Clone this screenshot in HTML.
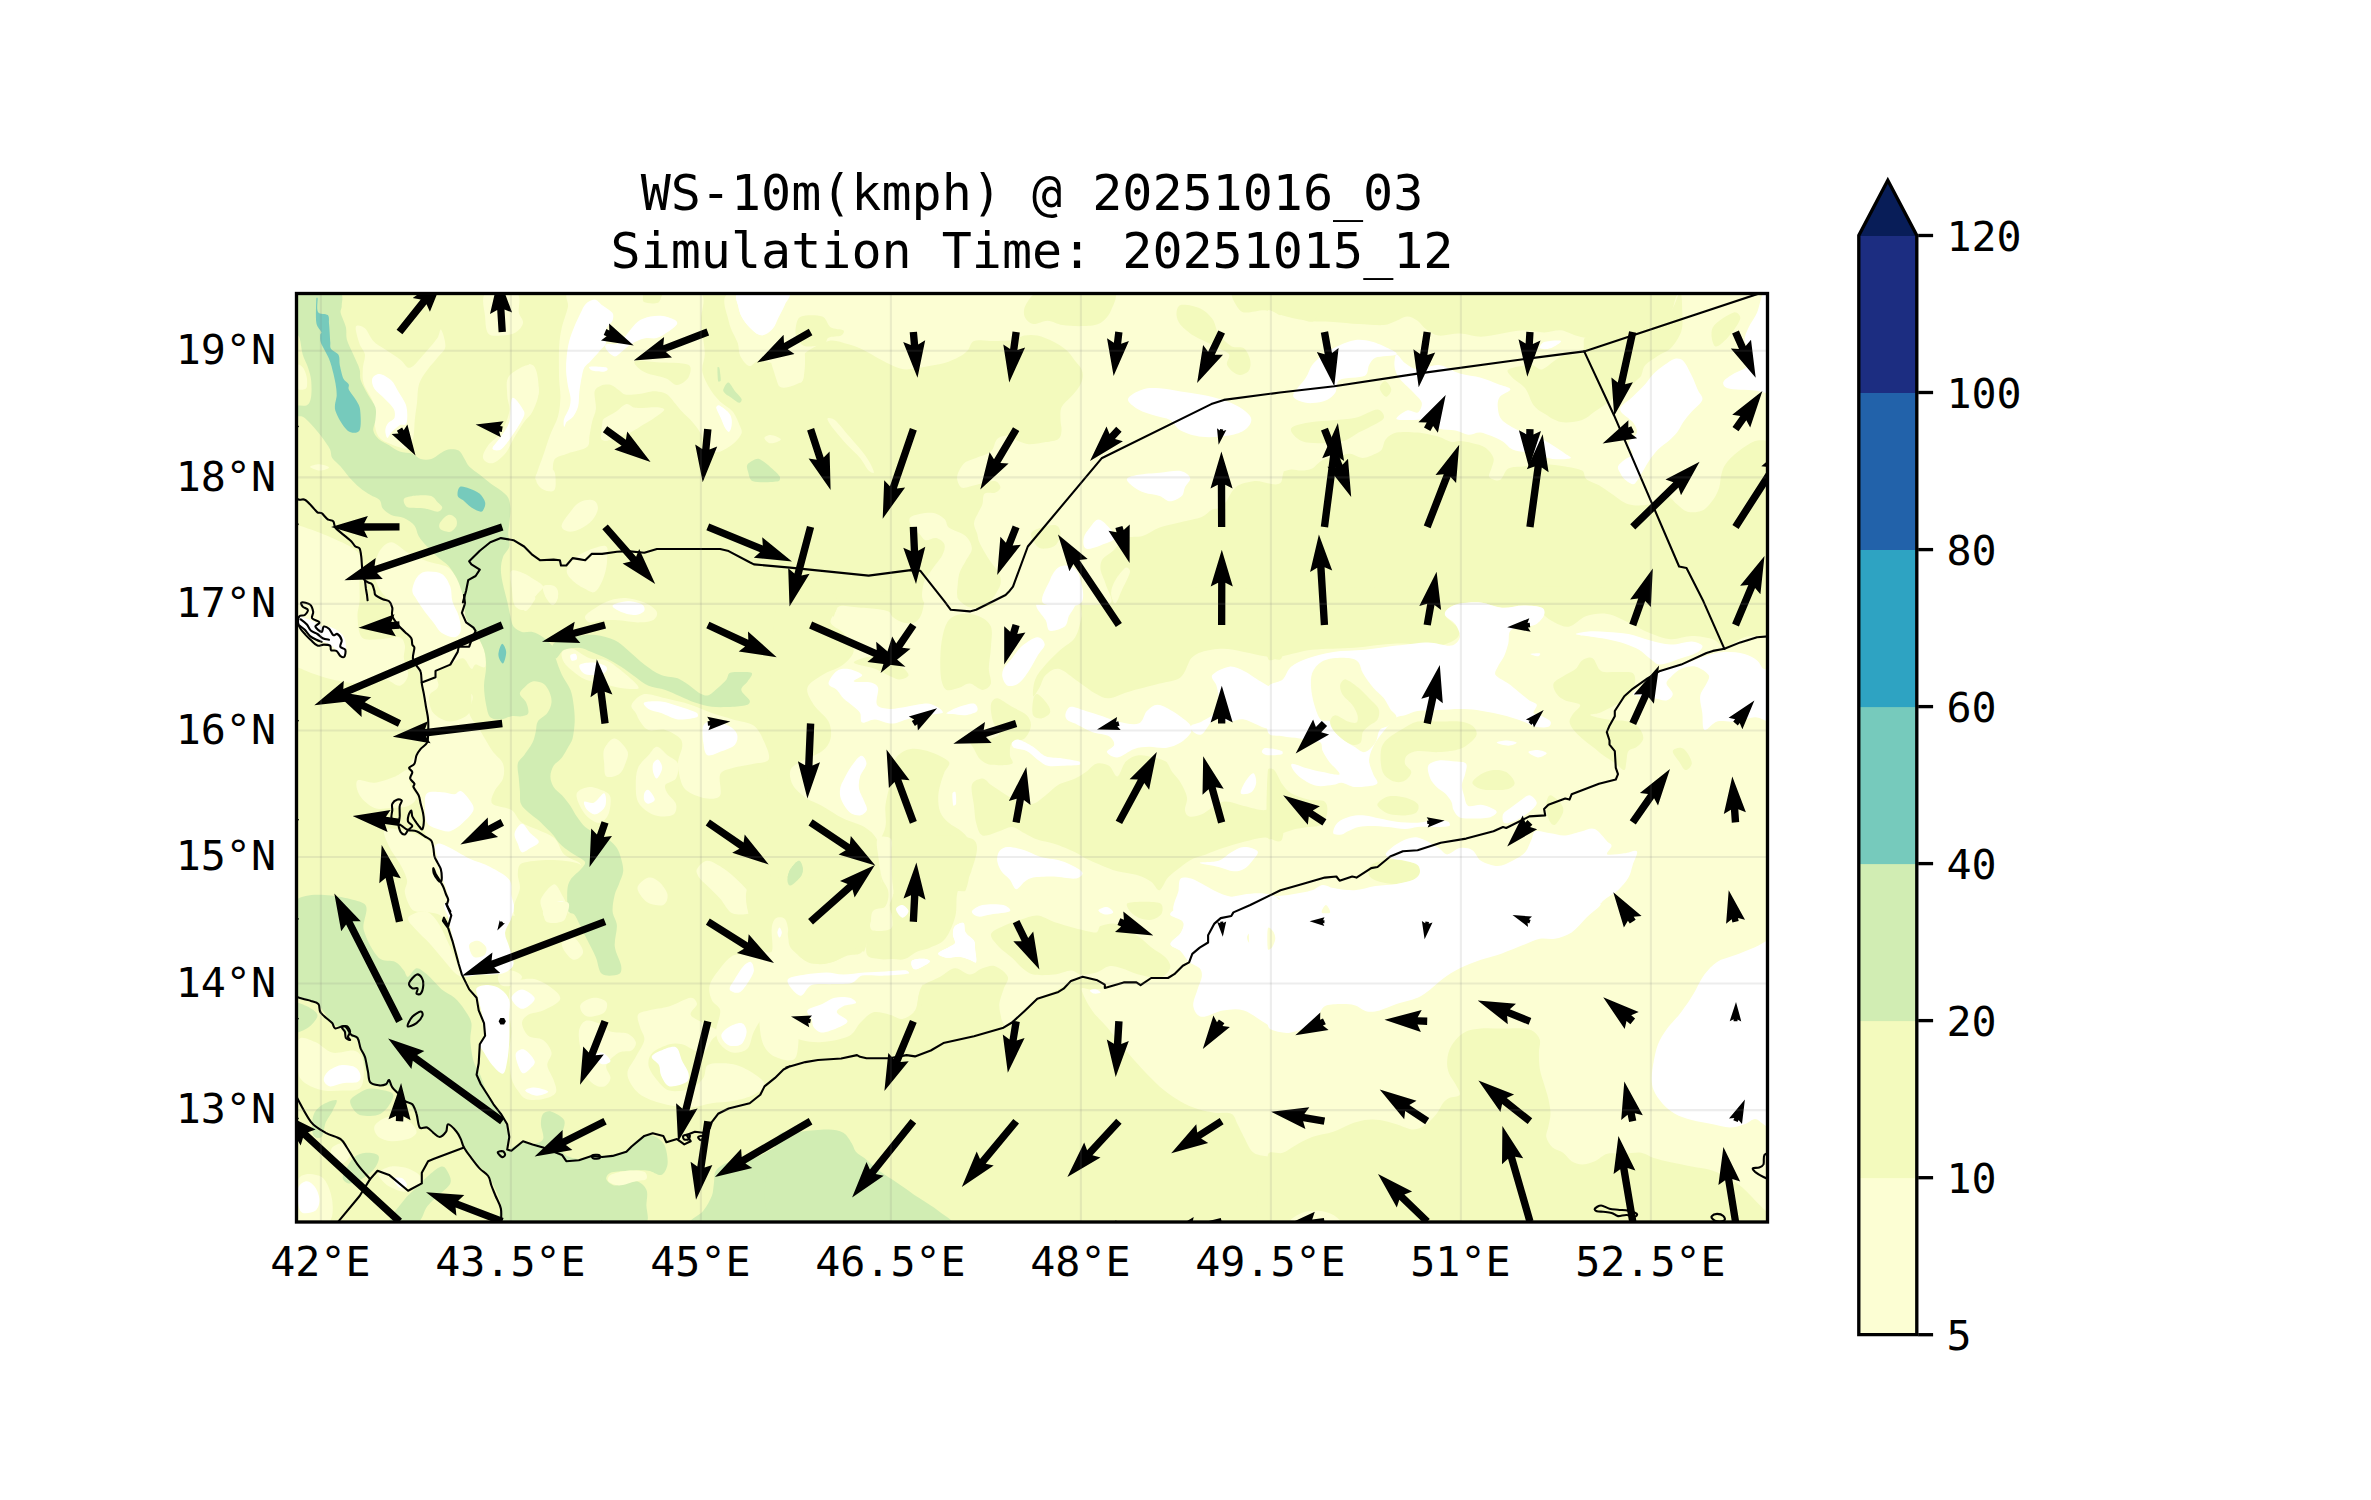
<!DOCTYPE html>
<html lang="en"><head><meta charset="utf-8"><title>WS-10m(kmph) @ 20251016_03</title>
<style>html,body{margin:0;padding:0;background:#fff;overflow:hidden}svg{display:block}text{font-family:'DejaVu Sans Mono','Liberation Mono',monospace;fill:#000}</style>
</head><body>
<svg width="2371" height="1500" viewBox="0 0 2371 1500">
<defs><clipPath id="ax"><rect x="296.5" y="293.5" width="1471.0" height="928.5"/></clipPath></defs>
<rect x="0" y="0" width="2371" height="1500" fill="#fff"/>
<g clip-path="url(#ax)">
<rect x="296.5" y="293.5" width="1471.0" height="928.5" fill="#f3fabd"/>
<polygon points="780.0,595.0 1290.0,595.0 1290.0,920.0 780.0,920.0" fill="#fcfed3"/>
<polygon points="1280.0,595.0 1780.0,595.0 1780.0,920.0 1280.0,920.0" fill="#fcfed3"/>
<path d="M835.1 593.2 C850.6 591.2 909.7 591.2 924.5 593.2 C928.7 593.7 924.2 601.3 923.7 605.0 C923.1 608.6 922.4 612.3 921.1 615.1 C919.9 617.9 918.0 620.4 916.1 621.8 C914.1 623.2 911.8 623.5 909.3 623.5 C906.8 623.5 903.7 623.0 900.9 621.8 C898.1 620.7 894.4 618.5 892.4 616.8 C890.8 615.3 891.0 612.8 889.1 611.7 C886.8 610.4 882.7 609.7 878.9 609.2 C873.9 608.5 864.9 608.1 858.7 607.5 C852.6 606.9 845.5 605.7 841.8 605.8 C839.8 605.9 838.0 606.7 836.8 608.3 C835.4 610.2 834.2 617.3 833.4 616.8 C832.6 616.2 831.4 608.9 831.7 605.0 C832.0 601.0 830.7 593.7 835.1 593.2 Z" fill="#f3fabd"/>
<path d="M777.9 592.9 C781.2 573.4 822.9 590.4 832.7 592.9 C838.1 594.2 837.3 602.7 836.9 607.7 C836.6 612.6 829.6 618.2 830.6 622.4 C831.7 626.6 839.4 628.4 843.3 633.0 C847.1 637.5 853.8 644.6 853.8 649.8 C853.8 655.1 848.4 660.5 843.3 664.6 C838.0 668.8 828.2 671.3 822.2 675.1 C816.3 678.9 808.8 682.9 807.4 687.8 C806.0 692.7 810.3 699.2 813.7 704.7 C817.3 710.3 825.7 715.9 828.5 721.5 C831.2 727.0 831.7 733.5 830.6 738.4 C829.6 743.3 826.5 747.7 822.2 751.1 C817.3 754.9 806.4 758.4 801.1 761.6 C796.9 764.1 791.9 766.2 790.5 770.0 C789.1 773.9 790.2 780.2 792.7 784.8 C795.1 789.4 800.4 793.9 805.3 797.4 C810.2 801.0 816.2 802.6 822.2 805.9 C828.5 809.4 836.2 815.0 843.3 818.5 C850.3 822.0 858.7 823.5 864.4 827.0 C869.8 830.4 874.5 834.4 877.0 839.6 C879.5 844.9 878.4 851.9 879.1 858.6 C879.8 865.3 879.8 872.7 881.2 879.7 C882.6 886.7 885.8 895.2 887.5 900.8 C889.0 905.4 896.5 912.9 891.8 913.4 C873.5 915.5 791.6 952.1 777.9 913.4 C758.9 860.0 768.8 646.3 777.9 592.9 Z" fill="#f3fabd"/>
<path d="M853.8 662.5 C853.8 660.4 867.5 655.8 874.9 656.2 C882.3 656.5 892.5 661.4 898.1 664.6 C902.8 667.2 908.6 672.7 908.6 675.1 C908.6 677.6 902.1 680.1 898.1 679.4 C892.5 678.3 882.3 671.6 874.9 668.8 C867.5 666.0 853.8 664.6 853.8 662.5 Z" fill="#f3fabd"/>
<path d="M942.4 637.2 C943.8 630.8 945.5 624.2 948.7 620.3 C951.9 616.4 956.4 614.7 961.4 614.0 C966.3 613.3 973.3 614.0 978.2 616.1 C983.1 618.2 988.8 621.4 990.9 626.6 C993.0 631.9 991.2 640.7 990.9 647.7 C990.5 654.7 988.8 662.8 988.8 668.8 C988.8 674.2 991.9 680.1 990.9 683.6 C989.8 687.1 986.0 689.9 982.4 689.9 C978.9 689.9 973.7 683.9 969.8 683.6 C965.9 683.2 963.1 686.7 959.2 687.8 C955.4 688.8 949.6 691.3 946.6 689.9 C943.6 688.5 942.2 683.5 941.3 679.4 C940.3 674.1 940.1 665.3 940.3 658.3 C940.4 651.2 941.0 643.5 942.4 637.2 Z" fill="#f3fabd"/>
<path d="M957.1 592.9 C963.1 590.8 994.7 591.1 1001.4 592.9 C1005.4 593.9 1000.7 601.2 997.2 603.4 C993.3 605.9 983.5 607.3 978.2 607.7 C973.6 608.0 969.1 608.0 965.6 605.5 C962.1 603.1 952.0 594.7 957.1 592.9 Z" fill="#f3fabd"/>
<path d="M990.9 704.7 C991.5 701.5 994.0 698.0 997.2 698.3 C1000.7 698.7 1007.0 704.0 1012.0 706.8 C1016.9 709.6 1023.6 712.0 1026.7 715.2 C1029.6 718.1 1031.3 721.9 1030.9 725.7 C1030.6 729.6 1027.8 735.6 1024.6 738.4 C1021.5 741.2 1014.4 739.8 1012.0 742.6 C1009.5 745.4 1009.9 751.8 1009.9 755.3 C1009.9 758.4 1014.8 762.3 1012.0 763.7 C1008.8 765.3 996.2 765.5 990.9 764.8 C986.7 764.2 983.1 762.1 980.3 759.5 C977.5 756.9 975.8 752.1 974.0 748.9 C972.4 746.0 968.4 741.9 969.8 740.5 C971.2 739.1 978.0 741.5 982.4 740.5 C987.4 739.5 997.6 737.3 999.3 734.2 C1001.1 731.0 994.4 726.4 993.0 721.5 C991.6 716.6 990.2 708.5 990.9 704.7 Z" fill="#f3fabd"/>
<path d="M1033.1 700.4 C1033.6 697.8 1034.8 693.4 1037.3 694.1 C1039.7 694.8 1045.7 701.5 1047.8 704.7 C1049.6 707.3 1051.0 710.8 1049.9 713.1 C1048.9 715.4 1044.3 718.0 1041.5 718.4 C1038.7 718.7 1034.4 718.1 1033.1 715.2 C1031.7 712.2 1032.4 704.0 1033.1 700.4 Z" fill="#f3fabd"/>
<path d="M1083.7 592.9 C1117.1 589.0 1248.9 582.2 1281.9 592.9 C1303.9 600.0 1284.7 646.7 1281.9 657.2 C1280.3 663.1 1271.1 657.0 1265.0 656.2 C1258.7 655.3 1251.0 653.2 1243.9 651.9 C1236.9 650.7 1229.9 648.8 1222.9 648.8 C1215.8 648.8 1207.0 650.4 1201.8 651.9 C1197.5 653.2 1194.1 654.9 1191.2 658.3 C1187.7 662.5 1185.9 673.0 1180.7 677.2 C1175.4 681.5 1167.2 681.4 1159.6 683.6 C1150.8 686.0 1136.4 689.5 1128.0 692.0 C1121.0 694.0 1114.2 698.0 1109.0 698.3 C1104.2 698.7 1100.5 696.5 1096.3 694.1 C1090.7 691.0 1081.6 683.6 1075.2 679.4 C1069.3 675.4 1063.3 669.5 1058.4 668.8 C1053.4 668.1 1048.9 672.0 1045.7 675.1 C1042.5 678.3 1041.5 684.3 1039.4 687.8 C1037.4 691.0 1033.8 697.6 1033.1 696.2 C1032.4 694.8 1033.1 684.6 1035.2 679.4 C1037.3 674.1 1041.5 669.5 1045.7 664.6 C1049.9 659.7 1055.6 654.4 1060.5 649.8 C1065.4 645.3 1071.7 642.8 1075.2 637.2 C1078.7 631.6 1080.2 623.5 1081.6 616.1 C1083.0 608.7 1075.3 593.9 1083.7 592.9 Z" fill="#f3fabd"/>
<path d="M898.1 755.3 C901.3 752.1 905.8 749.6 910.7 748.9 C915.7 748.2 921.8 749.1 927.6 751.1 C933.9 753.2 945.9 758.1 948.7 761.6 C951.3 764.8 945.9 768.3 944.5 772.1 C943.1 776.0 941.3 780.6 940.3 784.8 C939.2 789.0 938.2 792.9 938.2 797.4 C938.2 802.0 938.5 808.0 940.3 812.2 C942.0 816.4 945.2 819.6 948.7 822.8 C952.2 825.9 957.8 828.0 961.4 831.2 C964.9 834.4 968.0 837.2 969.8 841.7 C971.6 846.3 971.9 853.3 971.9 858.6 C971.9 863.9 970.8 868.1 969.8 873.4 C968.7 878.6 967.7 885.7 965.6 890.2 C963.5 894.6 959.2 896.9 957.1 900.8 C955.0 904.6 957.6 912.5 952.9 913.4 C942.0 915.5 903.7 919.1 891.8 913.4 C880.3 908.0 883.3 888.8 881.2 879.7 C879.5 872.3 879.8 863.9 879.1 858.6 C878.6 854.8 876.2 851.9 877.0 848.1 C878.1 842.8 884.0 834.0 885.4 827.0 C886.8 819.9 884.7 812.9 885.4 805.9 C886.1 798.9 888.6 791.1 889.7 784.8 C890.7 778.8 890.4 772.8 891.8 767.9 C893.2 763.0 894.9 758.4 898.1 755.3 Z" fill="#f3fabd"/>
<path d="M971.9 784.8 C973.2 780.6 979.3 778.5 982.4 778.5 C985.6 778.5 987.8 782.6 990.9 784.8 C994.4 787.3 999.0 790.4 1003.5 793.2 C1008.1 796.0 1013.4 799.9 1018.3 801.7 C1023.2 803.4 1028.5 804.8 1033.1 803.8 C1037.6 802.7 1041.5 798.5 1045.7 795.3 C1049.9 792.2 1053.4 787.6 1058.4 784.8 C1063.3 782.0 1070.7 780.6 1075.2 778.5 C1079.3 776.6 1082.3 774.6 1085.8 772.1 C1089.3 769.7 1092.5 764.8 1096.3 763.7 C1100.2 762.7 1105.5 763.7 1109.0 765.8 C1112.5 767.9 1114.6 777.1 1117.4 776.4 C1120.2 775.7 1122.3 765.1 1125.8 761.6 C1129.4 758.1 1133.9 756.0 1138.5 755.3 C1143.1 754.6 1148.7 756.3 1153.3 757.4 C1157.8 758.4 1162.7 759.1 1165.9 761.6 C1169.1 764.1 1169.8 768.6 1172.2 772.1 C1174.7 775.7 1178.2 778.5 1180.7 782.7 C1183.1 786.9 1186.3 792.9 1187.0 797.4 C1187.7 802.0 1184.5 806.9 1184.9 810.1 C1185.2 812.8 1186.5 815.8 1189.1 816.4 C1191.9 817.1 1197.5 816.2 1201.8 814.3 C1207.4 811.9 1215.8 803.1 1222.9 801.7 C1229.9 800.3 1236.9 804.5 1243.9 805.9 C1251.0 807.3 1258.7 810.5 1265.0 810.1 C1271.4 809.7 1279.1 798.9 1281.9 803.8 C1284.7 808.7 1284.7 834.0 1281.9 839.6 C1279.2 845.1 1271.1 837.2 1265.0 837.5 C1258.7 837.9 1251.0 840.0 1243.9 841.7 C1236.9 843.5 1229.2 845.9 1222.9 848.1 C1216.7 850.1 1210.9 852.6 1206.0 854.4 C1201.5 856.0 1197.5 856.5 1193.3 858.6 C1189.1 860.7 1184.9 863.9 1180.7 867.0 C1176.5 870.2 1171.5 873.7 1168.0 877.6 C1164.5 881.4 1162.4 889.5 1159.6 890.2 C1156.8 890.9 1154.7 884.3 1151.2 881.8 C1147.6 879.3 1143.4 877.0 1138.5 875.5 C1132.9 873.7 1123.7 873.0 1117.4 871.3 C1111.2 869.5 1105.8 867.0 1100.5 864.9 C1095.3 862.8 1090.0 860.7 1085.8 858.6 C1081.8 856.6 1079.2 854.1 1075.2 852.3 C1070.0 849.8 1060.5 845.9 1054.1 843.8 C1048.2 841.9 1042.2 841.4 1037.3 839.6 C1032.5 837.9 1028.8 835.4 1024.6 833.3 C1020.4 831.2 1016.2 827.3 1012.0 827.0 C1007.8 826.6 1003.9 829.9 999.3 831.2 C994.4 832.6 986.3 836.8 982.4 835.4 C978.6 834.0 977.5 827.6 976.1 822.8 C974.7 817.8 974.7 812.0 974.0 805.9 C973.3 799.6 970.5 789.4 971.9 784.8 Z" fill="#f3fabd"/>
<path d="M787.4 879.7 C787.4 876.9 788.6 872.3 790.5 869.1 C792.5 866.0 796.9 860.7 799.0 860.7 C801.0 860.7 802.6 866.3 802.8 869.1 C803.0 872.0 801.9 875.0 800.0 877.6 C798.0 880.3 792.7 885.2 790.5 885.6 C788.4 885.9 787.4 882.1 787.4 879.7 Z" fill="#d1edb3"/>
<path d="M828.5 683.6 C828.5 680.4 833.4 673.3 836.9 670.9 C840.5 668.5 845.4 668.5 849.6 669.2 C853.8 669.9 861.5 673.1 862.2 675.1 C862.9 677.2 852.4 680.2 853.8 681.5 C855.2 682.7 866.6 681.5 870.7 682.5 C873.8 683.3 877.2 684.6 878.1 687.8 C879.1 691.5 875.1 701.1 877.0 704.7 C878.9 708.2 884.9 708.5 889.7 708.9 C894.6 709.2 900.5 707.6 906.5 706.8 C912.9 705.9 922.0 703.3 927.6 703.6 C932.5 703.9 937.8 707.3 940.3 708.9 C941.7 709.8 943.9 712.3 942.4 713.1 C940.3 714.1 932.9 714.3 927.6 715.2 C921.6 716.3 912.5 718.0 906.5 719.4 C901.1 720.7 897.0 723.6 891.8 723.6 C886.5 723.6 879.8 719.6 874.9 719.4 C870.2 719.3 864.7 723.6 862.2 722.6 C859.8 721.5 861.5 715.7 860.1 713.1 C858.7 710.5 856.2 708.9 853.8 706.8 C851.0 704.3 846.1 701.1 843.3 698.3 C840.6 695.6 839.4 692.4 836.9 689.9 C834.5 687.4 828.5 686.7 828.5 683.6 Z" fill="#ffffff"/>
<path d="M946.6 713.1 C947.7 711.9 954.7 708.3 959.2 706.8 C963.8 705.2 971.0 702.9 974.0 703.6 C976.8 704.3 978.6 709.1 977.2 711.0 C975.8 712.9 969.6 714.7 965.6 715.2 C961.5 715.7 956.1 714.5 952.9 714.1 C950.6 713.9 945.5 714.3 946.6 713.1 Z" fill="#ffffff"/>
<path d="M1003.5 668.8 C1005.1 665.6 1008.9 662.0 1012.0 658.3 C1015.1 654.4 1018.3 649.1 1022.5 645.6 C1026.7 642.1 1033.6 637.4 1037.3 637.2 C1041.0 637.0 1044.7 641.4 1044.7 644.6 C1044.7 647.7 1039.8 651.9 1037.3 656.2 C1034.6 660.5 1032.0 666.3 1028.8 670.9 C1025.7 675.5 1021.8 681.1 1018.3 683.6 C1015.1 685.8 1010.4 686.7 1007.8 685.7 C1005.1 684.6 1003.2 680.1 1002.5 677.2 C1001.8 674.4 1002.2 671.5 1003.5 668.8 Z" fill="#ffffff"/>
<path d="M1036.2 605.5 C1035.9 601.0 1038.5 594.4 1043.6 592.9 C1050.8 590.8 1074.2 590.8 1079.5 592.9 C1083.9 594.7 1077.0 601.7 1075.2 605.5 C1073.5 609.4 1070.7 612.6 1068.9 616.1 C1067.2 619.6 1067.9 624.2 1064.7 626.6 C1061.5 629.1 1053.1 631.9 1049.9 630.8 C1046.8 629.8 1047.7 623.9 1045.7 620.3 C1043.4 616.1 1036.6 610.1 1036.2 605.5 Z" fill="#ffffff"/>
<path d="M1012.0 742.6 C1012.7 741.2 1015.8 739.0 1018.3 739.5 C1021.8 740.2 1028.5 744.0 1033.1 746.8 C1037.6 749.6 1040.8 754.4 1045.7 756.3 C1050.6 758.3 1057.0 757.6 1062.6 758.4 C1068.2 759.3 1076.6 760.5 1079.5 761.6 C1080.5 762.0 1080.6 764.5 1079.5 764.8 C1076.6 765.5 1067.9 765.6 1062.6 765.8 C1057.3 766.0 1052.0 766.9 1047.8 765.8 C1043.6 764.8 1040.8 761.9 1037.3 759.5 C1033.8 757.0 1030.6 753.0 1026.7 751.1 C1022.9 749.1 1016.5 749.3 1014.1 747.9 C1012.3 746.9 1011.3 744.0 1012.0 742.6 Z" fill="#ffffff"/>
<path d="M843.3 780.6 C845.2 776.7 848.7 770.0 851.7 765.8 C854.6 761.8 858.7 756.0 861.2 755.7 C863.6 755.3 866.6 760.3 866.5 763.7 C866.3 767.1 861.4 772.1 860.1 776.4 C858.9 780.6 858.4 784.8 859.1 789.0 C859.8 793.2 863.1 798.1 864.4 801.7 C865.5 804.6 867.6 807.8 866.9 810.1 C866.2 812.4 863.0 815.0 860.1 815.4 C857.3 815.7 852.6 814.7 849.6 812.2 C846.4 809.6 842.7 803.4 841.2 799.6 C839.7 796.0 839.7 792.2 840.1 789.0 C840.5 785.8 841.8 783.5 843.3 780.6 Z" fill="#ffffff"/>
<path d="M952.5 793.2 C952.7 792.1 955.1 791.1 955.5 792.2 C956.1 793.9 956.4 801.6 956.1 803.8 C955.9 804.9 953.7 806.6 953.3 805.5 C952.7 803.7 952.1 795.4 952.5 793.2 Z" fill="#ffffff"/>
<path d="M1065.7 713.1 C1066.4 711.0 1068.1 707.1 1071.0 706.8 C1074.4 706.4 1080.5 709.4 1085.8 711.0 C1091.1 712.6 1097.4 714.5 1102.6 716.3 C1107.9 718.0 1111.9 720.4 1117.4 721.5 C1123.4 722.8 1133.6 725.4 1138.5 723.6 C1143.4 721.9 1143.8 714.1 1146.9 711.0 C1150.1 707.9 1153.3 704.7 1157.5 704.7 C1161.7 704.7 1167.3 708.0 1172.2 711.0 C1177.5 714.1 1185.9 720.1 1189.1 723.6 C1191.2 726.0 1192.5 729.2 1191.2 732.1 C1189.8 735.2 1184.9 740.0 1180.7 742.6 C1176.5 745.3 1171.2 747.2 1165.9 747.9 C1160.6 748.6 1154.3 746.7 1149.0 746.8 C1143.8 747.0 1139.4 747.2 1134.3 748.9 C1129.0 750.7 1122.0 756.9 1117.4 757.4 C1113.2 757.9 1107.4 754.2 1106.9 752.1 C1106.3 750.0 1113.9 747.4 1114.2 744.7 C1114.6 742.1 1112.1 738.1 1109.0 736.3 C1105.3 734.2 1097.7 734.2 1092.1 732.1 C1086.5 730.0 1079.5 725.7 1075.2 723.6 C1072.2 722.1 1068.4 721.2 1066.8 719.4 C1065.3 717.7 1065.0 715.2 1065.7 713.1 Z" fill="#ffffff"/>
<path d="M1212.3 675.1 C1214.4 672.0 1223.9 667.4 1229.2 666.7 C1234.4 666.0 1238.9 668.6 1243.9 670.9 C1249.2 673.4 1255.9 678.6 1260.8 681.5 C1265.2 684.0 1269.9 687.4 1273.5 687.8 C1276.8 688.1 1281.2 680.2 1281.9 683.6 C1283.3 690.6 1284.7 722.6 1281.9 730.0 C1279.7 735.7 1270.9 729.5 1265.0 727.9 C1258.7 726.1 1249.9 720.5 1243.9 719.4 C1238.7 718.5 1234.1 721.5 1229.2 721.5 C1224.3 721.5 1219.0 717.3 1214.4 719.4 C1209.8 721.5 1205.3 732.1 1201.8 734.2 C1199.1 735.8 1195.1 733.5 1193.3 732.1 C1191.6 730.7 1189.8 727.5 1191.2 725.7 C1192.6 724.0 1198.2 723.5 1201.8 721.5 C1205.6 719.4 1211.6 716.6 1214.4 713.1 C1217.2 709.6 1218.3 705.0 1218.6 700.4 C1219.0 695.9 1217.6 689.9 1216.5 685.7 C1215.5 681.7 1210.2 678.3 1212.3 675.1 Z" fill="#ffffff"/>
<path d="M1240.8 793.2 C1239.9 791.3 1243.9 783.9 1246.0 780.6 C1248.1 777.4 1251.7 772.8 1253.4 773.2 C1255.1 773.5 1256.5 779.5 1256.2 782.7 C1255.8 785.8 1253.9 790.4 1251.3 792.2 C1248.8 793.9 1241.7 795.2 1240.8 793.2 Z" fill="#ffffff"/>
<path d="M1261.9 752.1 C1261.5 750.9 1263.1 748.0 1265.0 747.9 C1268.4 747.7 1279.1 750.0 1281.9 751.1 C1283.0 751.5 1283.0 753.9 1281.9 754.2 C1279.4 754.9 1270.5 755.6 1267.1 755.3 C1264.9 755.0 1262.2 753.3 1261.9 752.1 Z" fill="#ffffff"/>
<path d="M997.2 860.7 C996.9 857.4 997.6 853.5 999.3 851.2 C1001.1 848.9 1004.4 847.1 1007.8 847.0 C1012.0 846.8 1019.4 848.6 1024.6 850.2 C1029.9 851.7 1033.8 854.9 1039.4 856.5 C1045.4 858.3 1054.5 859.0 1060.5 860.7 C1066.0 862.3 1071.5 864.9 1075.2 867.0 C1078.3 868.8 1082.6 871.4 1082.6 873.4 C1082.6 875.3 1078.5 878.3 1075.2 878.6 C1070.5 879.2 1061.2 876.7 1054.1 876.5 C1047.1 876.4 1038.0 876.7 1033.1 877.6 C1029.7 878.2 1027.4 879.9 1024.6 881.8 C1021.8 883.7 1018.6 889.5 1016.2 889.2 C1013.7 888.8 1012.3 882.7 1009.9 879.7 C1007.4 876.7 1003.5 874.4 1001.4 871.3 C999.3 868.1 997.6 864.0 997.2 860.7 Z" fill="#ffffff"/>
<path d="M1199.7 862.8 C1199.7 861.8 1213.4 862.5 1218.6 860.7 C1223.8 859.0 1227.1 854.6 1231.3 852.3 C1235.5 850.0 1239.5 847.2 1243.9 847.0 C1248.3 846.8 1256.2 848.9 1257.6 851.2 C1259.1 853.5 1254.7 857.7 1252.4 860.7 C1250.1 863.7 1247.1 867.4 1243.9 869.1 C1240.8 870.9 1237.3 871.6 1233.4 871.3 C1229.2 870.9 1224.0 868.4 1218.6 867.0 C1213.0 865.6 1199.7 863.9 1199.7 862.8 Z" fill="#ffffff"/>
<path d="M1176.5 913.4 C1168.4 911.0 1177.9 896.0 1178.6 890.2 C1179.1 886.0 1178.6 880.6 1180.7 878.6 C1182.8 876.7 1187.6 877.6 1191.2 878.6 C1195.4 879.9 1200.7 883.4 1206.0 886.0 C1211.3 888.7 1216.5 892.3 1222.9 894.5 C1229.2 896.6 1237.6 898.3 1243.9 898.7 C1250.1 899.0 1257.3 895.9 1260.8 896.6 C1263.5 897.1 1266.0 900.3 1265.0 902.9 C1264.0 905.7 1259.8 912.8 1254.5 913.4 C1239.7 915.2 1189.1 917.3 1176.5 913.4 Z" fill="#ffffff"/>
<path d="M971.9 912.4 C968.9 911.6 973.2 905.8 976.1 905.0 C979.3 904.1 986.3 905.9 990.9 907.1 C995.5 908.3 1006.7 911.5 1003.5 912.4 C1000.4 913.3 976.5 913.6 971.9 912.4 Z" fill="#ffffff"/>
<path d="M1267.9 592.9 C1351.9 582.0 1687.9 586.6 1771.9 592.9 C1785.5 593.9 1776.5 623.5 1771.9 630.8 C1767.3 638.2 1752.2 634.5 1744.5 637.2 C1737.3 639.6 1730.8 646.3 1725.5 646.7 C1720.2 647.0 1717.9 640.9 1712.9 639.3 C1707.2 637.5 1698.8 636.1 1691.8 636.1 C1684.7 636.1 1677.7 639.8 1670.7 639.3 C1663.6 638.8 1656.6 635.8 1649.6 633.0 C1642.6 630.1 1635.5 625.6 1628.5 622.4 C1621.5 619.3 1614.4 615.0 1607.4 614.0 C1600.4 612.9 1592.6 614.0 1586.3 616.1 C1580.0 618.2 1574.7 625.6 1569.5 626.6 C1564.2 627.7 1558.9 624.3 1554.7 622.4 C1550.5 620.5 1546.3 617.5 1544.1 615.0 C1542.3 612.9 1544.6 608.8 1542.0 607.7 C1538.5 606.1 1529.7 605.5 1523.1 605.5 C1516.4 605.5 1509.0 608.2 1502.0 607.7 C1494.9 607.1 1487.9 603.1 1480.9 602.4 C1473.9 601.7 1465.1 602.6 1459.8 603.4 C1455.8 604.1 1451.7 605.7 1449.2 607.7 C1446.8 609.5 1444.3 612.4 1445.0 615.0 C1445.7 617.7 1451.0 620.8 1453.5 623.5 C1455.9 626.0 1459.4 628.2 1459.8 630.8 C1460.1 633.5 1458.4 637.3 1455.6 639.3 C1452.1 641.7 1445.2 645.1 1438.7 645.6 C1428.9 646.3 1410.6 643.2 1396.5 643.5 C1382.5 643.9 1368.4 646.7 1354.4 647.7 C1340.3 648.8 1324.1 648.4 1312.2 649.8 C1301.4 651.1 1290.0 654.7 1282.7 656.2 C1277.4 657.2 1269.1 663.5 1267.9 658.3 C1265.4 647.7 1244.6 595.9 1267.9 592.9 Z" fill="#f3fabd"/>
<path d="M1553.6 683.6 C1555.0 680.4 1561.5 677.6 1565.2 675.1 C1568.9 672.7 1573.0 671.3 1575.8 668.8 C1578.6 666.3 1579.3 662.1 1582.1 660.4 C1584.9 658.6 1589.5 656.5 1592.6 658.3 C1595.8 660.0 1596.9 668.6 1601.1 670.9 C1605.3 673.2 1612.7 671.6 1618.0 672.0 C1623.2 672.3 1629.9 671.1 1632.7 673.0 C1635.5 675.0 1635.5 679.8 1634.8 683.6 C1634.1 687.4 1631.7 692.7 1628.5 696.2 C1625.3 699.7 1620.6 701.9 1615.8 704.7 C1610.9 707.5 1603.2 711.3 1599.0 713.1 C1596.1 714.3 1589.1 714.1 1590.5 715.2 C1591.9 716.3 1601.2 718.4 1607.4 719.4 C1613.7 720.5 1623.2 720.1 1628.5 721.5 C1632.8 722.7 1636.6 725.0 1639.0 727.9 C1641.5 730.7 1643.6 735.2 1643.3 738.4 C1642.9 741.6 1639.4 744.7 1636.9 746.8 C1634.5 748.9 1630.3 748.6 1628.5 751.1 C1626.7 753.5 1627.1 758.4 1626.4 761.6 C1625.7 764.7 1626.0 769.7 1624.3 770.0 C1622.5 770.4 1619.0 765.9 1615.8 763.7 C1612.3 761.2 1607.1 758.1 1603.2 755.3 C1599.3 752.5 1596.2 749.6 1592.6 746.8 C1589.1 744.0 1585.3 741.2 1582.1 738.4 C1578.9 735.6 1575.8 732.8 1573.7 730.0 C1571.6 727.2 1569.5 724.3 1569.5 721.5 C1569.5 718.7 1571.9 715.9 1573.7 713.1 C1575.4 710.3 1581.4 706.8 1580.0 704.7 C1578.6 702.5 1569.1 702.2 1565.2 700.4 C1561.8 698.9 1558.7 696.9 1556.8 694.1 C1554.9 691.3 1552.2 686.7 1553.6 683.6 Z" fill="#f3fabd"/>
<path d="M1381.8 746.8 C1382.9 743.2 1385.3 740.9 1388.1 738.4 C1391.3 735.6 1396.0 732.7 1400.7 730.0 C1405.7 727.2 1411.3 722.9 1417.6 721.5 C1423.9 720.1 1431.7 721.5 1438.7 721.5 C1445.7 721.5 1454.2 720.8 1459.8 721.5 C1464.6 722.1 1469.6 723.6 1472.4 725.7 C1475.2 727.8 1477.0 731.4 1476.7 734.2 C1476.3 737.0 1473.1 740.2 1470.3 742.6 C1467.5 745.1 1464.0 747.7 1459.8 748.9 C1454.5 750.5 1445.7 751.8 1438.7 752.1 C1431.7 752.5 1422.9 750.5 1417.6 751.1 C1413.5 751.5 1409.2 753.2 1407.1 755.3 C1405.0 757.4 1404.3 760.9 1405.0 763.7 C1405.7 766.5 1411.3 769.3 1411.3 772.1 C1411.3 775.0 1407.8 779.0 1405.0 780.6 C1402.2 782.2 1397.9 782.7 1394.4 781.6 C1390.9 780.6 1386.2 777.6 1383.9 774.2 C1381.6 770.9 1381.1 766.2 1380.7 761.6 C1380.4 757.0 1380.5 750.7 1381.8 746.8 Z" fill="#f3fabd"/>
<path d="M1472.4 782.7 C1472.4 780.2 1477.4 776.4 1480.9 774.2 C1484.4 772.1 1489.3 770.4 1493.5 770.0 C1497.8 769.7 1502.7 770.0 1506.2 772.1 C1509.7 774.2 1514.3 779.9 1514.6 782.7 C1515.0 785.5 1511.3 787.9 1508.3 789.0 C1504.8 790.2 1498.1 790.1 1493.5 790.1 C1489.0 790.1 1484.4 790.2 1480.9 789.0 C1477.4 787.8 1472.4 785.1 1472.4 782.7 Z" fill="#f3fabd"/>
<path d="M1377.5 803.8 C1378.6 801.5 1383.6 797.4 1388.1 796.4 C1392.7 795.3 1400.0 796.2 1405.0 797.4 C1409.9 798.7 1415.7 801.3 1417.6 803.8 C1419.5 806.2 1418.7 810.3 1416.6 812.2 C1414.5 814.1 1409.3 815.0 1405.0 815.4 C1400.6 815.7 1394.1 815.2 1390.2 814.3 C1386.9 813.6 1383.9 811.9 1381.8 810.1 C1379.7 808.3 1376.5 806.1 1377.5 803.8 Z" fill="#f3fabd"/>
<path d="M1267.9 770.0 C1268.1 767.8 1272.6 768.4 1274.2 770.0 C1276.7 772.5 1279.8 780.9 1282.7 784.8 C1285.2 788.3 1287.4 791.1 1291.1 793.2 C1295.3 795.7 1302.3 798.1 1308.0 799.6 C1313.6 801.0 1321.7 799.2 1324.8 801.7 C1328.0 804.1 1327.6 810.5 1326.9 814.3 C1326.2 818.2 1323.8 822.8 1320.6 824.9 C1317.4 827.0 1312.2 826.3 1308.0 827.0 C1303.7 827.7 1299.5 828.0 1295.3 829.1 C1291.1 830.1 1287.2 831.9 1282.7 833.3 C1278.1 834.7 1269.1 842.9 1267.9 837.5 C1265.4 827.0 1266.8 781.3 1267.9 770.0 Z" fill="#f3fabd"/>
<path d="M1672.8 751.1 C1673.1 748.8 1678.8 747.5 1681.2 747.9 C1683.7 748.2 1685.9 750.7 1687.5 753.2 C1689.3 755.8 1692.1 760.9 1691.8 763.7 C1691.4 766.5 1687.5 770.4 1685.4 770.0 C1683.3 769.7 1681.2 764.8 1679.1 761.6 C1677.0 758.4 1672.4 753.3 1672.8 751.1 Z" fill="#f3fabd"/>
<path d="M1546.3 803.8 C1546.6 800.4 1548.0 795.3 1550.5 795.3 C1552.9 795.3 1558.9 801.0 1561.0 803.8 C1562.9 806.3 1564.0 809.2 1563.1 812.2 C1562.1 815.7 1557.2 823.8 1554.7 824.9 C1552.2 825.9 1549.6 821.5 1548.4 818.5 C1547.0 815.0 1545.9 807.6 1546.3 803.8 Z" fill="#f3fabd"/>
<path d="M1371.2 864.9 C1374.4 862.3 1382.5 860.4 1388.1 859.7 C1393.7 859.0 1400.0 859.8 1405.0 860.7 C1409.7 861.6 1415.2 862.8 1417.6 864.9 C1420.0 867.0 1420.4 870.9 1419.7 873.4 C1419.0 875.8 1416.3 878.4 1413.4 879.7 C1409.5 881.4 1402.2 883.6 1396.5 883.9 C1390.9 884.3 1384.2 883.2 1379.7 881.8 C1375.4 880.5 1370.5 878.3 1369.1 875.5 C1367.7 872.7 1368.2 867.4 1371.2 864.9 Z" fill="#f3fabd"/>
<path d="M1267.9 687.8 C1269.5 681.9 1278.8 682.9 1282.7 679.4 C1286.5 675.8 1286.9 670.2 1291.1 666.7 C1295.3 663.2 1301.5 660.5 1308.0 658.3 C1315.0 655.8 1324.0 653.3 1333.3 651.9 C1342.8 650.5 1354.4 650.9 1364.9 649.8 C1375.4 648.8 1386.0 646.8 1396.5 645.6 C1407.1 644.4 1419.0 642.4 1428.2 642.4 C1436.6 642.4 1446.1 646.5 1451.4 645.6 C1455.6 644.9 1459.1 640.7 1459.8 637.2 C1460.5 633.7 1458.0 628.2 1455.6 624.5 C1453.1 620.8 1446.1 617.8 1445.0 615.0 C1444.0 612.2 1446.8 609.5 1449.2 607.7 C1451.7 605.7 1455.8 604.1 1459.8 603.4 C1465.1 602.6 1473.9 601.7 1480.9 602.4 C1487.9 603.1 1494.9 607.1 1502.0 607.7 C1509.0 608.2 1516.4 605.5 1523.1 605.5 C1529.7 605.5 1538.5 606.1 1542.0 607.7 C1544.6 608.8 1545.1 612.4 1544.1 615.0 C1543.1 617.8 1539.2 622.6 1535.7 624.5 C1532.2 626.5 1527.3 625.6 1523.1 626.6 C1518.8 627.7 1512.9 628.0 1510.4 630.8 C1507.9 633.7 1509.4 639.3 1508.3 643.5 C1507.2 647.7 1505.8 652.3 1504.1 656.2 C1502.3 660.0 1499.2 663.5 1497.8 666.7 C1496.5 669.6 1494.0 672.5 1495.6 675.1 C1497.4 677.9 1504.4 680.8 1508.3 683.6 C1512.2 686.4 1515.3 689.2 1518.8 692.0 C1522.4 694.8 1526.4 698.3 1529.4 700.4 C1531.9 702.2 1536.1 702.5 1536.8 704.7 C1537.5 706.8 1532.7 711.2 1533.6 713.1 C1534.5 715.0 1539.2 714.9 1542.0 716.3 C1544.8 717.7 1549.4 719.8 1550.5 721.5 C1551.5 723.3 1550.3 726.1 1548.4 726.8 C1545.9 727.7 1539.9 727.7 1535.7 726.8 C1531.5 725.9 1527.3 723.1 1523.1 721.5 C1518.8 719.9 1515.0 718.6 1510.4 717.3 C1505.5 715.9 1499.2 714.3 1493.5 713.1 C1487.9 711.9 1482.3 710.6 1476.7 709.9 C1471.0 709.2 1465.9 708.9 1459.8 708.9 C1453.5 708.9 1445.7 709.6 1438.7 709.9 C1431.7 710.3 1423.2 710.1 1417.6 711.0 C1412.9 711.7 1408.5 714.1 1405.0 715.2 C1402.0 716.1 1399.2 715.7 1396.5 717.3 C1393.7 719.1 1390.8 722.4 1388.1 725.7 C1384.6 730.0 1378.6 737.0 1375.4 742.6 C1372.3 748.2 1369.5 754.2 1369.1 759.5 C1368.8 764.8 1371.9 770.4 1373.3 774.2 C1374.5 777.4 1377.9 780.8 1377.5 782.7 C1377.2 784.6 1373.7 785.4 1371.2 785.8 C1367.4 786.6 1359.3 787.4 1354.4 786.9 C1349.6 786.4 1345.2 783.0 1341.7 782.7 C1338.6 782.4 1336.4 784.4 1333.3 784.8 C1329.0 785.3 1321.7 786.9 1316.4 785.8 C1311.1 784.8 1305.5 781.1 1301.6 778.5 C1298.1 776.0 1294.8 772.5 1293.2 770.0 C1291.9 768.1 1290.0 764.1 1292.1 763.7 C1294.3 763.4 1300.9 766.5 1305.8 767.9 C1310.9 769.3 1317.1 771.1 1322.7 772.1 C1328.3 773.2 1338.5 776.0 1339.6 774.2 C1340.6 772.5 1331.9 765.5 1329.0 761.6 C1326.4 758.0 1324.1 754.2 1322.7 751.1 C1321.4 748.2 1322.4 744.4 1320.6 742.6 C1318.9 740.9 1315.2 741.1 1312.2 740.5 C1308.7 739.8 1304.1 739.1 1299.5 738.4 C1294.6 737.7 1287.9 737.3 1282.7 736.3 C1277.4 735.2 1269.5 737.4 1267.9 732.1 C1265.4 724.0 1265.4 696.6 1267.9 687.8 Z" fill="#ffffff"/>
<path d="M1311.1 687.8 C1310.8 682.5 1310.6 677.2 1312.2 673.0 C1313.8 668.8 1317.1 664.9 1320.6 662.5 C1324.1 660.0 1328.5 658.9 1333.3 658.3 C1338.2 657.6 1345.9 657.6 1350.1 658.3 C1353.5 658.8 1356.5 660.0 1358.6 662.5 C1360.7 664.9 1360.7 669.5 1362.8 673.0 C1365.2 677.2 1369.8 683.6 1373.3 687.8 C1376.8 691.9 1381.1 694.8 1383.9 698.3 C1386.6 701.8 1388.1 705.7 1390.2 708.9 C1392.3 712.0 1396.9 714.5 1396.5 717.3 C1396.2 720.1 1390.9 723.6 1388.1 725.7 C1385.4 727.8 1381.7 727.2 1379.7 730.0 C1377.5 732.8 1377.9 738.9 1375.4 742.6 C1373.0 746.3 1368.4 751.4 1364.9 752.1 C1361.4 752.8 1358.0 749.0 1354.4 746.8 C1350.5 744.6 1345.2 741.2 1341.7 738.4 C1338.3 735.7 1335.2 732.8 1333.3 730.0 C1331.4 727.3 1332.2 723.3 1330.1 721.5 C1328.0 719.8 1323.0 722.0 1320.6 719.4 C1318.0 716.6 1315.9 709.9 1314.3 704.7 C1312.7 699.4 1311.5 693.1 1311.1 687.8 Z" fill="#fcfed3"/>
<path d="M1340.6 683.6 C1341.5 681.8 1343.6 678.8 1345.9 679.4 C1348.9 680.1 1354.7 684.6 1358.6 687.8 C1362.4 691.0 1365.8 694.8 1369.1 698.3 C1372.5 701.8 1377.2 705.4 1378.6 708.9 C1380.0 712.4 1379.1 716.6 1377.5 719.4 C1376.0 722.2 1371.6 723.6 1369.1 725.7 C1366.7 727.8 1364.2 729.3 1362.8 732.1 C1361.4 734.9 1362.4 740.5 1360.7 742.6 C1358.9 744.7 1355.3 745.4 1352.2 744.7 C1349.1 744.0 1344.9 740.9 1341.7 738.4 C1338.5 735.9 1335.2 732.8 1333.3 730.0 C1331.4 727.3 1329.7 724.0 1330.1 721.5 C1330.5 719.1 1332.4 715.2 1335.4 715.2 C1338.4 715.2 1344.5 720.3 1348.0 721.5 C1350.9 722.5 1354.9 723.6 1356.5 722.6 C1358.0 721.5 1358.1 717.8 1357.5 715.2 C1356.8 712.2 1354.5 707.8 1352.2 704.7 C1350.0 701.5 1345.7 698.7 1343.8 696.2 C1342.2 694.2 1341.2 692.0 1340.6 689.9 C1340.1 687.8 1339.8 685.3 1340.6 683.6 Z" fill="#f3fabd"/>
<path d="M1428.2 765.8 C1429.6 762.8 1434.5 761.2 1438.7 760.5 C1443.3 759.8 1451.0 761.1 1455.6 761.6 C1459.4 762.0 1464.5 761.6 1466.1 763.7 C1467.7 765.8 1465.8 770.7 1465.1 774.2 C1464.4 777.8 1462.1 781.3 1461.9 784.8 C1461.7 788.3 1463.0 791.8 1464.0 795.3 C1465.1 798.9 1465.4 804.3 1468.2 805.9 C1471.0 807.5 1477.0 804.5 1480.9 804.8 C1484.7 805.2 1488.8 806.8 1491.4 808.0 C1493.6 809.0 1497.0 810.6 1496.7 812.2 C1496.3 813.8 1492.5 816.7 1489.3 817.5 C1485.3 818.5 1477.4 818.5 1472.4 818.5 C1467.9 818.5 1463.0 818.9 1459.8 817.5 C1456.6 816.1 1454.9 812.7 1453.5 810.1 C1452.1 807.5 1452.8 804.5 1451.4 801.7 C1450.0 798.9 1447.5 795.7 1445.0 793.2 C1442.6 790.8 1439.1 789.4 1436.6 786.9 C1434.1 784.4 1431.7 782.0 1430.3 778.5 C1428.9 775.0 1426.8 768.8 1428.2 765.8 Z" fill="#ffffff"/>
<path d="M1503.0 814.3 C1504.1 811.9 1507.8 810.1 1510.4 808.0 C1513.0 805.9 1515.7 803.8 1518.8 801.7 C1522.0 799.6 1526.4 795.2 1529.4 795.3 C1532.4 795.5 1536.4 800.3 1536.8 802.7 C1537.1 805.2 1533.8 807.8 1531.5 810.1 C1529.2 812.4 1526.2 814.5 1523.1 816.4 C1519.9 818.4 1515.7 820.6 1512.5 821.7 C1509.6 822.7 1505.7 824.0 1504.1 822.8 C1502.5 821.5 1502.0 816.8 1503.0 814.3 Z" fill="#ffffff"/>
<path d="M1496.7 742.6 C1496.3 741.7 1502.8 740.5 1506.2 740.5 C1509.5 740.5 1516.4 741.7 1516.7 742.6 C1517.1 743.5 1511.5 745.8 1508.3 745.8 C1505.0 745.8 1497.0 743.5 1496.7 742.6 Z" fill="#ffffff"/>
<path d="M1528.3 752.1 C1528.3 750.9 1534.8 749.8 1537.8 750.0 C1540.9 750.2 1546.7 751.9 1546.7 753.2 C1546.7 754.4 1540.9 757.6 1537.8 757.4 C1534.8 757.2 1528.3 753.3 1528.3 752.1 Z" fill="#ffffff"/>
<path d="M1530.4 654.0 C1530.8 653.6 1538.7 653.1 1539.9 653.4 C1541.1 653.8 1539.1 656.1 1537.8 656.2 C1536.2 656.3 1530.1 654.5 1530.4 654.0 Z" fill="#ffffff"/>
<path d="M1575.8 634.0 C1576.5 633.2 1585.3 631.6 1590.5 631.3 C1595.8 630.9 1601.3 631.5 1607.4 631.9 C1613.7 632.4 1621.5 632.6 1628.5 634.0 C1635.5 635.4 1642.6 638.6 1649.6 640.3 C1656.6 642.1 1663.6 644.4 1670.7 644.6 C1677.7 644.7 1686.5 641.2 1691.8 641.4 C1695.8 641.5 1701.3 643.9 1702.3 645.6 C1703.4 647.4 1700.4 650.5 1698.1 651.9 C1694.6 654.0 1687.4 656.2 1681.2 658.3 C1674.9 660.4 1665.4 664.6 1660.1 664.6 C1655.7 664.6 1653.1 660.7 1649.6 658.3 C1646.1 655.8 1643.2 652.3 1639.0 649.8 C1634.8 647.4 1629.6 645.3 1624.3 643.5 C1619.0 641.7 1613.6 640.5 1607.4 639.3 C1601.1 638.1 1591.6 637.0 1586.3 636.1 C1582.5 635.5 1575.1 634.8 1575.8 634.0 Z" fill="#ffffff"/>
<path d="M1660.1 670.9 C1663.6 668.8 1666.8 667.8 1670.7 666.7 C1674.5 665.6 1678.9 666.0 1683.3 664.6 C1689.0 662.8 1697.7 658.3 1704.4 656.2 C1711.1 654.0 1716.7 652.3 1723.4 651.9 C1730.1 651.6 1738.9 652.6 1744.5 654.0 C1749.4 655.3 1754.0 657.9 1757.1 660.4 C1760.1 662.7 1761.0 667.1 1763.5 668.8 C1765.9 670.6 1771.4 667.8 1771.9 670.9 C1773.3 679.4 1774.7 711.7 1771.9 719.4 C1769.8 725.2 1761.1 717.0 1755.0 717.3 C1748.7 717.7 1740.3 720.8 1733.9 721.5 C1727.9 722.2 1722.0 720.1 1717.1 721.5 C1712.1 722.9 1706.9 731.4 1704.4 730.0 C1702.0 728.6 1703.0 718.7 1702.3 713.1 C1701.6 707.5 1699.5 701.1 1700.2 696.2 C1700.9 691.3 1705.1 687.1 1706.5 683.6 C1707.7 680.7 1710.3 677.8 1708.6 675.1 C1706.9 672.3 1700.5 667.8 1696.0 666.7 C1691.4 665.6 1685.4 667.1 1681.2 668.8 C1677.0 670.6 1673.1 674.8 1670.7 677.2 C1668.7 679.2 1666.1 680.9 1666.5 683.6 C1666.8 686.4 1672.8 691.3 1672.8 694.1 C1672.8 696.9 1669.6 699.7 1666.5 700.4 C1663.3 701.1 1658.0 699.0 1653.8 698.3 C1649.6 697.6 1644.7 696.9 1641.2 696.2 C1638.1 695.6 1632.7 695.5 1632.7 694.1 C1632.7 692.7 1638.3 690.2 1641.2 687.8 C1644.0 685.3 1646.4 682.2 1649.6 679.4 C1652.7 676.5 1656.6 673.0 1660.1 670.9 Z" fill="#ffffff"/>
<path d="M1333.3 833.3 C1332.6 831.4 1334.7 825.6 1337.5 822.8 C1340.3 819.9 1345.6 817.7 1350.1 816.4 C1354.7 815.2 1360.0 815.0 1364.9 815.4 C1369.8 815.7 1374.4 817.5 1379.7 818.5 C1384.9 819.6 1390.4 821.0 1396.5 821.7 C1402.9 822.4 1411.3 822.9 1417.6 822.8 C1423.7 822.6 1429.4 820.8 1434.5 820.6 C1439.4 820.5 1445.7 820.8 1448.2 821.7 C1449.7 822.2 1450.7 825.4 1449.2 825.9 C1447.0 826.8 1439.8 826.8 1434.5 827.0 C1429.2 827.1 1422.5 826.6 1417.6 827.0 C1413.0 827.3 1409.6 829.1 1405.0 829.1 C1400.0 829.1 1393.7 827.5 1388.1 827.0 C1382.5 826.4 1376.1 825.9 1371.2 825.9 C1366.7 825.9 1362.4 826.1 1358.6 827.0 C1354.7 827.8 1350.8 830.0 1348.0 831.2 C1345.7 832.2 1344.2 834.0 1341.7 834.4 C1339.2 834.7 1334.0 835.2 1333.3 833.3 Z" fill="#ffffff"/>
<path d="M1386.0 853.3 C1387.4 850.5 1395.5 844.4 1400.7 841.7 C1406.0 839.1 1411.4 836.5 1417.6 837.5 C1423.9 838.6 1433.8 845.2 1438.7 848.1 C1442.0 849.9 1443.6 854.4 1447.1 854.4 C1450.7 854.4 1455.6 848.8 1459.8 848.1 C1464.0 847.4 1468.9 848.1 1472.4 850.2 C1476.0 852.3 1476.8 858.1 1480.9 860.7 C1485.1 863.3 1492.5 866.0 1497.8 866.0 C1503.0 866.0 1507.9 863.0 1512.5 860.7 C1517.1 858.4 1522.0 855.8 1525.2 852.3 C1528.3 848.8 1529.7 843.1 1531.5 839.6 C1533.0 836.6 1532.5 832.2 1535.7 831.2 C1538.9 830.1 1545.6 832.6 1550.5 833.3 C1555.4 834.0 1560.0 835.8 1565.2 835.4 C1570.5 835.1 1577.2 832.2 1582.1 831.2 C1586.6 830.2 1590.5 827.3 1594.8 829.1 C1599.0 830.8 1604.6 838.9 1607.4 841.7 C1608.9 843.2 1611.6 843.8 1611.6 845.9 C1611.6 848.1 1605.3 853.2 1607.4 854.4 C1609.5 855.6 1619.4 853.9 1624.3 853.3 C1628.9 852.8 1635.5 849.3 1636.9 851.2 C1638.3 853.2 1634.1 860.5 1632.7 864.9 C1631.3 869.3 1630.9 873.4 1628.5 877.6 C1626.0 881.8 1622.2 886.4 1618.0 890.2 C1613.7 894.1 1607.4 896.9 1603.2 900.8 C1599.0 904.6 1598.6 913.0 1592.6 913.4 C1561.7 915.5 1471.7 913.4 1417.6 913.4 C1363.7 913.4 1292.8 915.9 1267.9 913.4 C1262.6 912.9 1264.0 901.8 1267.9 898.7 C1271.8 895.5 1283.7 895.9 1291.1 894.5 C1298.5 893.0 1306.9 891.8 1312.2 890.2 C1316.2 889.0 1319.2 885.3 1322.7 885.0 C1326.2 884.6 1329.4 887.5 1333.3 888.1 C1338.5 889.0 1347.3 890.6 1354.4 890.2 C1361.4 889.9 1368.4 887.1 1375.4 886.0 C1382.5 885.0 1390.2 885.0 1396.5 883.9 C1402.7 882.9 1409.5 881.4 1413.4 879.7 C1416.3 878.4 1419.0 875.8 1419.7 873.4 C1420.4 870.9 1420.0 867.0 1417.6 864.9 C1415.2 862.8 1409.2 861.8 1405.0 860.7 C1400.7 859.7 1395.5 859.8 1392.3 858.6 C1389.5 857.5 1384.7 856.0 1386.0 853.3 Z" fill="#ffffff"/>
<path d="M287.9 525.4 C288.2 521.6 294.7 524.7 298.4 525.4 C302.3 526.1 306.6 527.9 311.1 529.6 C316.7 531.7 325.1 534.9 332.2 538.1 C339.2 541.2 348.3 545.1 353.3 548.6 C357.2 551.4 360.7 554.4 361.7 559.2 C362.8 564.4 359.9 573.2 359.6 580.2 C359.2 587.3 359.9 595.4 359.6 601.3 C359.3 606.7 357.2 610.7 357.5 616.1 C357.8 622.1 358.2 633.3 361.7 637.2 C365.2 641.0 372.4 639.3 378.6 639.3 C384.9 639.3 395.3 636.1 399.7 637.2 C403.1 638.0 404.2 642.1 404.9 645.6 C405.6 649.1 403.4 653.7 403.9 658.3 C404.4 663.2 408.8 670.6 408.1 675.1 C407.4 679.7 403.5 685.0 399.7 685.7 C395.8 686.4 390.7 679.7 384.9 679.4 C378.2 679.0 368.4 683.6 359.6 683.6 C350.8 683.6 340.3 681.1 332.2 679.4 C324.4 677.7 316.7 675.0 311.1 673.0 C306.4 671.4 302.3 668.8 298.4 667.8 C294.8 666.8 288.2 670.5 287.9 666.7 C286.1 643.0 286.1 549.0 287.9 525.4 Z" fill="#fcfed3"/>
<path d="M391.2 542.3 C396.1 542.3 402.1 549.7 408.1 552.8 C414.1 556.0 420.4 558.8 427.1 561.3 C433.8 563.7 442.9 564.1 448.2 567.6 C453.4 571.1 455.9 577.8 458.7 582.3 C461.4 586.7 464.0 590.0 465.0 595.0 C466.1 600.3 464.3 609.1 465.0 614.0 C465.6 618.0 467.5 621.4 469.2 624.5 C471.0 627.7 473.7 629.7 475.6 633.0 C478.0 637.2 482.4 644.2 484.0 649.8 C485.6 655.5 486.5 664.2 485.1 666.7 C483.7 669.2 477.9 664.2 475.6 664.6 C473.5 664.9 473.3 669.8 471.4 668.8 C469.2 667.8 466.4 659.0 462.9 658.3 C459.4 657.6 454.5 662.1 450.3 664.6 C446.1 667.1 439.0 669.2 437.6 673.0 C436.2 676.9 437.1 684.9 441.8 687.8 C447.5 691.3 466.8 689.9 471.4 694.1 C475.9 698.3 467.8 707.1 469.2 713.1 C470.7 719.1 476.1 723.9 479.8 730.0 C483.7 736.3 488.6 745.4 492.4 751.1 C495.8 755.9 501.2 759.1 503.0 763.7 C504.7 768.3 504.4 773.9 503.0 778.5 C501.6 783.0 496.3 786.9 494.6 791.1 C492.8 795.3 489.6 800.6 492.4 803.8 C495.3 806.9 506.5 806.9 511.4 810.1 C516.3 813.3 517.0 819.5 522.0 822.8 C529.0 827.3 546.6 832.2 553.6 837.5 C559.3 841.8 559.6 849.8 564.1 854.4 C568.7 859.0 580.0 860.7 581.0 864.9 C582.1 869.1 572.9 874.8 570.5 879.7 C568.0 884.6 566.6 888.9 566.3 894.5 C565.9 900.1 575.1 912.3 568.4 913.4 C549.0 916.6 470.7 916.6 450.3 913.4 C443.4 912.4 447.9 901.2 446.1 894.5 C443.9 886.7 439.7 874.8 437.6 867.0 C435.8 860.3 435.5 853.7 433.4 848.1 C431.3 842.4 426.7 838.2 425.0 833.3 C423.2 828.4 423.6 823.1 422.9 818.5 C422.2 814.0 421.8 809.7 420.7 805.9 C419.7 802.0 418.0 799.2 416.5 795.3 C414.9 791.1 412.5 785.1 411.3 780.6 C410.1 776.1 408.3 772.5 409.1 767.9 C410.0 763.4 413.5 757.4 416.5 753.2 C419.5 748.9 425.2 747.7 427.1 742.6 C429.0 737.3 428.5 728.6 428.1 721.5 C427.8 714.5 426.0 707.5 425.0 700.4 C423.9 693.4 423.2 685.0 421.8 679.4 C420.6 674.6 417.9 670.9 416.5 666.7 C415.1 662.5 413.7 657.6 413.4 654.0 C413.1 651.0 415.2 648.6 414.4 645.6 C413.5 642.4 410.9 638.5 408.1 635.1 C405.3 631.6 400.4 628.0 397.5 624.5 C394.8 621.1 392.6 617.8 391.2 614.0 C389.8 610.1 390.9 605.2 389.1 601.3 C387.4 597.5 383.0 595.1 380.7 590.8 C378.2 586.2 374.7 580.2 374.4 573.9 C374.0 567.6 375.8 558.1 378.6 552.8 C381.4 547.6 386.3 542.3 391.2 542.3 Z" fill="#fcfed3"/>
<path d="M441.8 675.1 C445.3 672.0 453.8 669.2 458.7 668.8 C463.5 668.5 469.2 669.2 471.4 673.0 C473.5 676.9 471.7 685.3 471.4 692.0 C471.0 698.7 472.8 708.2 469.2 713.1 C465.7 718.0 456.2 721.5 450.3 721.5 C444.3 721.5 436.9 717.3 433.4 713.1 C429.9 708.9 428.5 700.4 429.2 696.2 C429.9 692.0 435.5 691.3 437.6 687.8 C439.7 684.3 438.3 678.3 441.8 675.1 Z" fill="#f3fabd"/>
<path d="M357.5 780.6 C359.9 778.5 368.3 783.4 374.4 782.7 C380.7 782.0 389.8 778.5 395.4 776.4 C400.2 774.6 405.6 768.6 408.1 770.0 C410.6 771.4 408.8 780.2 410.2 784.8 C411.6 789.4 416.9 793.9 416.5 797.4 C416.2 801.0 412.1 804.2 408.1 805.9 C403.9 807.6 396.8 807.6 391.2 808.0 C385.6 808.3 379.6 810.1 374.4 808.0 C369.1 805.9 362.4 799.9 359.6 795.3 C356.8 790.8 355.0 782.7 357.5 780.6 Z" fill="#fcfed3"/>
<path d="M425.0 571.8 C429.2 571.1 437.6 571.5 441.8 573.9 C446.1 576.4 448.5 582.0 450.3 586.6 C452.0 591.1 451.0 596.4 452.4 601.3 C453.8 606.2 457.3 611.2 458.7 616.1 C460.1 621.0 461.5 627.3 460.8 630.8 C460.2 634.0 457.7 636.8 454.5 637.2 C451.3 637.5 445.3 635.4 441.8 633.0 C438.3 630.5 436.2 625.9 433.4 622.4 C430.6 618.9 427.8 615.7 425.0 611.9 C422.2 608.0 418.6 602.7 416.5 599.2 C414.8 596.3 412.3 594.2 412.3 590.8 C412.3 587.3 414.4 581.3 416.5 578.1 C418.6 575.0 421.2 572.4 425.0 571.8 Z" fill="#ffffff"/>
<path d="M298.4 617.1 C300.5 616.4 307.2 618.7 311.1 620.3 C315.0 621.9 318.1 625.4 321.6 626.6 C325.1 627.9 328.7 626.3 332.2 627.7 C335.7 629.1 340.4 632.1 342.7 635.1 C345.0 638.1 345.7 642.1 345.9 645.6 C346.1 649.1 345.4 655.5 343.8 656.2 C342.2 656.9 339.0 651.9 336.4 649.8 C333.8 647.7 331.4 645.2 328.0 643.5 C324.4 641.7 319.2 641.4 315.3 639.3 C311.4 637.2 307.6 633.3 304.8 630.8 C302.3 628.7 299.5 626.8 298.4 624.5 C297.4 622.2 296.3 617.8 298.4 617.1 Z" fill="#ffffff"/>
<path d="M427.1 793.2 C429.9 790.9 437.3 792.0 441.8 792.2 C446.4 792.3 451.3 794.5 454.5 794.3 C457.0 794.1 458.4 790.3 460.8 791.1 C463.3 792.0 467.1 796.4 469.2 799.6 C471.4 802.7 474.5 806.2 473.5 810.1 C472.4 814.0 466.8 819.2 462.9 822.8 C459.1 826.3 454.5 830.1 450.3 831.2 C446.1 832.2 441.5 830.5 437.6 829.1 C433.8 827.7 429.2 826.6 427.1 822.8 C425.0 818.9 425.0 810.8 425.0 805.9 C425.0 801.3 424.3 795.5 427.1 793.2 Z" fill="#ffffff"/>
<path d="M437.6 843.8 C440.4 842.8 445.9 846.0 450.3 848.1 C455.5 850.5 462.6 855.4 469.2 858.6 C475.9 861.8 483.7 863.5 490.3 867.0 C497.0 870.6 505.8 875.1 509.3 879.7 C512.6 883.9 511.1 889.1 511.4 894.5 C511.8 900.1 518.0 911.4 511.4 913.4 C501.2 916.6 461.2 916.6 450.3 913.4 C443.5 911.5 447.5 900.4 446.1 894.5 C444.6 888.5 443.2 882.2 441.8 877.6 C440.6 873.7 439.0 870.9 437.6 867.0 C436.2 863.2 433.4 858.3 433.4 854.4 C433.4 850.5 434.8 844.9 437.6 843.8 Z" fill="#ffffff"/>
<path d="M514.6 833.3 C515.3 830.0 519.3 823.8 522.0 823.8 C524.6 823.8 527.6 830.3 530.4 833.3 C533.2 836.3 538.8 839.3 538.8 841.7 C538.8 844.2 533.2 846.3 530.4 848.1 C527.6 849.8 524.1 853.0 522.0 852.3 C519.9 851.6 519.0 847.0 517.8 843.8 C516.5 840.7 513.9 836.6 514.6 833.3 Z" fill="#ffffff"/>
<path d="M562.0 651.9 C563.4 649.7 568.7 647.9 572.6 648.8 C577.2 649.8 583.8 656.3 589.5 658.3 C595.1 660.2 601.4 658.6 606.3 660.4 C611.2 662.1 614.7 665.4 619.0 668.8 C623.9 672.7 632.7 680.2 635.8 683.6 C637.3 685.1 639.9 688.3 638.0 688.8 C635.1 689.5 625.0 688.7 619.0 687.8 C613.0 686.9 607.7 685.0 602.1 683.6 C596.5 682.2 590.2 681.5 585.2 679.4 C580.3 677.2 576.1 673.7 572.6 670.9 C569.2 668.2 565.9 665.6 564.1 662.5 C562.4 659.3 560.6 654.2 562.0 651.9 Z" fill="#fcfed3"/>
<path d="M585.2 616.1 C586.3 613.6 591.7 610.2 595.8 607.7 C600.0 605.0 605.3 601.9 610.5 600.3 C615.8 598.7 621.4 597.6 627.4 598.2 C633.4 598.7 641.5 601.2 646.4 603.4 C650.8 605.5 655.9 609.1 656.9 611.9 C658.0 614.7 655.7 618.7 652.7 620.3 C649.6 622.1 643.3 622.4 638.0 622.4 C632.3 622.4 625.0 620.7 619.0 620.3 C613.0 620.0 607.0 620.0 602.1 620.3 C597.5 620.6 592.3 623.1 589.5 622.4 C586.8 621.8 584.2 618.5 585.2 616.1 Z" fill="#fcfed3"/>
<path d="M631.6 704.7 C633.0 701.5 638.7 695.2 644.3 694.1 C649.9 693.1 657.8 696.6 665.4 698.3 C673.1 700.1 682.9 702.2 690.7 704.7 C698.4 707.1 704.7 710.6 711.8 713.1 C718.8 715.6 725.8 717.3 732.9 719.4 C739.9 721.5 748.7 721.9 753.9 725.7 C759.2 729.6 762.0 737.0 764.5 742.6 C766.9 748.2 770.5 756.0 768.7 759.5 C766.9 763.0 759.3 762.4 753.9 763.7 C748.0 765.1 738.5 766.2 732.9 767.9 C728.0 769.4 722.3 769.7 720.2 774.2 C718.1 778.8 722.3 791.3 720.2 795.3 C718.1 799.4 712.2 798.8 707.5 798.5 C702.6 798.1 694.9 795.5 690.7 793.2 C686.9 791.2 683.9 788.7 682.2 784.8 C680.1 779.9 678.0 770.0 678.0 763.7 C678.0 757.4 681.9 751.1 682.2 746.8 C682.5 743.7 682.3 740.6 680.1 738.4 C677.3 735.6 670.6 731.4 665.4 730.0 C660.1 728.6 652.7 731.4 648.5 730.0 C644.4 728.6 642.2 724.3 640.1 721.5 C638.0 718.8 637.3 715.9 635.8 713.1 C634.4 710.3 630.2 707.8 631.6 704.7 Z" fill="#fcfed3"/>
<path d="M604.2 748.9 C606.0 744.7 610.9 738.0 614.8 738.4 C618.6 738.8 625.7 746.8 627.4 751.1 C629.2 755.3 626.7 759.8 625.3 763.7 C623.9 767.6 622.1 772.1 619.0 774.2 C615.8 776.4 608.8 778.1 606.3 776.4 C603.9 774.6 604.6 768.3 604.2 763.7 C603.9 759.1 602.5 753.2 604.2 748.9 Z" fill="#fcfed3"/>
<path d="M576.8 793.2 C578.2 789.7 584.9 787.3 589.5 786.9 C594.0 786.6 600.7 789.4 604.2 791.1 C607.1 792.6 610.0 794.3 610.5 797.4 C611.2 801.3 610.2 810.1 608.4 814.3 C606.8 818.3 603.2 822.0 600.0 822.8 C596.8 823.5 592.6 821.0 589.5 818.5 C586.3 816.1 583.1 812.2 581.0 808.0 C578.9 803.8 575.4 796.7 576.8 793.2 Z" fill="#fcfed3"/>
<path d="M638.0 767.9 C640.1 763.0 645.3 758.8 648.5 755.3 C651.4 752.1 653.8 746.8 656.9 746.8 C660.1 746.8 664.0 752.5 667.5 755.3 C671.0 758.1 676.6 759.8 678.0 763.7 C679.4 767.6 678.0 775.0 675.9 778.5 C673.8 782.0 666.8 782.3 665.4 784.8 C664.0 787.3 666.0 790.5 667.5 793.2 C669.2 796.4 674.9 800.3 675.9 803.8 C677.0 807.3 676.3 812.2 673.8 814.3 C671.3 816.4 665.4 816.8 661.2 816.4 C656.9 816.1 652.4 814.7 648.5 812.2 C644.6 809.7 640.1 806.2 638.0 801.7 C635.8 797.1 635.8 790.4 635.8 784.8 C635.8 779.2 635.8 772.8 638.0 767.9 Z" fill="#fcfed3"/>
<path d="M697.0 869.1 C698.4 866.3 703.0 860.7 707.5 860.7 C712.1 860.7 719.1 865.6 724.4 869.1 C729.7 872.7 735.0 877.6 739.2 881.8 C743.4 886.0 747.3 889.5 749.7 894.5 C752.2 899.4 756.8 908.2 753.9 911.3 C751.1 914.5 738.5 915.5 732.9 913.4 C727.2 911.3 724.4 903.2 720.2 898.7 C716.0 894.1 711.1 889.5 707.5 886.0 C704.5 883.0 700.9 880.4 699.1 877.6 C697.5 874.9 695.6 871.9 697.0 869.1 Z" fill="#fcfed3"/>
<path d="M638.0 886.0 C639.4 883.2 645.0 878.3 648.5 877.6 C652.0 876.9 656.0 879.1 659.0 881.8 C662.2 884.6 666.8 890.6 667.5 894.5 C668.2 898.3 666.4 903.6 663.3 905.0 C660.1 906.4 652.4 904.6 648.5 902.9 C644.6 901.1 641.8 897.3 640.1 894.5 C638.4 891.8 636.6 888.8 638.0 886.0 Z" fill="#fcfed3"/>
<path d="M540.9 894.5 C542.4 889.2 548.0 882.5 551.5 881.8 C555.0 881.1 559.6 886.4 562.0 890.2 C564.5 894.1 565.9 901.1 566.3 905.0 C566.5 908.1 567.1 912.4 564.1 913.4 C560.3 914.8 546.9 916.6 543.1 913.4 C539.2 910.3 539.5 899.7 540.9 894.5 Z" fill="#fcfed3"/>
<path d="M557.8 862.8 C557.5 860.4 561.3 856.5 564.1 856.5 C567.0 856.5 574.3 860.4 574.7 862.8 C575.0 865.3 569.1 871.3 566.3 871.3 C563.4 871.3 558.2 865.3 557.8 862.8 Z" fill="#fcfed3"/>
<path d="M515.6 597.1 C513.5 598.9 520.2 605.4 522.0 607.7 C523.1 609.2 524.4 611.5 526.2 610.8 C527.9 610.1 531.1 605.7 532.5 603.4 C533.8 601.4 536.9 598.0 534.6 597.1 C531.8 596.1 517.8 595.4 515.6 597.1 Z" fill="#fcfed3"/>
<path d="M545.2 595.0 C544.5 596.6 551.5 604.5 553.6 604.5 C555.7 604.5 559.2 596.6 557.8 595.0 C556.4 593.4 545.9 593.4 545.2 595.0 Z" fill="#fcfed3"/>
<path d="M570.5 655.1 C571.2 654.0 574.7 653.3 575.7 654.0 C576.8 654.7 577.5 658.3 576.8 659.3 C576.1 660.4 572.6 661.1 571.5 660.4 C570.5 659.7 569.8 656.2 570.5 655.1 Z" fill="#ffffff"/>
<path d="M580.0 664.6 C581.9 663.0 589.3 662.1 593.7 662.5 C598.1 662.8 604.6 664.9 606.3 666.7 C608.0 668.4 606.4 672.0 604.2 673.0 C601.4 674.4 593.1 675.3 589.5 675.1 C586.6 675.0 583.7 673.7 582.1 672.0 C580.5 670.2 578.0 666.2 580.0 664.6 Z" fill="#ffffff"/>
<path d="M612.6 605.5 C613.7 603.8 622.5 601.5 627.4 601.3 C632.3 601.2 639.4 602.9 642.2 604.5 C644.3 605.7 645.3 609.1 644.3 610.8 C643.2 612.6 639.2 614.9 635.8 615.0 C632.0 615.2 625.0 613.5 621.1 611.9 C617.6 610.4 611.6 607.3 612.6 605.5 Z" fill="#ffffff"/>
<path d="M644.3 702.5 C646.4 701.3 655.2 700.8 661.2 701.5 C667.1 702.2 674.2 704.8 680.1 706.8 C686.1 708.7 694.2 711.3 697.0 713.1 C698.3 713.9 698.4 716.8 697.0 717.3 C693.8 718.4 684.0 720.1 678.0 719.4 C672.0 718.7 666.1 714.9 661.2 713.1 C656.6 711.5 651.3 710.6 648.5 708.9 C646.2 707.4 642.2 703.8 644.3 702.5 Z" fill="#ffffff"/>
<path d="M703.3 725.7 C704.6 722.6 708.4 721.5 711.8 721.5 C716.0 721.5 724.4 723.6 728.6 725.7 C732.5 727.7 736.0 731.0 737.1 734.2 C738.1 737.3 737.4 741.9 735.0 744.7 C732.5 747.5 726.9 749.3 722.3 751.1 C717.7 752.8 710.7 756.7 707.5 755.3 C704.4 753.9 704.0 747.4 703.3 742.6 C702.6 737.7 701.9 729.3 703.3 725.7 Z" fill="#ffffff"/>
<path d="M584.2 801.7 C585.2 800.4 590.5 804.1 593.7 802.7 C597.0 801.3 602.3 792.7 604.2 793.2 C606.1 793.8 606.7 802.4 605.3 805.9 C603.9 809.4 598.8 813.6 595.8 814.3 C592.8 815.0 589.3 812.2 587.3 810.1 C585.4 808.0 583.1 802.9 584.2 801.7 Z" fill="#ffffff"/>
<path d="M653.1 763.7 C653.9 761.6 656.5 758.8 658.0 759.5 C659.5 760.2 662.4 764.8 662.2 767.9 C662.0 771.1 658.4 777.8 656.9 778.5 C655.4 779.2 653.8 774.6 653.1 772.1 C652.5 769.7 652.3 765.8 653.1 763.7 Z" fill="#ffffff"/>
<path d="M644.3 793.2 C645.0 791.5 646.9 789.1 648.5 790.1 C650.3 791.1 654.8 797.3 654.8 799.6 C654.8 801.8 650.3 803.6 648.5 803.8 C646.7 803.9 645.0 802.4 644.3 800.6 C643.6 798.9 643.6 795.0 644.3 793.2 Z" fill="#ffffff"/>
<path d="M384.9 829.5 C388.1 827.1 401.1 829.9 408.1 831.6 C415.1 833.4 422.5 836.9 427.1 840.1 C431.1 842.8 433.6 846.1 435.5 850.6 C437.4 855.2 437.0 861.5 438.7 867.5 C440.4 873.8 444.1 882.2 446.1 888.6 C447.9 894.6 450.3 900.5 450.3 905.4 C450.3 910.2 448.2 916.7 446.1 918.1 C443.9 919.5 440.9 914.9 437.6 913.9 C434.1 912.8 429.2 912.5 425.0 911.8 C420.7 911.1 415.7 912.8 412.3 909.7 C409.0 906.5 405.8 897.7 404.9 892.8 C404.1 888.2 407.9 884.7 407.0 880.1 C406.2 875.2 402.6 868.9 399.7 863.3 C396.7 857.6 391.6 852.0 389.1 846.4 C386.7 840.8 381.7 832.0 384.9 829.5 Z" fill="#fcfed3"/>
<path d="M522.0 863.3 C527.9 861.0 543.8 859.7 553.6 860.1 C563.4 860.5 577.9 862.0 581.0 865.4 C584.2 868.7 574.7 875.2 572.6 880.1 C570.5 885.1 569.0 889.4 568.4 894.9 C567.7 900.5 569.1 908.6 568.4 913.9 C567.7 918.6 568.4 924.4 564.1 926.5 C559.9 928.6 550.1 926.9 543.1 926.5 C536.0 926.2 526.9 927.2 522.0 924.4 C517.0 921.6 513.9 915.6 513.5 909.7 C513.2 903.7 519.2 894.5 519.9 888.6 C520.5 883.2 517.4 878.0 517.8 873.8 C518.1 869.7 518.2 864.7 522.0 863.3 Z" fill="#f3fabd"/>
<path d="M540.9 899.1 C542.7 894.5 550.1 885.1 553.6 884.4 C557.1 883.6 559.9 891.4 562.0 894.9 C564.1 898.4 565.9 901.4 566.3 905.4 C566.6 909.7 567.3 917.4 564.1 920.2 C561.0 923.0 550.8 923.7 547.3 922.3 C543.8 920.9 544.1 915.6 543.1 911.8 C542.0 907.9 539.3 903.4 540.9 899.1 Z" fill="#fcfed3"/>
<path d="M556.8 902.3 C557.5 901.6 561.9 900.7 563.1 901.2 C564.3 901.8 564.8 904.7 564.1 905.4 C563.4 906.1 560.1 906.0 558.9 905.4 C557.6 904.9 556.1 903.0 556.8 902.3 Z" fill="#ffffff"/>
<path d="M355.8 326.8 C356.7 324.1 362.3 326.2 364.9 328.2 C367.8 330.6 370.0 337.4 373.3 340.9 C376.6 344.4 380.7 346.4 384.9 349.3 C389.5 352.5 396.5 356.8 400.7 359.9 C404.3 362.5 406.2 368.8 410.2 367.7 C414.2 366.5 420.4 357.9 425.0 352.9 C429.5 347.9 434.9 341.6 437.6 337.7 C439.4 335.1 439.9 328.2 441.2 329.7 C442.5 331.2 445.9 342.0 445.4 346.6 C444.9 351.1 440.9 353.5 438.0 357.1 C435.1 361.0 430.7 365.3 427.5 369.8 C424.3 374.3 420.8 378.6 419.1 384.1 C417.3 389.7 417.7 397.1 417.0 403.1 C416.2 409.1 415.4 414.3 414.8 420.0 C414.2 425.6 414.5 432.1 413.4 436.8 C412.3 441.3 411.8 447.2 408.1 448.4 C404.4 449.7 396.1 446.1 391.2 444.2 C386.3 442.3 381.4 440.5 378.6 436.8 C375.8 433.1 375.2 427.5 374.4 422.1 C373.5 416.4 375.1 409.4 373.3 403.1 C371.5 396.8 365.6 389.7 363.8 384.1 C362.2 379.0 362.6 374.3 362.8 369.4 C362.9 364.4 365.4 358.8 364.9 354.6 C364.3 350.4 360.9 348.1 359.6 344.0 C358.1 339.4 354.9 329.4 355.8 326.8 Z" fill="#fcfed3"/>
<path d="M485.7 293.4 C491.0 289.6 511.2 290.3 516.7 293.4 C522.2 296.6 517.8 307.5 518.8 312.4 C519.7 316.4 523.6 319.6 523.0 323.0 C522.5 326.3 519.3 330.3 515.6 332.4 C512.0 334.6 505.5 335.4 500.9 335.6 C496.3 335.8 490.9 336.7 488.2 333.5 C485.6 330.3 485.5 322.8 485.1 316.6 C484.6 310.0 480.4 297.3 485.7 293.4 Z" fill="#fcfed3"/>
<path d="M568.0 293.8 C580.3 291.7 628.8 292.4 641.5 293.8 C644.6 294.1 641.3 300.6 644.0 302.0 C646.8 303.5 654.6 304.0 658.0 302.7 C661.3 301.3 660.5 294.6 664.3 293.8 C671.5 292.3 694.9 289.2 701.0 293.8 C707.2 298.4 700.4 311.7 701.0 321.7 C701.7 331.6 704.6 345.1 704.8 353.3 C705.0 359.8 701.5 365.2 702.3 371.1 C703.1 377.0 707.0 383.8 709.9 388.8 C712.8 393.9 716.2 397.7 720.0 401.5 C723.8 405.3 729.3 407.4 732.7 411.6 C736.1 415.8 738.8 423.2 740.3 426.8 C741.2 429.0 742.3 431.0 741.6 433.2 C740.7 435.7 737.8 439.5 735.2 442.0 C732.7 444.6 729.5 446.7 726.4 448.4 C723.2 450.1 719.4 452.6 716.2 452.2 C713.1 451.7 709.8 448.9 707.4 445.8 C704.6 442.5 702.3 435.9 699.8 431.9 C697.3 428.0 695.1 425.1 692.2 421.8 C689.2 418.4 684.8 414.6 682.0 411.6 C679.6 409.0 677.8 406.6 675.7 404.0 C673.6 401.5 671.5 398.3 669.4 396.4 C667.4 394.6 665.6 393.4 663.0 392.6 C660.1 391.8 655.6 391.1 651.6 391.4 C647.6 391.6 643.4 393.4 639.0 393.9 C634.5 394.4 628.4 395.2 625.0 394.5 C622.3 394.0 621.0 391.7 618.7 390.1 C616.4 388.5 614.0 385.8 611.1 385.0 C608.1 384.3 603.7 384.6 600.9 385.7 C598.2 386.7 595.3 388.4 594.6 391.4 C593.8 395.3 596.3 404.0 595.9 409.1 C595.5 413.8 593.1 417.3 592.1 421.8 C591.0 426.2 590.4 431.5 589.5 435.7 C588.7 439.8 590.3 444.4 587.0 447.1 C583.4 450.1 573.3 451.5 568.0 453.4 C563.4 455.1 557.9 455.8 555.3 458.5 C552.8 461.2 553.0 466.3 552.8 469.9 C552.6 473.5 556.8 478.4 554.1 480.0 C551.3 481.7 539.1 481.5 536.3 480.0 C533.6 478.6 536.7 474.3 537.6 471.2 C538.9 466.7 541.8 459.6 543.9 453.4 C546.0 447.3 547.9 440.6 550.3 434.4 C552.6 428.3 556.2 422.8 557.9 416.7 C559.6 410.6 560.2 404.0 560.4 397.7 C560.6 391.4 559.3 385.5 559.1 378.7 C558.9 370.2 558.7 355.5 559.1 347.0 C559.5 340.1 560.2 334.8 561.7 328.0 C563.2 321.3 567.0 312.2 568.0 306.5 C568.8 302.0 563.5 294.6 568.0 293.8 Z" fill="#fcfed3"/>
<path d="M635.2 360.9 C638.1 359.9 648.9 361.7 656.7 362.2 C665.6 362.8 683.1 362.2 688.4 364.7 C692.5 366.7 690.3 374.0 688.4 377.4 C686.5 380.8 680.6 384.8 677.0 385.0 C673.4 385.2 670.8 380.3 666.8 378.7 C662.0 376.8 652.5 375.3 647.8 373.6 C644.4 372.4 641.1 370.7 639.0 368.6 C636.8 366.4 632.3 362.0 635.2 360.9 Z" fill="#f3fabd"/>
<path d="M603.5 419.2 C605.8 417.1 612.4 414.2 616.2 411.6 C619.9 409.1 623.1 404.7 626.3 404.0 C629.5 403.4 631.7 407.5 635.2 407.8 C640.2 408.4 651.8 406.9 656.7 407.2 C659.6 407.4 664.7 407.9 664.3 409.7 C663.9 411.5 657.5 415.5 654.2 418.0 C650.8 420.4 647.7 422.1 644.0 424.3 C640.2 426.6 635.6 429.8 631.4 431.9 C627.1 434.0 622.9 435.5 618.7 437.0 C614.5 438.4 609.0 440.6 606.0 440.8 C604.0 440.9 601.4 440.2 600.9 438.2 C600.3 435.5 601.8 427.5 602.2 424.3 C602.5 422.4 602.1 420.5 603.5 419.2 Z" fill="#fcfed3"/>
<path d="M372.2 378.8 C373.1 376.4 376.5 373.7 379.6 374.0 C382.8 374.2 388.2 377.5 391.2 380.3 C394.3 383.1 395.6 387.0 398.0 390.9 C400.4 394.8 404.0 400.2 405.6 404.1 C407.0 407.7 407.2 411.4 407.3 414.7 C407.3 418.0 407.3 422.4 406.0 424.2 C404.7 425.9 401.7 424.1 399.7 425.2 C397.2 426.6 393.3 430.5 391.2 432.6 C389.6 434.3 388.4 438.2 387.4 437.9 C386.4 437.5 385.2 433.0 385.3 430.5 C385.4 428.0 386.5 425.2 388.1 423.1 C389.6 421.0 393.4 420.2 394.4 417.9 C395.3 415.5 395.2 411.9 393.8 409.0 C392.2 405.8 388.1 402.3 384.9 398.9 C381.7 395.5 376.5 392.1 374.4 388.8 C372.4 385.7 371.4 381.3 372.2 378.8 Z" fill="#ffffff"/>
<path d="M594.6 299.5 C597.4 299.7 599.5 303.2 602.2 305.2 C605.2 307.4 610.6 310.3 612.4 312.8 C613.9 315.1 613.4 318.1 612.6 320.4 C611.8 322.7 608.6 324.4 607.3 326.7 C606.0 329.1 605.0 331.6 604.7 334.3 C604.5 337.1 606.7 340.7 606.0 343.2 C605.4 345.7 602.8 347.3 600.9 349.5 C598.4 352.5 593.6 358.0 590.8 360.9 C588.6 363.3 586.0 364.7 584.5 367.3 C583.0 369.8 582.6 372.9 581.9 376.2 C581.1 380.2 580.0 386.3 579.4 391.4 C578.8 396.4 579.2 402.3 578.1 406.6 C577.2 410.5 575.0 414.2 573.1 416.7 C571.3 419.0 568.2 420.1 566.7 421.8 C565.4 423.3 564.7 427.3 564.2 426.8 C563.7 426.4 563.2 421.9 564.0 419.2 C564.8 416.1 568.2 411.4 569.3 407.8 C570.4 404.3 570.8 401.3 570.5 397.7 C570.3 394.1 568.7 390.4 568.0 386.3 C567.3 381.9 566.3 376.2 566.1 371.1 C565.9 366.0 566.2 360.9 566.7 355.9 C567.3 350.8 568.0 345.5 569.3 340.7 C570.5 335.8 572.4 331.4 574.3 326.7 C576.2 322.1 578.8 316.6 580.7 312.8 C582.3 309.5 583.4 306.2 585.7 303.9 C588.1 301.7 591.9 299.3 594.6 299.5 Z" fill="#ffffff"/>
<path d="M628.8 331.8 C632.0 328.2 634.1 324.2 637.7 321.7 C641.3 319.1 646.1 317.6 650.4 316.6 C654.6 315.7 658.8 315.3 663.0 316.0 C667.3 316.6 673.4 319.0 675.7 320.4 C676.9 321.1 677.8 323.0 677.0 324.2 C675.7 326.1 671.5 329.5 668.1 331.8 C664.7 334.1 660.3 337.1 656.7 338.1 C653.2 339.2 649.7 337.7 646.6 338.1 C643.4 338.6 640.6 339.4 637.7 340.7 C634.7 341.9 631.6 343.8 628.8 345.7 C626.1 347.6 623.5 350.3 621.2 352.1 C619.0 353.8 617.2 356.7 614.9 356.5 C612.6 356.3 608.8 352.8 607.3 350.8 C605.9 348.9 604.1 345.7 606.0 344.5 C607.9 343.2 614.9 345.3 618.7 343.2 C622.5 341.1 625.7 335.4 628.8 331.8 Z" fill="#ffffff"/>
<path d="M589.5 366.7 C591.9 366.1 603.0 366.8 606.0 367.3 C607.1 367.5 608.0 369.1 607.5 369.8 C607.1 370.6 605.1 371.7 603.5 371.7 C600.9 371.8 594.4 371.3 592.1 370.5 C590.5 369.9 587.9 367.0 589.5 366.7 Z" fill="#ffffff"/>
<path d="M737.8 293.8 C746.1 291.7 780.6 291.9 788.5 293.8 C792.7 294.8 786.3 301.2 784.7 305.2 C783.0 309.2 780.2 314.1 778.3 317.9 C776.5 321.5 775.4 325.3 773.3 328.0 C771.1 330.8 768.2 333.3 765.7 334.3 C763.1 335.4 760.5 335.6 758.1 334.3 C755.1 332.9 750.7 328.4 747.9 325.5 C745.2 322.6 743.2 319.8 741.6 316.6 C740.0 313.4 739.0 310.2 738.4 306.5 C737.8 302.7 733.4 294.9 737.8 293.8 Z" fill="#ffffff"/>
<path d="M716.2 407.8 C716.0 406.6 717.6 404.9 718.8 405.3 C720.7 405.9 725.5 409.5 727.6 411.6 C729.5 413.5 730.8 415.4 731.4 418.0 C732.1 420.5 731.9 424.5 731.4 426.8 C731.1 428.8 730.0 431.7 728.9 431.9 C727.9 432.1 726.1 429.8 725.1 428.1 C723.8 426.0 722.7 422.4 721.3 419.2 C719.8 415.8 716.7 410.1 716.2 407.8 Z" fill="#ffffff"/>
<path d="M728.9 293.8 C746.0 289.2 814.4 289.6 831.5 293.8 C840.4 296.0 835.3 315.6 831.5 319.1 C827.7 322.7 814.6 315.3 808.7 315.3 C804.0 315.3 798.2 316.4 796.1 319.1 C793.9 321.9 794.8 327.4 796.1 331.8 C797.3 336.2 802.2 340.2 803.7 345.7 C805.1 351.4 805.3 359.9 804.9 366.0 C804.5 372.1 803.7 381.2 801.1 382.5 C798.6 383.8 793.7 376.6 789.7 373.6 C785.7 370.7 782.2 366.8 777.1 364.7 C771.8 362.6 762.7 360.7 758.1 360.9 C754.4 361.1 752.1 366.9 749.2 366.0 C746.2 365.2 742.2 359.7 740.3 355.9 C738.4 352.1 739.2 347.6 737.8 343.2 C735.9 337.5 730.4 329.9 728.9 321.7 C727.4 313.4 719.2 296.4 728.9 293.8 Z" fill="#fcfed3"/>
<path d="M737.8 293.8 C746.1 291.7 780.6 291.9 788.5 293.8 C792.7 294.8 786.3 301.2 784.7 305.2 C783.0 309.2 780.2 314.1 778.3 317.9 C776.5 321.5 775.4 325.3 773.3 328.0 C771.1 330.8 768.2 333.3 765.7 334.3 C763.1 335.4 760.5 335.6 758.1 334.3 C755.1 332.9 750.7 328.4 747.9 325.5 C745.2 322.6 743.2 319.8 741.6 316.6 C740.0 313.4 739.0 310.2 738.4 306.5 C737.8 302.7 733.4 294.9 737.8 293.8 Z" fill="#ffffff"/>
<path d="M717.5 367.3 C717.6 366.6 719.2 367.2 719.4 367.9 C719.9 370.1 720.9 378.4 720.7 380.6 C720.6 381.5 718.4 382.1 718.1 381.2 C717.6 379.0 717.3 369.5 717.5 367.3 Z" fill="#d1edb3"/>
<path d="M723.2 390.1 C723.6 388.2 726.3 382.3 728.3 382.5 C730.3 382.7 733.0 388.6 735.2 391.4 C737.5 394.1 740.9 397.1 741.6 399.0 C742.1 400.5 740.7 403.0 739.0 402.8 C737.4 402.5 733.7 399.2 731.4 397.7 C729.4 396.3 727.1 395.2 725.7 393.9 C724.5 392.8 722.9 391.7 723.2 390.1 Z" fill="#d1edb3"/>
<path d="M747.3 464.8 C748.1 463.0 751.0 461.4 753.0 460.4 C755.0 459.5 757.2 458.3 759.3 459.1 C762.3 460.3 767.3 464.5 770.7 467.4 C774.1 470.2 778.3 473.9 779.6 476.2 C780.5 477.9 780.2 481.0 778.3 481.3 C773.9 482.2 758.1 483.0 753.0 481.3 C749.1 480.0 748.9 473.9 747.9 471.2 C747.2 469.0 746.4 466.6 747.3 464.8 Z" fill="#d1edb3"/>
<path d="M764.4 438.2 C764.4 436.9 768.2 434.9 770.7 435.1 C773.5 435.3 780.9 438.1 780.9 439.5 C780.9 440.9 773.5 443.5 770.7 443.3 C768.0 443.1 764.4 439.6 764.4 438.2 Z" fill="#fcfed3"/>
<path d="M528.7 364.7 C528.8 363.3 531.9 364.7 532.5 366.0 C534.0 369.2 536.5 379.5 537.6 383.8 C538.3 386.4 539.2 388.6 538.9 391.4 C538.4 394.7 536.8 400.2 535.1 404.0 C533.4 407.8 529.4 418.4 528.7 414.2 C527.7 407.6 528.1 372.8 528.7 364.7 Z" fill="#fcfed3"/>
<path d="M293.2 292.4 C300.9 286.6 331.5 290.1 339.6 292.4 C344.4 293.7 341.5 302.7 341.7 306.1 C341.8 308.4 340.2 310.2 340.6 312.4 C341.3 315.9 344.8 322.6 345.9 327.2 C346.9 331.6 345.7 335.4 346.9 339.8 C348.2 344.4 351.2 349.7 353.3 354.6 C355.4 359.5 358.4 365.1 359.6 369.4 C360.7 373.0 359.4 376.3 360.6 379.9 C362.1 384.1 365.6 390.1 368.0 394.7 C370.5 399.2 374.2 403.1 375.4 407.3 C376.6 411.5 375.8 416.1 375.4 420.0 C375.1 423.8 372.8 427.3 373.3 430.5 C373.8 433.7 376.0 436.5 378.6 438.9 C381.2 441.4 385.6 443.2 389.1 445.3 C392.6 447.4 395.8 450.2 399.7 451.6 C403.5 453.0 408.8 452.5 412.3 453.7 C415.7 454.9 417.6 458.1 420.7 459.0 C423.9 459.9 428.1 459.9 431.3 459.0 C434.5 458.1 436.9 455.3 439.7 453.7 C442.5 452.1 445.0 450.0 448.2 449.5 C451.3 449.0 456.1 449.1 458.7 450.5 C461.3 451.9 462.2 455.3 464.0 457.9 C465.7 460.6 466.8 463.7 469.2 466.4 C471.9 469.2 476.3 472.0 479.8 474.8 C483.3 477.6 486.8 480.6 490.3 483.2 C493.9 485.9 497.9 488.1 500.9 490.6 C503.8 493.0 506.7 495.0 508.3 498.0 C509.8 501.0 510.2 504.7 510.4 508.5 C510.5 512.8 509.7 519.1 509.3 523.3 C509.0 527.1 508.3 530.0 508.3 533.8 C508.3 537.7 510.2 542.6 509.3 546.5 C508.4 550.4 504.4 553.2 503.0 557.0 C501.6 560.9 500.9 565.1 500.9 569.7 C500.9 574.3 501.9 579.2 503.0 584.5 C504.0 589.7 506.0 596.0 507.2 601.3 C508.4 606.6 509.3 611.9 510.4 616.1 C511.3 619.9 511.6 624.0 513.5 626.6 C515.5 629.3 518.8 631.0 522.0 631.9 C525.1 632.8 529.0 631.0 532.5 631.9 C536.0 632.8 539.7 634.6 543.1 637.2 C546.6 639.8 551.5 644.2 553.6 647.7 C555.6 651.0 554.6 654.6 555.7 658.3 C557.1 662.8 559.6 669.9 562.0 675.1 C564.5 680.4 568.5 685.0 570.5 689.9 C572.4 694.8 572.9 699.4 573.6 704.7 C574.3 709.9 574.9 715.9 574.7 721.5 C574.5 727.2 573.6 734.2 572.6 738.4 C571.8 741.7 570.0 743.9 568.4 746.8 C566.6 750.0 564.5 754.2 562.0 757.4 C559.6 760.5 555.5 762.7 553.6 765.8 C551.7 769.0 550.4 772.8 550.4 776.4 C550.4 779.9 551.7 783.7 553.6 786.9 C555.5 790.1 559.2 792.2 562.0 795.3 C564.8 798.5 568.0 802.4 570.5 805.9 C572.9 809.4 574.3 812.9 576.8 816.4 C579.3 819.9 582.1 824.2 585.2 827.0 C588.4 829.8 591.9 831.2 595.8 833.3 C599.6 835.4 604.9 837.2 608.4 839.6 C611.9 842.1 614.8 844.9 616.9 848.1 C619.0 851.2 620.0 854.7 621.1 858.6 C622.1 862.5 623.5 867.0 623.2 871.3 C622.8 875.5 620.4 880.0 619.0 883.9 C617.6 887.7 615.7 890.5 614.8 894.5 C613.7 899.0 612.3 906.1 612.6 911.3 C613.0 916.5 616.5 920.2 616.9 925.5 C617.2 931.4 614.1 940.0 614.8 946.6 C615.5 953.3 620.4 961.0 621.1 965.6 C621.6 968.7 621.8 972.8 619.0 974.0 C615.8 975.5 606.0 976.9 602.1 974.0 C598.2 971.2 598.4 963.1 595.8 957.2 C593.0 950.8 588.7 943.1 585.2 936.1 C581.7 929.1 577.5 919.1 574.7 915.0 C573.2 912.8 569.1 913.8 568.4 911.3 C567.1 907.2 567.0 895.5 567.3 890.2 C567.6 886.3 568.3 883.0 570.5 879.7 C572.8 876.2 578.6 872.0 581.0 869.1 C582.8 867.1 585.2 864.6 585.2 862.8 C585.2 861.1 582.8 859.8 581.0 858.6 C578.6 856.8 574.0 854.7 570.5 852.3 C567.0 849.8 562.7 846.7 559.9 843.8 C557.2 841.2 555.7 837.9 553.6 835.4 C551.5 833.0 549.6 831.4 547.3 829.1 C544.8 826.6 542.0 823.5 538.8 820.6 C535.7 817.8 531.3 815.0 528.3 812.2 C525.4 809.4 522.3 807.3 520.9 803.8 C519.5 800.3 520.2 795.3 519.9 791.1 C519.5 786.9 519.2 783.0 518.8 778.5 C518.5 773.9 516.9 767.6 517.8 763.7 C518.6 760.0 521.9 758.4 524.1 755.3 C526.5 751.8 530.6 746.5 532.5 742.6 C534.3 739.1 534.8 735.6 535.7 732.1 C536.6 728.6 535.9 724.7 537.8 721.5 C539.7 718.4 545.0 716.3 547.3 713.1 C549.6 709.9 551.1 706.1 551.5 702.5 C551.8 699.0 550.8 695.2 549.4 692.0 C548.0 688.8 545.9 685.3 543.1 683.6 C540.2 681.8 535.7 680.8 532.5 681.5 C529.4 682.2 526.2 685.7 524.1 687.8 C522.1 689.7 519.5 691.7 519.9 694.1 C520.2 696.6 524.8 699.4 526.2 702.5 C527.6 705.7 529.0 710.8 528.3 713.1 C527.6 715.4 524.5 715.8 522.0 716.3 C519.2 716.8 514.9 715.7 511.4 716.3 C507.9 716.8 504.4 719.2 500.9 719.4 C497.4 719.6 492.8 719.8 490.3 717.3 C487.9 714.9 487.1 709.4 486.1 704.7 C485.1 699.4 484.0 692.0 484.0 685.7 C484.0 679.4 486.1 672.7 486.1 666.7 C486.1 660.7 485.8 655.5 484.0 649.8 C482.3 644.2 478.0 637.2 475.6 633.0 C473.7 629.7 471.0 627.7 469.2 624.5 C467.5 621.4 465.6 618.0 465.0 614.0 C464.3 609.1 465.0 597.1 465.0 595.0 C465.0 592.9 465.7 602.4 465.0 601.3 C464.3 600.3 462.2 592.5 460.8 588.7 C459.4 584.8 458.6 581.7 456.6 578.1 C454.5 574.3 451.3 569.0 448.2 565.5 C445.0 562.0 441.1 560.2 437.6 557.0 C434.1 553.9 430.2 550.0 427.1 546.5 C423.9 543.0 420.7 539.5 418.6 535.9 C416.5 532.4 416.9 528.4 414.4 525.4 C412.0 522.4 407.7 519.8 403.9 518.0 C400.0 516.3 394.7 516.4 391.2 514.9 C387.8 513.3 384.7 511.0 382.8 508.5 C380.9 506.1 381.7 502.4 379.6 500.1 C377.5 497.8 373.4 496.9 370.1 494.8 C366.8 492.7 363.1 490.4 359.6 487.4 C356.1 484.5 352.2 480.4 349.0 476.9 C345.9 473.4 343.4 469.5 340.6 466.4 C337.8 463.2 333.9 460.7 332.2 457.9 C330.5 455.3 331.5 452.3 330.1 449.5 C328.3 446.0 324.8 441.1 321.6 436.8 C318.5 432.6 314.3 427.5 311.1 424.2 C308.3 421.3 305.6 418.2 302.7 416.8 C299.7 415.4 294.7 417.5 293.2 415.7 C291.6 414.0 290.9 408.0 293.2 406.3 C295.4 404.5 303.9 406.8 306.9 405.2 C309.9 403.6 310.5 400.1 311.1 396.8 C311.8 392.5 311.6 384.8 311.1 379.9 C310.6 375.2 309.3 371.5 307.9 367.2 C306.5 363.0 304.0 359.3 302.7 354.6 C301.2 349.7 301.1 342.3 299.5 337.7 C298.0 333.5 293.8 331.6 293.2 327.2 C292.1 319.6 285.4 298.2 293.2 292.4 Z" fill="#d1edb3"/>
<path d="M553.6 643.5 C557.5 639.8 571.9 637.5 578.9 636.1 C584.9 634.9 589.8 634.4 595.8 635.1 C601.8 635.8 609.5 637.9 614.8 640.3 C619.9 642.7 623.0 646.2 627.4 649.8 C632.3 653.9 638.7 660.4 644.3 664.6 C649.9 668.8 655.2 672.7 661.2 675.1 C667.1 677.6 673.8 676.4 680.1 679.4 C686.8 682.5 696.5 691.5 701.2 694.1 C703.6 695.4 706.1 696.1 708.6 695.2 C711.4 694.1 715.1 690.4 718.1 687.8 C721.1 685.2 724.6 681.8 726.5 679.4 C728.1 677.4 727.6 674.3 729.7 673.0 C731.8 671.8 735.7 672.0 739.2 672.0 C742.9 672.0 750.4 671.4 751.8 673.0 C753.2 674.6 749.4 678.6 747.6 681.5 C745.9 684.3 740.9 686.7 741.3 689.9 C741.6 693.1 748.7 698.0 749.7 700.4 C750.4 702.0 749.2 704.1 747.6 704.7 C744.8 705.7 738.2 706.5 732.9 706.8 C726.9 707.1 718.1 707.5 711.8 706.8 C705.5 706.1 700.2 704.3 694.9 702.5 C689.6 700.8 685.1 698.3 680.1 696.2 C675.2 694.1 670.6 691.7 665.4 689.9 C660.1 688.1 653.4 687.8 648.5 685.7 C643.6 683.6 640.3 680.4 635.8 677.2 C631.3 674.1 626.0 669.9 621.1 666.7 C616.2 663.5 611.2 660.7 606.3 658.3 C601.4 655.8 596.1 653.7 591.6 651.9 C587.1 650.2 583.5 648.1 578.9 647.7 C574.3 647.4 568.0 648.1 564.1 649.8 C560.3 651.6 557.5 659.3 555.7 658.3 C554.0 657.2 549.7 647.2 553.6 643.5 Z" fill="#d1edb3"/>
<path d="M404.9 498.0 C407.0 496.9 412.3 495.8 416.5 495.5 C420.9 495.1 427.8 494.8 431.3 495.9 C434.4 496.9 435.8 500.3 437.6 502.2 C439.4 504.0 442.3 505.9 442.3 507.5 C442.3 509.1 439.9 511.6 437.6 511.7 C434.7 511.9 429.6 509.2 425.0 508.5 C420.0 507.8 411.6 508.5 408.1 507.5 C405.8 506.8 404.4 503.8 403.9 502.2 C403.4 500.7 403.5 498.7 404.9 498.0 Z" fill="#f3fabd"/>
<path d="M439.7 523.3 C441.0 520.8 445.5 515.7 448.2 514.9 C450.8 514.0 454.1 516.3 455.5 518.0 C456.9 519.8 457.5 523.1 456.6 525.4 C455.7 527.7 452.9 531.0 450.3 531.7 C447.6 532.4 442.5 531.0 440.8 529.6 C439.0 528.2 438.7 525.4 439.7 523.3 Z" fill="#f3fabd"/>
<path d="M310.0 466.8 C310.0 465.7 316.4 464.1 319.5 464.2 C322.7 464.4 329.0 466.4 329.0 467.4 C329.0 468.5 322.7 470.7 319.5 470.6 C316.4 470.5 310.0 467.8 310.0 466.8 Z" fill="#fcfed3"/>
<path d="M298.0 365.2 C298.5 363.2 301.8 366.1 303.1 367.7 C304.5 369.6 306.0 373.4 306.6 376.6 C307.3 379.7 307.3 384.6 306.9 386.7 C306.6 388.0 305.6 389.0 304.3 389.2 C302.9 389.5 298.6 390.8 298.0 388.6 C297.0 384.6 297.2 368.6 298.0 365.2 Z" fill="#fcfed3"/>
<path d="M316.4 298.0 C316.4 297.6 317.6 297.6 317.6 298.0 C317.9 300.3 316.3 309.1 318.0 311.9 C319.7 314.8 325.9 313.2 327.8 315.1 C329.6 317.0 328.8 320.4 329.0 323.3 C329.5 327.9 330.0 338.1 330.3 342.4 C330.5 344.6 329.7 346.8 330.9 348.7 C332.3 350.8 337.1 352.3 338.6 355.0 C340.0 357.8 339.1 361.6 339.8 365.2 C340.7 369.2 342.1 375.9 343.6 379.1 C344.7 381.4 347.8 382.5 348.7 384.2 C349.5 385.8 347.9 387.6 348.7 389.2 C350.0 392.0 354.4 397.3 356.3 400.6 C358.0 403.7 359.7 406.0 360.1 409.5 C360.6 414.5 361.6 426.9 359.5 430.4 C357.3 433.9 350.8 433.1 347.4 430.4 C343.4 427.1 337.2 416.6 335.4 410.8 C333.8 405.5 336.5 399.6 336.7 395.6 C336.7 392.4 336.5 389.9 336.0 386.7 C335.5 383.1 334.6 378.5 333.5 374.0 C332.3 369.4 331.2 364.1 329.0 358.8 C326.9 353.5 322.3 346.4 320.8 342.4 C319.9 339.8 320.1 336.4 320.2 334.7 C320.2 333.7 321.8 333.2 321.4 332.2 C320.8 330.3 316.9 327.0 316.4 323.3 C315.5 317.6 316.2 302.2 316.4 298.0 Z" fill="#76cabc"/>
<path d="M459.8 487.0 C461.7 485.8 466.0 487.4 469.2 488.5 C472.6 489.6 477.2 491.5 479.8 493.8 C482.4 496.1 484.4 499.7 485.1 502.2 C485.7 504.4 484.7 507.0 484.0 508.5 C483.4 510.0 482.5 511.8 480.8 511.7 C478.7 511.5 474.3 509.4 471.4 507.5 C468.4 505.5 465.2 502.0 462.9 500.1 C461.1 498.5 458.2 498.1 457.7 495.9 C457.1 493.7 457.8 488.3 459.8 487.0 Z" fill="#76cabc"/>
<path d="M501.9 643.9 C503.2 643.4 506.0 648.7 506.2 651.9 C506.3 655.2 504.3 663.0 503.0 663.5 C501.7 664.1 498.5 658.4 498.4 655.1 C498.2 651.8 500.6 644.5 501.9 643.9 Z" fill="#76cabc"/>
<path d="M509.3 375.7 C513.5 370.8 527.6 362.7 532.5 365.1 C537.4 367.6 538.8 382.7 538.8 390.4 C538.8 398.2 535.0 406.3 532.5 411.5 C530.5 415.9 526.8 418.1 524.1 422.1 C520.9 426.6 516.7 433.7 513.5 438.9 C510.4 444.2 508.6 449.7 505.1 453.7 C501.6 457.7 496.1 462.5 492.4 463.2 C488.8 463.9 483.7 460.9 483.0 457.9 C482.3 454.9 485.4 449.3 488.2 445.3 C491.2 441.1 497.5 438.1 500.9 432.6 C504.4 427.0 508.3 417.9 509.3 411.5 C510.3 405.5 507.2 400.6 507.2 394.7 C507.2 388.7 505.1 380.6 509.3 375.7 Z" fill="#fcfed3"/>
<path d="M512.5 397.8 C514.9 396.1 522.5 407.8 524.1 411.5 C525.3 414.4 523.4 417.2 522.0 420.0 C519.9 424.2 514.9 431.9 511.4 436.8 C508.0 441.7 504.0 447.6 500.9 449.5 C498.3 451.1 492.4 450.5 492.4 448.4 C492.4 446.3 498.1 441.2 500.9 436.8 C503.7 432.4 507.6 427.9 509.3 422.1 C511.2 415.6 510.0 399.6 512.5 397.8 Z" fill="#ffffff"/>
<path d="M777.9 292.4 C861.9 277.1 1197.9 261.1 1281.9 292.4 C1345.2 316.0 1286.5 448.6 1281.9 480.1 C1280.5 489.8 1262.2 479.9 1254.5 481.1 C1247.4 482.3 1240.8 483.2 1235.5 487.4 C1230.2 491.7 1226.7 502.7 1222.9 506.4 C1220.0 509.2 1215.8 507.8 1212.3 509.6 C1208.8 511.3 1206.1 515.2 1201.8 517.0 C1196.5 519.1 1187.7 520.5 1180.7 522.2 C1173.6 524.0 1165.9 525.2 1159.6 527.5 C1153.3 529.8 1148.3 534.2 1142.7 535.9 C1137.1 537.7 1130.8 535.6 1125.8 538.1 C1120.9 540.5 1117.1 547.2 1113.2 550.7 C1109.6 554.0 1104.8 556.0 1102.6 559.1 C1100.5 562.3 1100.1 565.8 1100.5 569.7 C1101.1 573.9 1104.4 579.0 1105.8 584.5 C1107.2 590.1 1115.8 602.3 1109.0 603.4 C1089.8 606.6 1009.9 604.8 990.9 603.4 C987.5 603.2 993.6 598.0 995.1 595.0 C996.7 591.8 999.7 588.0 1000.4 584.5 C1001.1 580.9 1000.9 577.4 999.3 573.9 C997.4 569.7 992.1 564.4 988.8 559.1 C985.4 553.9 981.2 546.5 979.3 542.3 C978.0 539.4 978.0 536.9 977.2 533.8 C976.3 530.7 973.8 526.8 974.0 523.3 C974.2 519.8 976.8 515.9 978.2 512.8 C979.6 509.6 981.4 507.5 982.4 504.3 C983.5 501.2 982.4 495.7 984.6 493.8 C986.7 491.8 992.5 493.8 995.1 492.7 C997.6 491.7 1000.4 489.4 1000.4 487.4 C1000.4 485.5 998.0 481.8 995.1 481.1 C992.1 480.4 986.7 482.3 982.4 483.2 C978.2 484.1 973.3 485.7 969.8 486.4 C966.8 487.0 963.5 488.7 961.4 487.4 C959.2 486.2 957.5 481.8 957.1 479.0 C956.8 476.2 957.8 473.4 959.2 470.6 C960.7 467.8 962.8 464.2 965.6 462.1 C968.4 460.0 972.3 459.5 976.1 457.9 C980.3 456.2 987.4 454.8 990.9 451.6 C994.4 448.4 994.4 441.6 997.2 438.9 C1000.0 436.3 1004.2 435.4 1007.8 435.8 C1011.3 436.1 1014.8 439.6 1018.3 441.1 C1021.8 442.5 1024.9 444.1 1028.8 444.2 C1033.4 444.4 1040.8 443.0 1045.7 442.1 C1050.3 441.3 1055.7 440.9 1058.4 438.9 C1061.0 437.0 1061.2 433.7 1061.5 430.5 C1061.9 427.3 1060.5 423.8 1060.5 420.0 C1060.5 416.1 1059.8 411.2 1061.5 407.3 C1063.3 403.4 1068.0 400.3 1071.0 396.8 C1074.0 393.3 1077.5 389.4 1079.5 386.2 C1081.1 383.5 1082.3 380.6 1082.6 377.8 C1083.0 375.0 1082.8 372.2 1081.6 369.4 C1080.3 366.5 1077.6 363.9 1075.2 360.9 C1072.8 357.8 1070.3 353.5 1066.8 350.4 C1063.3 347.2 1059.0 344.4 1054.1 341.9 C1049.2 339.5 1042.2 336.7 1037.3 335.6 C1032.8 334.7 1028.8 334.8 1024.6 335.6 C1020.4 336.4 1016.8 339.5 1012.0 340.3 C1006.3 341.1 997.2 340.8 990.9 340.9 C984.8 341.0 977.9 339.3 974.0 340.9 C970.2 342.4 970.1 347.7 967.7 350.4 C965.2 353.0 962.6 354.9 959.2 356.7 C955.4 358.8 949.8 361.4 944.5 363.0 C939.2 364.6 933.7 365.2 927.6 366.2 C921.3 367.2 912.2 369.4 906.5 369.4 C901.8 369.4 898.3 367.9 893.9 366.2 C889.3 364.4 884.0 361.4 879.1 358.8 C874.2 356.2 869.6 352.8 864.4 350.4 C859.1 347.9 853.5 345.6 847.5 344.0 C841.5 342.5 835.2 339.3 828.5 340.9 C821.2 342.6 807.8 349.8 803.6 354.6 C800.1 358.6 803.6 364.8 803.2 369.4 C802.8 373.9 805.1 379.7 801.1 382.0 C796.9 384.5 780.0 392.2 777.9 384.1 C774.0 369.2 745.4 298.3 777.9 292.4 Z" fill="#fcfed3"/>
<path d="M795.8 327.2 C796.5 323.7 797.1 318.2 801.1 316.6 C805.5 314.9 817.3 314.9 822.2 316.6 C826.8 318.3 827.1 324.9 830.6 327.2 C834.1 329.5 841.5 328.9 843.3 330.3 C844.9 331.6 843.0 334.7 841.2 335.6 C838.7 336.8 831.3 336.3 828.5 337.7 C826.1 338.9 826.9 343.1 824.3 344.0 C820.4 345.5 809.9 347.2 805.3 346.2 C801.1 345.2 798.5 340.9 796.9 337.7 C795.3 334.6 795.1 330.7 795.8 327.2 Z" fill="#f3fabd"/>
<path d="M1038.3 292.4 C1052.9 290.3 1101.1 289.4 1113.2 292.4 C1119.5 293.9 1113.2 305.2 1111.1 310.3 C1109.0 315.4 1105.1 320.3 1100.5 323.0 C1096.0 325.6 1089.8 325.8 1083.7 326.1 C1077.3 326.5 1068.6 325.9 1062.6 325.1 C1057.1 324.3 1052.7 321.0 1047.8 320.8 C1042.9 320.7 1036.9 324.7 1033.1 324.0 C1029.2 323.3 1025.9 319.8 1024.6 316.6 C1023.4 313.5 1023.6 308.7 1025.7 305.0 C1028.0 301.0 1032.0 293.3 1038.3 292.4 Z" fill="#f3fabd"/>
<path d="M1180.7 305.0 C1184.5 304.0 1194.4 305.9 1199.7 308.2 C1204.9 310.5 1209.1 314.5 1212.3 318.7 C1215.5 323.0 1215.5 328.9 1218.6 333.5 C1221.8 338.1 1227.1 343.7 1231.3 346.2 C1235.3 348.5 1240.8 345.8 1243.9 348.3 C1247.1 350.7 1249.6 357.1 1250.3 360.9 C1251.0 364.7 1250.3 369.2 1248.2 371.5 C1246.0 373.7 1241.1 375.7 1237.6 374.6 C1234.1 373.6 1228.5 368.5 1227.1 365.1 C1225.7 361.8 1230.6 357.4 1229.2 354.6 C1227.8 351.8 1222.5 350.4 1218.6 348.3 C1214.8 346.2 1210.2 344.0 1206.0 341.9 C1201.8 339.8 1197.5 338.4 1193.3 335.6 C1189.1 332.8 1183.5 328.6 1180.7 325.1 C1178.1 321.9 1176.5 317.9 1176.5 314.5 C1176.5 311.2 1177.1 306.0 1180.7 305.0 Z" fill="#f3fabd"/>
<path d="M1233.4 292.4 C1241.1 290.4 1273.8 288.7 1281.9 292.4 C1289.1 295.7 1284.7 311.5 1281.9 314.5 C1279.1 317.5 1271.3 310.7 1265.0 310.3 C1258.7 310.0 1248.9 313.5 1243.9 312.4 C1239.7 311.5 1237.3 307.3 1235.5 304.0 C1233.7 300.6 1229.3 293.4 1233.4 292.4 Z" fill="#f3fabd"/>
<path d="M910.7 517.0 C914.1 514.5 926.2 512.4 931.8 512.8 C936.9 513.1 941.7 516.6 944.5 519.1 C947.0 521.3 946.1 525.4 948.7 527.5 C952.2 530.3 961.7 532.4 965.6 535.9 C969.3 539.4 971.9 544.4 971.9 548.6 C971.9 552.8 967.7 557.0 965.6 561.3 C963.5 565.5 960.6 569.0 959.2 573.9 C957.8 578.8 957.8 585.9 957.1 590.8 C956.5 595.3 959.3 601.7 955.0 603.4 C949.8 605.5 930.8 606.6 925.5 603.4 C920.2 600.3 922.3 590.1 923.4 584.5 C924.5 578.8 928.7 574.6 931.8 569.7 C935.0 564.8 940.3 559.1 942.4 554.9 C944.1 551.5 945.5 547.2 944.5 544.4 C943.4 541.6 939.2 538.8 936.1 538.1 C932.9 537.4 928.3 540.9 925.5 540.2 C922.7 539.5 921.5 535.9 919.2 533.8 C916.9 531.7 913.2 530.3 911.8 527.5 C910.4 524.7 907.7 519.2 910.7 517.0 Z" fill="#fcfed3"/>
<path d="M827.4 418.9 C827.4 417.2 832.7 418.3 834.8 420.0 C838.5 423.0 845.0 431.6 849.6 436.8 C854.2 442.1 858.7 447.0 862.2 451.6 C865.6 455.9 868.7 460.7 870.7 464.2 C872.2 467.1 874.2 471.6 873.8 472.7 C873.5 473.7 870.0 472.1 868.6 470.6 C866.3 468.1 863.6 462.1 860.1 457.9 C856.6 453.7 851.7 449.8 847.5 445.3 C843.3 440.7 838.2 434.9 834.8 430.5 C831.8 426.6 827.4 420.7 827.4 418.9 Z" fill="#fcfed3"/>
<path d="M1030.9 533.8 C1031.7 530.7 1037.3 528.9 1041.5 527.5 C1045.7 526.1 1053.1 524.4 1056.3 525.4 C1059.4 526.5 1060.5 530.7 1060.5 533.8 C1060.5 537.0 1058.7 541.9 1056.3 544.4 C1053.8 546.8 1048.9 548.3 1045.7 548.6 C1042.6 548.9 1039.5 548.7 1037.3 546.5 C1034.8 544.0 1030.2 537.0 1030.9 533.8 Z" fill="#f3fabd"/>
<path d="M1115.3 580.2 C1117.8 576.0 1123.4 569.0 1125.8 567.6 C1127.7 566.5 1130.4 569.7 1130.1 571.8 C1129.4 575.7 1124.1 585.5 1121.6 590.8 C1119.5 595.4 1117.1 603.1 1115.3 603.4 C1113.5 603.8 1111.1 596.8 1111.1 592.9 C1111.1 589.0 1112.9 584.4 1115.3 580.2 Z" fill="#fcfed3"/>
<path d="M1128.0 398.9 C1128.7 395.5 1137.4 391.1 1142.7 389.4 C1148.0 387.6 1153.5 388.0 1159.6 388.3 C1165.9 388.7 1173.6 390.4 1180.7 391.5 C1187.7 392.5 1194.7 393.3 1201.8 394.7 C1208.8 396.1 1216.5 397.8 1222.9 399.9 C1229.1 402.0 1235.0 404.1 1239.7 407.3 C1244.5 410.5 1250.6 415.0 1251.3 418.9 C1252.0 422.8 1248.0 427.7 1243.9 430.5 C1239.9 433.3 1233.4 434.8 1227.1 435.8 C1220.0 436.8 1209.5 437.7 1201.8 436.8 C1194.0 436.0 1185.9 433.3 1180.7 430.5 C1175.9 428.0 1174.3 422.4 1170.1 420.0 C1165.9 417.5 1160.6 417.5 1155.4 415.7 C1150.1 414.0 1143.1 412.2 1138.5 409.4 C1133.9 406.6 1127.3 402.2 1128.0 398.9 Z" fill="#ffffff"/>
<path d="M1126.9 479.0 C1127.6 476.9 1134.1 475.6 1138.5 474.8 C1143.9 473.7 1152.6 473.3 1159.6 472.7 C1166.6 472.1 1175.6 470.1 1180.7 471.0 C1184.8 471.7 1189.5 475.2 1190.2 478.0 C1190.9 480.7 1186.3 484.5 1184.9 487.4 C1183.5 490.4 1184.1 493.7 1181.7 495.9 C1179.3 498.2 1173.8 501.2 1170.1 501.2 C1166.4 501.2 1163.6 497.2 1159.6 495.9 C1155.4 494.5 1149.0 494.1 1144.8 492.7 C1140.8 491.4 1137.3 489.7 1134.3 487.4 C1131.3 485.2 1126.2 481.1 1126.9 479.0 Z" fill="#ffffff"/>
<path d="M1083.7 538.1 C1084.4 534.5 1087.5 530.6 1090.0 527.5 C1092.5 524.4 1095.3 519.5 1098.4 519.5 C1101.6 519.5 1106.2 524.4 1109.0 527.5 C1111.8 530.6 1116.7 535.1 1115.3 538.1 C1113.9 541.0 1105.5 543.7 1100.5 545.4 C1095.6 547.2 1088.6 549.8 1085.8 548.6 C1083.0 547.4 1083.0 541.6 1083.7 538.1 Z" fill="#ffffff"/>
<path d="M1043.6 603.4 C1038.5 599.6 1047.5 586.2 1049.9 580.2 C1052.0 575.2 1054.8 569.9 1058.4 567.6 C1061.9 565.3 1067.5 565.1 1071.0 566.5 C1074.5 567.9 1078.3 571.6 1079.5 576.0 C1081.0 582.2 1086.5 598.9 1080.5 603.4 C1074.5 608.0 1048.7 607.3 1043.6 603.4 Z" fill="#ffffff"/>
<path d="M1267.9 311.4 C1268.4 305.7 1277.2 315.1 1282.7 316.6 C1288.3 318.2 1294.7 320.1 1301.6 320.8 C1310.1 321.7 1323.8 321.4 1333.3 321.9 C1342.4 322.4 1350.1 323.5 1358.6 324.0 C1367.0 324.5 1377.5 325.6 1383.9 325.1 C1388.7 324.7 1392.7 322.3 1396.5 320.8 C1400.4 319.5 1403.6 316.6 1407.1 316.6 C1410.6 316.6 1414.5 318.7 1417.6 320.8 C1420.8 323.0 1422.5 326.8 1426.1 329.3 C1429.6 331.7 1433.7 335.0 1438.7 335.6 C1444.3 336.3 1452.8 333.3 1459.8 333.5 C1466.8 333.7 1473.9 336.7 1480.9 336.7 C1487.9 336.7 1494.9 334.6 1502.0 333.5 C1509.0 332.4 1516.0 330.5 1523.1 330.3 C1530.1 330.2 1537.8 332.4 1544.1 332.4 C1550.3 332.4 1555.7 329.8 1561.0 330.3 C1566.3 330.9 1571.6 334.4 1575.8 335.6 C1579.5 336.7 1582.5 337.7 1586.3 337.7 C1595.1 337.7 1618.0 336.7 1628.5 335.6 C1636.2 334.8 1642.8 335.1 1649.6 331.4 C1656.6 327.5 1665.4 318.9 1670.7 312.4 C1675.8 306.1 1673.2 294.0 1681.2 292.4 C1698.1 289.0 1756.8 268.3 1771.9 292.4 C1787.0 316.5 1774.7 412.1 1771.9 436.8 C1771.2 443.1 1760.7 438.6 1755.0 441.1 C1749.4 443.5 1743.1 447.7 1738.2 451.6 C1733.2 455.5 1728.3 460.4 1725.5 464.2 C1723.1 467.6 1722.3 470.9 1721.3 474.8 C1720.2 478.7 1720.6 483.2 1719.2 487.4 C1717.8 491.7 1715.7 496.2 1712.9 500.1 C1710.0 504.0 1706.5 508.7 1702.3 510.6 C1698.1 512.6 1691.8 512.8 1687.5 511.7 C1683.3 510.6 1680.5 507.0 1677.0 504.3 C1673.5 501.7 1671.0 495.9 1666.5 495.9 C1661.9 495.9 1655.9 502.9 1649.6 504.3 C1643.3 505.7 1634.8 506.1 1628.5 504.3 C1622.2 502.6 1616.5 496.9 1611.6 493.8 C1607.0 490.8 1603.2 487.8 1599.0 485.3 C1594.8 482.9 1589.1 481.5 1586.3 479.0 C1583.8 476.8 1585.0 472.3 1582.1 470.6 C1578.6 468.5 1571.4 467.4 1565.2 466.4 C1558.9 465.3 1551.2 464.2 1544.1 464.2 C1537.1 464.2 1529.0 465.7 1523.1 466.4 C1517.7 467.0 1512.2 466.2 1508.3 468.5 C1504.4 470.8 1503.0 478.7 1499.9 480.1 C1496.7 481.5 1490.7 478.8 1489.3 476.9 C1487.9 475.0 1490.7 471.5 1491.4 468.5 C1492.1 465.3 1494.6 461.4 1493.5 457.9 C1492.5 454.4 1488.6 449.8 1485.1 447.4 C1481.6 444.9 1476.7 444.2 1472.4 443.2 C1468.2 442.1 1463.3 441.2 1459.8 441.1 C1456.7 440.9 1454.4 442.7 1451.4 442.1 C1447.8 441.4 1443.5 438.2 1438.7 436.8 C1433.1 435.3 1424.6 433.3 1417.6 432.6 C1410.6 431.9 1401.8 431.6 1396.5 432.6 C1392.2 433.5 1388.4 436.1 1386.0 438.9 C1383.5 441.8 1383.5 447.0 1381.8 449.5 C1380.2 451.7 1377.9 452.6 1375.4 453.7 C1372.3 455.1 1367.0 457.9 1362.8 457.9 C1358.6 457.9 1354.0 454.1 1350.1 453.7 C1346.3 453.4 1343.4 454.9 1339.6 455.8 C1335.0 456.9 1327.3 457.9 1322.7 460.0 C1318.3 462.1 1315.7 466.7 1312.2 468.5 C1308.7 470.2 1305.1 470.4 1301.6 470.6 C1298.1 470.8 1294.6 469.2 1291.1 469.5 C1287.6 469.9 1284.2 471.2 1280.5 472.7 C1276.7 474.3 1268.3 484.1 1267.9 479.0 C1265.8 452.1 1265.4 338.4 1267.9 311.4 Z" fill="#fcfed3"/>
<path d="M1291.1 428.4 C1292.8 425.2 1304.4 423.4 1312.2 422.1 C1322.7 420.3 1343.5 420.0 1354.4 417.9 C1363.1 416.2 1372.6 409.4 1377.5 409.4 C1381.3 409.4 1384.9 415.0 1383.9 417.9 C1382.8 420.7 1375.4 423.8 1371.2 426.3 C1367.0 428.8 1363.1 430.2 1358.6 432.6 C1354.0 435.1 1349.7 439.3 1343.8 441.1 C1337.8 442.8 1329.7 443.2 1322.7 443.2 C1315.7 443.2 1306.9 443.5 1301.6 441.1 C1296.4 438.6 1289.3 431.6 1291.1 428.4 Z" fill="#f3fabd"/>
<path d="M1586.3 336.7 C1594.1 333.7 1618.0 335.6 1628.5 334.6 C1636.2 333.8 1642.8 334.1 1649.6 330.3 C1656.6 326.5 1665.6 317.7 1670.7 311.4 C1675.5 305.4 1678.2 292.2 1680.2 292.4 C1682.1 292.6 1682.1 305.9 1682.3 312.4 C1682.4 318.9 1683.2 325.4 1681.2 331.4 C1679.3 337.4 1674.2 344.4 1670.7 348.3 C1667.7 351.5 1663.8 352.1 1660.1 354.6 C1655.9 357.4 1648.5 361.6 1645.4 365.1 C1642.6 368.2 1642.6 373.2 1641.2 375.7 C1640.1 377.5 1638.5 378.4 1636.9 379.9 C1634.8 382.0 1631.7 385.9 1628.5 388.3 C1625.3 390.8 1621.5 392.2 1618.0 394.7 C1614.4 397.1 1611.3 400.3 1607.4 403.1 C1603.5 405.9 1599.0 408.7 1594.8 411.5 C1590.5 414.3 1587.3 418.3 1582.1 420.0 C1576.5 421.7 1567.3 423.1 1561.0 422.1 C1554.7 421.0 1548.7 416.4 1544.1 413.6 C1540.0 411.1 1536.5 409.1 1533.6 405.2 C1530.4 401.0 1528.7 392.9 1525.2 388.3 C1521.7 383.8 1515.3 381.0 1512.5 377.8 C1510.3 375.3 1505.5 371.2 1508.3 369.4 C1511.5 367.2 1525.9 365.1 1531.5 365.1 C1535.6 365.1 1538.1 370.5 1542.0 369.4 C1547.0 367.9 1554.3 359.5 1561.0 356.7 C1567.7 353.9 1577.9 355.8 1582.1 352.5 C1586.3 349.1 1580.8 338.8 1586.3 336.7 Z" fill="#f3fabd"/>
<path d="M1712.9 327.2 C1716.0 321.6 1729.4 313.8 1733.9 312.4 C1737.0 311.5 1741.0 315.6 1740.3 318.7 C1739.2 323.0 1731.8 333.2 1727.6 337.7 C1723.9 341.7 1717.4 347.9 1715.0 346.2 C1712.5 344.4 1709.7 332.8 1712.9 327.2 Z" fill="#f3fabd"/>
<path d="M1379.7 388.3 C1379.5 385.7 1383.0 380.8 1384.9 381.0 C1386.9 381.1 1391.1 386.8 1391.3 389.4 C1391.4 392.0 1387.9 396.9 1386.0 396.8 C1384.1 396.6 1379.8 391.0 1379.7 388.3 Z" fill="#f3fabd"/>
<path d="M1293.2 394.7 C1294.3 390.8 1302.7 382.7 1305.8 377.8 C1308.6 373.5 1309.7 368.6 1312.2 365.1 C1314.6 361.6 1317.3 359.4 1320.6 356.7 C1324.1 353.9 1328.3 350.7 1333.3 348.3 C1338.9 345.5 1348.0 341.4 1354.4 340.3 C1360.3 339.2 1365.6 340.2 1371.2 341.5 C1376.8 342.9 1383.9 346.1 1388.1 348.3 C1391.5 350.0 1398.6 353.0 1396.5 354.6 C1394.4 356.2 1380.0 356.0 1375.4 357.8 C1372.2 359.0 1370.9 362.1 1369.1 365.1 C1367.4 368.1 1368.6 373.9 1364.9 375.7 C1360.0 378.1 1344.5 377.1 1339.6 379.9 C1335.4 382.3 1337.5 389.2 1335.4 392.5 C1333.3 395.9 1330.6 398.3 1326.9 399.9 C1323.1 401.7 1316.7 402.9 1312.2 403.1 C1307.6 403.3 1302.7 402.4 1299.5 401.0 C1296.6 399.7 1292.3 397.8 1293.2 394.7 Z" fill="#ffffff"/>
<path d="M1396.5 354.6 C1398.3 354.2 1401.4 360.6 1405.0 363.0 C1408.5 365.5 1412.5 369.0 1417.6 369.4 C1423.2 369.7 1431.7 364.4 1438.7 365.1 C1445.7 365.8 1452.8 371.5 1459.8 373.6 C1466.8 375.7 1474.6 376.0 1480.9 377.8 C1487.1 379.5 1492.8 382.2 1497.8 384.1 C1502.3 385.9 1510.1 387.3 1510.4 389.4 C1510.8 391.5 1502.0 393.8 1499.9 396.8 C1497.8 399.8 1497.4 403.5 1497.8 407.3 C1498.1 411.2 1498.7 416.4 1502.0 420.0 C1505.5 423.8 1512.9 427.7 1518.8 430.5 C1524.8 433.3 1532.2 434.4 1537.8 436.8 C1543.4 439.3 1548.0 442.5 1552.6 445.3 C1557.2 448.1 1562.2 451.5 1565.2 453.7 C1567.3 455.2 1572.6 457.5 1570.5 458.3 C1568.4 459.2 1558.7 459.8 1552.6 459.0 C1546.4 458.2 1540.3 455.3 1533.6 453.7 C1526.9 452.1 1517.8 451.6 1512.5 449.5 C1508.0 447.7 1506.3 443.3 1502.0 441.1 C1496.7 438.2 1486.5 433.7 1480.9 432.6 C1476.3 431.8 1472.4 435.1 1468.2 434.7 C1464.0 434.4 1460.3 431.5 1455.6 430.5 C1450.7 429.5 1444.0 430.2 1438.7 428.4 C1433.4 426.6 1428.2 421.4 1423.9 420.0 C1420.3 418.8 1417.2 420.1 1413.4 420.0 C1408.8 419.8 1397.6 420.5 1396.5 418.9 C1395.5 417.3 1403.6 411.5 1407.1 410.5 C1410.6 409.4 1415.2 413.8 1417.6 412.6 C1420.1 411.4 1422.2 406.1 1421.8 403.1 C1421.5 400.1 1418.0 397.5 1415.5 394.7 C1413.0 391.8 1409.5 388.7 1407.1 386.2 C1404.8 383.9 1402.5 382.0 1400.7 379.9 C1399.0 377.8 1397.6 376.0 1396.5 373.6 C1395.5 371.1 1394.4 368.3 1394.4 365.1 C1394.4 362.0 1394.8 354.9 1396.5 354.6 Z" fill="#ffffff"/>
<path d="M1539.9 348.3 C1538.9 347.2 1541.6 342.8 1544.1 341.9 C1547.7 340.7 1560.0 339.8 1561.0 340.9 C1562.1 341.9 1554.0 347.0 1550.5 348.3 C1547.0 349.5 1541.0 349.3 1539.9 348.3 Z" fill="#ffffff"/>
<path d="M1620.1 409.4 C1620.1 405.2 1628.5 401.0 1632.7 396.8 C1636.9 392.5 1641.9 388.0 1645.4 384.1 C1648.6 380.5 1650.6 376.7 1653.8 373.6 C1657.0 370.4 1660.8 367.6 1664.3 365.1 C1667.9 362.7 1671.7 359.5 1674.9 358.8 C1677.9 358.1 1681.1 358.7 1683.3 360.9 C1686.1 363.7 1689.3 370.8 1691.8 375.7 C1694.2 380.6 1696.3 386.4 1698.1 390.4 C1699.6 393.9 1703.4 396.4 1702.3 399.9 C1701.3 403.4 1694.9 407.8 1691.8 411.5 C1688.6 415.2 1685.8 418.6 1683.3 422.1 C1680.9 425.6 1679.5 429.5 1677.0 432.6 C1674.5 435.8 1671.7 438.2 1668.6 441.1 C1665.4 443.9 1661.2 446.3 1658.0 449.5 C1654.9 452.7 1652.0 456.5 1649.6 460.0 C1647.1 463.5 1645.4 467.1 1643.3 470.6 C1641.2 474.1 1638.7 478.8 1636.9 481.1 C1635.8 482.6 1634.6 484.6 1632.7 484.3 C1630.6 483.9 1626.4 480.9 1624.3 479.0 C1622.3 477.2 1621.1 474.8 1620.1 472.7 C1619.0 470.6 1617.3 468.5 1618.0 466.4 C1618.7 464.2 1621.8 462.1 1624.3 460.0 C1626.7 457.9 1632.0 456.5 1632.7 453.7 C1633.4 450.9 1627.8 446.7 1628.5 443.2 C1629.2 439.6 1636.2 436.1 1636.9 432.6 C1637.6 429.1 1635.1 425.4 1632.7 422.1 C1629.9 418.2 1620.1 413.6 1620.1 409.4 Z" fill="#ffffff"/>
<path d="M1763.5 292.4 C1765.3 289.9 1771.6 289.4 1771.9 292.4 C1773.3 308.7 1774.7 374.1 1771.9 390.4 C1770.9 396.4 1761.1 390.7 1755.0 390.4 C1747.6 390.1 1732.9 389.7 1727.6 388.3 C1725.0 387.6 1722.3 384.5 1723.4 382.0 C1724.4 379.5 1730.1 376.0 1733.9 373.6 C1737.8 371.1 1743.4 369.7 1746.6 367.2 C1749.6 364.9 1752.6 362.0 1752.9 358.8 C1753.3 355.6 1750.1 351.4 1748.7 348.3 C1747.3 345.2 1744.5 343.2 1744.5 339.8 C1744.5 336.3 1746.7 331.5 1748.7 327.2 C1750.8 322.6 1754.7 318.0 1757.1 312.4 C1759.6 306.6 1761.0 295.7 1763.5 292.4 Z" fill="#ffffff"/>
<path d="M1257.3 291.3 C1267.5 288.5 1308.8 286.6 1318.5 291.3 C1327.8 295.9 1318.2 315.1 1315.3 319.8 C1312.8 324.0 1306.5 320.4 1301.6 319.8 C1296.2 319.1 1287.9 317.2 1282.7 315.6 C1277.9 314.2 1274.2 311.5 1270.0 310.3 C1265.8 309.1 1259.5 311.4 1257.3 308.2 C1255.2 305.0 1251.5 292.9 1257.3 291.3 Z" fill="#f3fabd"/>
<path d="M511.4 985.1 C515.3 979.9 525.5 978.1 532.5 978.8 C539.5 979.5 549.0 985.8 553.6 989.4 C557.1 992.1 561.7 996.4 559.9 999.9 C558.2 1003.4 548.3 1008.0 543.1 1010.4 C538.0 1012.8 531.8 1012.5 528.3 1014.7 C525.0 1016.6 522.0 1019.6 522.0 1023.1 C522.0 1026.6 524.8 1032.9 528.3 1035.7 C531.8 1038.6 539.2 1037.2 543.1 1040.0 C546.9 1042.8 550.8 1048.4 551.5 1052.6 C552.2 1056.8 546.9 1060.7 547.3 1065.3 C547.6 1069.8 552.2 1075.5 553.6 1080.0 C555.0 1084.4 557.5 1089.5 555.7 1092.7 C554.0 1095.8 548.0 1098.0 543.1 1099.0 C538.1 1100.1 530.4 1100.4 526.2 1099.0 C522.1 1097.7 520.2 1094.1 517.8 1090.6 C515.3 1087.1 512.5 1082.9 511.4 1077.9 C510.0 1071.6 509.3 1060.3 509.3 1052.6 C509.3 1045.0 511.4 1038.6 511.4 1031.5 C511.4 1024.5 509.3 1018.1 509.3 1010.4 C509.3 1002.7 507.6 990.4 511.4 985.1 Z" fill="#fcfed3"/>
<path d="M581.0 1004.1 C582.9 1001.7 589.5 998.1 593.7 997.8 C597.9 997.4 604.6 999.5 606.3 1002.0 C608.1 1004.5 607.0 1010.1 604.2 1012.5 C601.4 1015.0 593.1 1016.8 589.5 1016.8 C586.4 1016.8 583.5 1014.7 582.1 1012.5 C580.7 1010.4 579.1 1006.5 581.0 1004.1 Z" fill="#fcfed3"/>
<path d="M578.9 1031.5 C579.5 1027.1 582.1 1022.4 585.2 1021.0 C588.4 1019.6 593.7 1021.3 597.9 1023.1 C602.1 1024.9 605.6 1029.8 610.5 1031.5 C615.5 1033.3 623.2 1031.9 627.4 1033.6 C631.4 1035.3 635.1 1039.3 635.8 1042.1 C636.5 1044.9 634.4 1048.8 631.6 1050.5 C628.8 1052.3 623.0 1050.3 619.0 1052.6 C614.8 1055.1 607.7 1061.1 606.3 1065.3 C604.9 1069.5 610.9 1074.4 610.5 1077.9 C610.2 1081.4 607.0 1085.3 604.2 1086.4 C601.4 1087.4 596.8 1086.4 593.7 1084.2 C590.5 1082.1 587.0 1078.2 585.2 1073.7 C583.1 1068.4 582.1 1059.6 581.0 1052.6 C580.0 1045.6 578.2 1036.8 578.9 1031.5 Z" fill="#fcfed3"/>
<path d="M638.0 1014.7 C639.4 1011.8 644.5 1011.5 648.5 1010.4 C653.8 1009.0 662.6 1008.3 669.6 1006.2 C676.6 1004.1 686.1 998.1 690.7 997.8 C693.9 997.5 697.0 1001.3 697.0 1004.1 C697.0 1006.9 689.6 1011.5 690.7 1014.7 C691.7 1017.8 698.8 1020.3 703.3 1023.1 C707.9 1025.9 716.7 1028.7 718.1 1031.5 C719.5 1034.3 713.9 1036.9 711.8 1040.0 C709.3 1043.5 706.8 1051.2 703.3 1052.6 C699.8 1054.0 694.2 1049.8 690.7 1048.4 C687.5 1047.1 685.6 1044.8 682.2 1044.2 C678.7 1043.5 674.0 1042.9 669.6 1044.2 C664.7 1045.6 656.2 1049.1 652.7 1052.6 C649.3 1056.0 647.8 1060.7 648.5 1065.3 C649.2 1069.8 653.4 1075.8 656.9 1080.0 C660.4 1084.2 664.0 1089.2 669.6 1090.6 C675.2 1092.0 685.1 1090.6 690.7 1088.5 C696.2 1086.4 700.5 1081.8 703.3 1077.9 C706.1 1074.1 704.4 1067.7 707.5 1065.3 C710.7 1062.8 717.4 1063.2 722.3 1063.2 C727.2 1063.2 732.0 1063.6 737.1 1065.3 C742.3 1067.0 749.4 1070.5 753.9 1073.7 C758.4 1076.8 764.5 1080.7 764.5 1084.2 C764.5 1087.8 758.7 1092.3 753.9 1094.8 C748.7 1097.6 739.9 1099.7 732.9 1101.1 C725.8 1102.5 718.8 1102.2 711.8 1103.2 C704.7 1104.3 697.7 1107.1 690.7 1107.4 C683.6 1107.8 676.6 1106.7 669.6 1105.3 C662.6 1103.9 654.1 1101.5 648.5 1099.0 C643.5 1096.8 639.4 1094.8 635.8 1090.6 C632.3 1086.4 627.4 1079.3 627.4 1073.7 C627.4 1068.1 633.0 1062.5 635.8 1056.8 C638.7 1051.2 643.6 1044.9 644.3 1040.0 C645.0 1035.2 641.1 1031.5 640.1 1027.3 C639.0 1023.1 636.5 1017.5 638.0 1014.7 Z" fill="#fcfed3"/>
<path d="M720.2 968.3 C724.1 963.3 727.9 958.4 732.9 955.6 C737.8 952.8 745.5 956.0 749.7 951.4 C756.0 944.4 763.8 920.1 770.8 913.4 C776.3 908.2 790.3 903.9 791.9 911.3 C795.4 927.5 794.7 994.6 791.9 1010.4 C790.8 1016.6 779.6 1005.5 775.0 1006.2 C770.5 1006.9 767.6 1010.9 764.5 1014.7 C761.0 1018.9 756.8 1025.9 753.9 1031.5 C751.1 1037.2 751.1 1044.9 747.6 1048.4 C744.1 1051.9 737.4 1053.3 732.9 1052.6 C728.3 1051.9 723.0 1047.7 720.2 1044.2 C717.4 1040.7 716.0 1036.3 716.0 1031.5 C716.0 1025.9 720.9 1015.7 720.2 1010.4 C719.6 1005.6 713.5 1004.1 711.8 999.9 C710.0 995.7 708.3 990.3 709.7 985.1 C711.1 979.9 716.3 973.2 720.2 968.3 Z" fill="#fcfed3"/>
<path d="M543.1 911.3 C544.1 908.5 549.4 904.3 553.6 902.9 C557.8 901.5 566.3 900.8 568.4 902.9 C570.5 905.0 567.7 912.4 566.3 915.5 C564.9 918.5 563.1 921.2 559.9 921.9 C556.8 922.6 550.1 921.5 547.3 919.8 C544.5 918.0 542.0 914.1 543.1 911.3 Z" fill="#fcfed3"/>
<path d="M562.0 943.0 C563.1 940.1 569.1 935.2 572.6 936.6 C576.1 938.0 582.8 947.5 583.1 951.4 C583.5 955.3 577.5 959.5 574.7 959.8 C571.9 960.2 568.4 956.3 566.3 953.5 C564.1 950.7 561.0 945.8 562.0 943.0 Z" fill="#fcfed3"/>
<path d="M498.8 974.6 C500.5 972.1 507.6 970.0 511.4 970.4 C515.3 970.7 521.6 974.2 522.0 976.7 C522.3 979.2 517.0 983.7 513.5 985.1 C510.0 986.5 503.3 986.9 500.9 985.1 C498.4 983.4 497.0 977.1 498.8 974.6 Z" fill="#fcfed3"/>
<path d="M408.1 917.7 C409.5 914.5 420.0 910.6 425.0 911.3 C429.9 912.0 434.2 917.0 437.6 921.9 C441.8 927.8 446.8 939.4 450.3 947.2 C453.7 954.6 456.8 963.3 458.7 968.3 C459.9 971.3 462.6 976.0 461.9 976.7 C461.2 977.4 456.7 974.6 454.5 972.5 C451.1 969.3 446.1 962.6 441.8 957.7 C437.6 952.8 433.4 947.5 429.2 943.0 C425.0 938.4 420.0 934.5 416.5 930.3 C413.0 926.1 406.7 920.8 408.1 917.7 Z" fill="#fcfed3"/>
<path d="M298.4 1040.0 C301.2 1034.7 309.7 1040.0 315.3 1042.1 C320.9 1044.2 325.8 1051.2 332.2 1052.6 C338.5 1054.0 348.3 1049.8 353.3 1050.5 C357.0 1051.0 360.1 1053.4 361.7 1056.8 C363.5 1060.7 364.2 1068.4 363.8 1073.7 C363.5 1079.0 363.1 1085.7 359.6 1088.5 C356.1 1091.3 348.7 1090.2 342.7 1090.6 C336.7 1090.9 329.7 1091.6 323.7 1090.6 C317.8 1089.5 311.1 1087.1 306.9 1084.2 C302.8 1081.6 299.3 1078.5 298.4 1073.7 C297.0 1066.3 295.6 1045.2 298.4 1040.0 Z" fill="#fcfed3"/>
<path d="M374.4 1126.4 C375.4 1123.3 380.7 1119.7 384.9 1118.0 C389.1 1116.2 395.1 1114.8 399.7 1115.9 C404.2 1116.9 409.5 1121.5 412.3 1124.3 C414.7 1126.7 417.2 1130.3 416.5 1132.8 C415.8 1135.2 411.7 1137.9 408.1 1139.1 C403.9 1140.5 396.1 1141.5 391.2 1141.2 C386.4 1140.8 381.4 1139.4 378.6 1137.0 C375.8 1134.5 373.3 1129.6 374.4 1126.4 Z" fill="#fcfed3"/>
<path d="M378.6 1172.8 C380.0 1170.4 386.3 1167.2 391.2 1166.5 C396.1 1165.8 403.2 1166.8 408.1 1168.6 C413.0 1170.4 419.3 1173.9 420.7 1177.0 C422.2 1180.2 419.3 1185.1 416.5 1187.6 C413.7 1190.0 408.1 1191.8 403.9 1191.8 C399.7 1191.8 394.7 1189.3 391.2 1187.6 C387.8 1185.9 384.9 1183.7 382.8 1181.3 C380.7 1178.8 377.2 1175.3 378.6 1172.8 Z" fill="#fcfed3"/>
<path d="M332.2 1147.5 C334.3 1145.1 341.7 1142.2 344.8 1143.3 C348.0 1144.4 351.9 1150.3 351.2 1153.8 C350.5 1157.4 343.8 1163.7 340.6 1164.4 C337.4 1165.1 333.6 1160.9 332.2 1158.1 C330.8 1155.2 330.1 1150.0 332.2 1147.5 Z" fill="#fcfed3"/>
<path d="M298.4 1179.1 C302.2 1171.6 316.0 1173.5 321.6 1177.0 C327.3 1180.6 331.1 1192.5 332.2 1200.2 C333.2 1208.0 333.6 1219.6 328.0 1223.4 C322.3 1227.3 303.4 1230.8 298.4 1223.4 C293.5 1216.1 294.6 1186.9 298.4 1179.1 Z" fill="#fcfed3"/>
<path d="M293.2 902.9 C304.8 887.4 351.0 898.3 362.8 902.9 C372.0 906.5 361.2 921.2 363.8 930.3 C366.4 939.4 373.3 952.4 378.6 957.7 C383.0 962.1 391.2 959.8 395.4 961.9 C399.3 963.9 401.8 967.9 403.9 970.4 C405.7 972.5 406.0 977.1 408.1 976.7 C410.2 976.3 413.4 968.6 416.5 968.3 C419.7 967.9 423.7 971.8 427.1 974.6 C431.3 978.1 437.3 985.5 441.8 989.4 C446.0 992.9 450.6 994.3 454.5 997.8 C458.4 1001.3 462.2 1006.2 465.0 1010.4 C467.8 1014.7 470.5 1018.2 471.4 1023.1 C472.2 1028.0 470.0 1033.9 470.3 1040.0 C470.7 1046.3 471.9 1055.4 473.5 1061.1 C474.8 1066.0 477.8 1069.0 479.8 1073.7 C482.3 1079.5 485.9 1090.8 488.2 1095.8 C489.7 1099.1 491.4 1101.4 493.5 1104.3 C495.6 1107.3 498.6 1110.4 500.9 1113.8 C503.2 1117.1 505.8 1120.5 507.2 1124.3 C508.6 1128.2 509.3 1132.8 509.3 1137.0 C509.3 1141.2 505.1 1148.7 507.2 1149.6 C509.3 1150.5 517.8 1143.1 522.0 1142.2 C525.8 1141.5 529.0 1144.9 532.5 1144.4 C536.0 1143.8 541.7 1142.4 543.1 1139.1 C544.5 1135.7 540.9 1128.5 540.9 1124.3 C540.9 1120.4 541.3 1115.9 543.1 1113.8 C544.8 1111.7 548.5 1110.8 551.5 1111.7 C555.0 1112.7 562.4 1116.6 564.1 1120.1 C565.9 1123.6 563.1 1129.6 562.0 1132.8 C561.2 1135.3 557.5 1136.4 557.8 1139.1 C558.2 1142.6 560.6 1150.5 564.1 1153.8 C567.7 1157.2 574.3 1158.8 578.9 1159.1 C583.5 1159.5 586.9 1156.5 591.6 1155.9 C597.2 1155.2 606.7 1155.9 612.6 1154.9 C618.2 1153.9 623.5 1151.9 627.4 1149.6 C631.1 1147.4 632.3 1143.6 635.8 1141.2 C639.4 1138.7 644.6 1135.2 648.5 1134.9 C652.4 1134.5 656.2 1137.0 659.0 1139.1 C661.9 1141.2 664.2 1143.9 665.4 1147.5 C666.8 1151.7 668.2 1159.8 667.5 1164.4 C666.8 1168.8 664.3 1173.9 661.2 1174.9 C658.0 1176.0 653.3 1171.3 648.5 1170.7 C642.9 1170.0 633.7 1170.4 627.4 1170.7 C621.3 1171.1 614.1 1171.4 610.5 1172.8 C608.0 1173.8 605.6 1177.0 606.3 1179.1 C607.0 1181.3 611.0 1185.2 614.8 1185.5 C619.7 1185.8 630.6 1180.6 635.8 1181.3 C640.7 1181.9 644.6 1185.8 646.4 1189.7 C648.1 1193.6 646.7 1199.1 646.4 1204.5 C646.0 1210.1 651.1 1222.5 644.3 1223.4 C620.0 1226.6 524.8 1226.6 500.9 1223.4 C494.1 1222.5 501.9 1210.4 500.9 1204.5 C499.8 1198.5 496.7 1192.5 494.6 1187.6 C492.5 1182.9 490.7 1178.4 488.2 1174.9 C485.8 1171.4 482.6 1169.7 479.8 1166.5 C477.0 1163.3 474.2 1159.8 471.4 1155.9 C468.5 1152.1 465.0 1147.2 462.9 1143.3 C461.0 1139.7 460.8 1135.9 458.7 1132.8 C456.6 1129.6 452.4 1124.3 450.3 1124.3 C448.2 1124.3 448.2 1130.8 446.1 1132.8 C443.9 1134.7 440.8 1136.6 437.6 1135.9 C434.5 1135.2 430.2 1130.1 427.1 1128.5 C424.3 1127.1 420.5 1128.9 418.6 1126.4 C416.5 1123.6 416.2 1115.5 414.4 1111.7 C412.8 1108.2 410.6 1106.0 408.1 1103.2 C405.6 1100.4 402.5 1097.6 399.7 1094.8 C396.8 1092.0 393.7 1087.9 391.2 1086.4 C389.3 1085.1 387.2 1085.5 384.9 1085.3 C381.4 1085.0 373.3 1086.9 370.1 1084.2 C367.0 1081.6 367.3 1074.8 365.9 1069.5 C364.5 1064.2 363.1 1057.5 361.7 1052.6 C360.4 1048.0 359.6 1042.8 357.5 1040.0 C355.4 1037.2 351.5 1037.5 349.0 1035.7 C346.6 1034.0 345.3 1031.4 342.7 1029.4 C339.9 1027.3 335.3 1026.2 332.2 1023.1 C328.3 1019.2 323.0 1009.9 319.5 1006.2 C317.1 1003.6 313.9 1002.2 311.1 1001.0 C308.3 999.7 305.6 999.7 302.7 998.8 C299.7 998.0 293.5 999.3 293.2 995.7 C291.6 979.7 281.6 918.4 293.2 902.9 Z" fill="#d1edb3"/>
<path d="M716.0 1170.7 C718.4 1167.2 723.4 1164.0 728.6 1162.3 C735.0 1160.2 744.9 1160.2 753.9 1158.1 C764.5 1155.6 785.6 1136.6 791.9 1147.5 C798.2 1158.4 808.8 1210.8 791.9 1223.4 C775.0 1236.1 705.4 1225.5 690.7 1223.4 C684.3 1222.5 699.8 1215.3 703.3 1210.8 C706.8 1206.2 710.0 1200.6 711.8 1196.0 C713.4 1191.7 713.2 1187.6 713.9 1183.4 C714.6 1179.1 713.5 1174.2 716.0 1170.7 Z" fill="#d1edb3"/>
<path d="M293.2 1004.1 C295.4 999.9 302.8 1004.5 306.9 1006.2 C310.9 1008.0 316.7 1011.5 317.4 1014.7 C318.1 1017.8 313.9 1022.4 311.1 1025.2 C308.3 1028.0 303.5 1030.5 300.5 1031.5 C298.0 1032.4 293.9 1034.1 293.2 1031.5 C291.9 1027.0 290.9 1008.3 293.2 1004.1 Z" fill="#d1edb3"/>
<path d="M350.1 1101.1 C350.5 1097.6 356.3 1094.8 359.6 1092.7 C362.9 1090.6 366.1 1088.8 370.1 1088.5 C374.4 1088.1 381.0 1089.5 384.9 1090.6 C388.2 1091.5 392.6 1092.3 393.3 1094.8 C394.0 1097.3 391.2 1102.2 389.1 1105.3 C387.0 1108.5 383.8 1112.0 380.7 1113.8 C377.5 1115.5 374.0 1115.9 370.1 1115.9 C366.3 1115.9 360.8 1116.2 357.5 1113.8 C354.1 1111.3 349.7 1104.6 350.1 1101.1 Z" fill="#d1edb3"/>
<path d="M313.2 1115.9 C314.5 1111.2 317.8 1108.0 321.6 1105.3 C325.5 1102.7 334.6 1099.0 336.4 1100.1 C338.2 1101.1 333.9 1108.0 332.2 1111.7 C330.4 1115.4 327.6 1118.1 325.8 1122.2 C324.1 1126.4 323.7 1134.9 321.6 1137.0 C319.5 1139.1 314.4 1137.8 313.2 1134.9 C311.8 1131.3 311.8 1120.8 313.2 1115.9 Z" fill="#d1edb3"/>
<path d="M342.7 1177.0 C343.4 1172.8 349.4 1162.1 353.3 1158.1 C356.7 1154.5 361.7 1153.1 365.9 1152.8 C370.1 1152.4 377.2 1153.3 378.6 1155.9 C380.0 1158.6 377.2 1164.7 374.4 1168.6 C371.5 1172.5 365.9 1176.7 361.7 1179.1 C357.6 1181.6 352.2 1183.7 349.0 1183.4 C345.9 1183.0 342.2 1180.2 342.7 1177.0 Z" fill="#d1edb3"/>
<path d="M389.1 1223.4 C387.0 1219.6 399.3 1206.2 403.9 1200.2 C407.8 1195.1 412.3 1191.8 416.5 1187.6 C420.7 1183.4 425.0 1178.4 429.2 1174.9 C433.4 1171.4 438.7 1166.8 441.8 1166.5 C445.0 1166.1 446.8 1170.0 448.2 1172.8 C449.6 1175.6 451.9 1179.8 450.3 1183.4 C448.5 1187.2 441.5 1192.2 437.6 1196.0 C433.8 1199.8 430.3 1202.3 427.1 1206.6 C423.6 1211.1 422.9 1220.6 416.5 1223.4 C410.2 1226.2 391.2 1227.3 389.1 1223.4 Z" fill="#d1edb3"/>
<path d="M610.5 1174.9 C613.7 1173.2 621.8 1171.2 627.4 1170.7 C633.0 1170.2 641.1 1170.4 644.3 1171.8 C646.8 1172.9 647.8 1177.6 646.4 1179.1 C645.0 1180.7 639.6 1180.4 635.8 1181.3 C631.3 1182.3 623.5 1185.5 619.0 1185.5 C614.9 1185.5 609.8 1183.0 608.4 1181.3 C607.0 1179.5 608.4 1176.1 610.5 1174.9 Z" fill="#fcfed3"/>
<path d="M446.1 902.9 C456.6 900.4 500.5 900.4 511.4 902.9 C516.6 904.1 512.5 912.7 511.4 917.7 C510.4 922.6 505.5 927.5 505.1 932.4 C504.7 937.3 507.9 941.9 509.3 947.2 C510.7 952.4 514.2 959.8 513.5 964.0 C512.8 968.3 508.6 970.7 505.1 972.5 C501.6 974.2 496.7 974.2 492.4 974.6 C488.2 974.9 484.3 974.4 479.8 974.6 C474.9 974.8 466.4 978.5 462.9 975.6 C459.4 972.8 460.4 964.1 458.7 957.7 C456.9 951.2 454.1 943.3 452.4 936.6 C450.6 930.0 449.2 923.3 448.2 917.7 C447.2 912.4 440.8 904.1 446.1 902.9 Z" fill="#ffffff"/>
<path d="M469.2 945.1 C470.0 942.4 474.9 940.5 477.7 940.8 C480.5 941.2 485.1 944.7 486.1 947.2 C487.2 949.6 486.1 954.0 484.0 955.6 C481.9 957.2 475.9 958.4 473.5 956.7 C471.0 954.9 468.5 947.7 469.2 945.1 Z" fill="#fcfed3"/>
<path d="M476.6 988.3 C478.2 985.8 484.2 985.0 488.2 985.1 C492.3 985.3 497.4 986.9 500.9 989.4 C504.4 991.8 507.9 995.7 509.3 999.9 C510.7 1004.1 509.3 1009.3 509.3 1014.7 C509.3 1021.3 509.7 1032.2 509.3 1040.0 C509.0 1047.6 508.3 1055.4 507.2 1061.1 C506.3 1065.8 505.5 1073.0 503.0 1073.7 C500.5 1074.4 495.6 1068.8 492.4 1065.3 C489.3 1061.8 486.1 1056.1 484.0 1052.6 C482.3 1049.7 479.6 1047.0 479.8 1044.2 C480.0 1041.4 484.4 1039.3 485.1 1035.7 C485.8 1032.2 484.8 1027.6 484.0 1023.1 C483.0 1017.1 480.0 1005.7 478.7 999.9 C477.9 995.7 475.0 990.8 476.6 988.3 Z" fill="#ffffff"/>
<path d="M511.4 997.8 C511.8 994.6 518.1 989.4 522.0 989.4 C525.8 989.4 533.6 995.0 534.6 997.8 C535.7 1000.6 530.8 1004.5 528.3 1006.2 C525.8 1008.0 522.7 1009.7 519.9 1008.3 C517.0 1006.9 511.1 1001.0 511.4 997.8 Z" fill="#ffffff"/>
<path d="M515.6 1054.7 C516.0 1051.2 520.9 1048.4 524.1 1049.5 C527.2 1050.5 533.6 1057.9 534.6 1061.1 C535.6 1064.0 532.5 1066.5 530.4 1068.4 C528.3 1070.4 524.4 1074.9 522.0 1072.7 C519.5 1070.4 515.3 1058.6 515.6 1054.7 Z" fill="#ffffff"/>
<path d="M525.1 1090.6 C524.8 1089.2 531.0 1087.2 534.6 1087.4 C538.5 1087.6 548.0 1090.2 548.3 1091.6 C548.7 1093.0 540.6 1096.0 536.7 1095.8 C532.9 1095.7 525.5 1092.0 525.1 1090.6 Z" fill="#ffffff"/>
<path d="M651.7 1056.8 C652.0 1054.4 657.3 1052.0 661.2 1050.5 C665.2 1048.9 672.4 1045.6 675.9 1047.3 C679.4 1049.1 680.1 1056.7 682.2 1061.1 C684.3 1065.4 687.9 1070.2 688.6 1073.7 C689.2 1076.8 689.1 1080.4 686.5 1082.1 C683.3 1084.2 673.8 1087.4 669.6 1086.4 C665.4 1085.3 662.9 1079.3 661.2 1075.8 C659.4 1072.4 660.6 1068.4 659.0 1065.3 C657.5 1062.1 651.3 1059.3 651.7 1056.8 Z" fill="#ffffff"/>
<path d="M721.3 1035.7 C721.3 1032.8 725.3 1029.4 728.6 1027.3 C732.0 1025.2 738.3 1022.4 741.3 1023.1 C744.3 1023.8 746.6 1028.0 746.6 1031.5 C746.6 1035.0 744.3 1041.9 741.3 1044.2 C738.3 1046.5 732.0 1046.6 728.6 1045.2 C725.3 1043.8 721.3 1038.7 721.3 1035.7 Z" fill="#ffffff"/>
<path d="M729.7 989.4 C729.0 987.1 732.8 982.5 735.0 978.8 C737.2 974.9 740.8 969.0 743.4 966.2 C745.5 963.9 749.0 961.2 750.8 961.9 C752.5 962.6 754.4 967.2 753.9 970.4 C753.4 973.9 750.1 979.3 747.6 983.0 C745.2 986.7 742.2 991.5 739.2 992.5 C736.2 993.6 730.4 991.6 729.7 989.4 Z" fill="#ffffff"/>
<path d="M593.7 1056.8 C593.7 1054.9 599.3 1051.9 602.1 1052.6 C604.9 1053.3 610.5 1059.1 610.5 1061.1 C610.5 1063.0 604.9 1064.9 602.1 1064.2 C599.3 1063.5 593.7 1058.8 593.7 1056.8 Z" fill="#ffffff"/>
<path d="M323.7 1080.0 C323.4 1077.6 325.4 1073.8 328.0 1071.6 C330.8 1069.1 336.0 1066.0 340.6 1065.3 C345.2 1064.6 352.0 1065.6 355.4 1067.4 C358.5 1069.0 360.3 1073.4 360.6 1075.8 C361.0 1078.3 359.8 1081.2 357.5 1082.1 C354.5 1083.4 347.3 1082.5 342.7 1083.2 C338.2 1083.9 333.2 1086.9 330.1 1086.4 C326.9 1085.8 324.1 1082.5 323.7 1080.0 Z" fill="#ffffff"/>
<path d="M298.4 1187.6 C299.7 1184.0 304.1 1181.3 306.9 1181.3 C309.7 1181.3 313.2 1184.4 315.3 1187.6 C317.4 1190.7 319.5 1196.4 319.5 1200.2 C319.5 1204.1 318.1 1208.7 315.3 1210.8 C312.5 1212.9 305.5 1213.9 302.7 1212.9 C299.8 1211.8 299.0 1207.8 298.4 1204.5 C297.7 1200.2 297.0 1191.4 298.4 1187.6 Z" fill="#ffffff"/>
<path d="M393.3 1179.1 C393.7 1177.6 399.5 1177.0 401.8 1178.1 C404.1 1179.1 407.4 1183.9 407.0 1185.5 C406.7 1187.1 401.9 1188.6 399.7 1187.6 C397.4 1186.5 393.0 1180.7 393.3 1179.1 Z" fill="#ffffff"/>
<path d="M777.9 902.9 C843.3 874.8 1104.8 901.0 1170.1 902.9 C1174.3 903.0 1168.0 911.3 1170.1 914.5 C1172.2 917.7 1181.0 918.9 1182.8 921.9 C1184.5 924.9 1182.6 929.1 1180.7 932.4 C1178.6 936.1 1170.1 940.8 1170.1 944.0 C1170.1 947.2 1177.5 948.4 1180.7 951.4 C1183.8 954.4 1189.1 959.1 1189.1 961.9 C1189.1 964.7 1183.6 965.8 1180.7 968.3 C1177.5 970.9 1174.9 976.0 1170.1 977.8 C1165.2 979.5 1156.4 977.9 1151.2 978.8 C1146.4 979.6 1143.2 982.3 1138.5 983.0 C1132.9 983.9 1123.0 983.2 1117.4 984.1 C1112.7 984.8 1108.3 988.8 1104.8 988.3 C1101.2 987.8 1099.9 982.8 1096.3 980.9 C1092.6 979.0 1086.8 976.7 1082.6 976.7 C1078.4 976.7 1075.0 978.9 1071.0 980.9 C1067.0 983.0 1063.2 986.8 1058.4 989.4 C1052.7 992.3 1042.9 995.3 1037.3 998.8 C1032.0 1002.1 1028.8 1006.6 1024.6 1010.4 C1020.4 1014.3 1015.5 1019.2 1012.0 1022.0 C1009.2 1024.3 1006.9 1026.1 1003.5 1027.3 C997.2 1029.6 984.0 1033.1 974.0 1035.7 C964.0 1038.4 950.6 1040.7 943.4 1043.1 C938.4 1044.8 935.5 1048.4 930.8 1050.5 C926.0 1052.6 919.0 1055.1 915.0 1055.8 C911.9 1056.3 909.6 1054.5 906.5 1054.7 C902.3 1055.1 895.8 1057.4 889.7 1057.9 C883.0 1058.4 871.9 1058.4 866.5 1057.9 C862.9 1057.5 860.6 1054.7 857.0 1054.7 C852.8 1054.7 846.9 1057.1 841.2 1057.9 C834.7 1058.8 823.9 1059.3 818.0 1060.0 C813.4 1060.5 809.8 1061.2 805.3 1062.1 C800.0 1063.2 790.9 1064.7 786.3 1066.3 C782.9 1067.5 778.1 1075.2 777.9 1071.6 C776.5 1044.4 722.1 926.9 777.9 902.9 Z" fill="#fcfed3"/>
<path d="M788.4 930.3 C790.2 926.1 795.5 919.8 801.1 917.7 C806.7 915.5 815.1 915.2 822.2 917.7 C829.2 920.1 836.2 927.8 843.3 932.4 C850.3 937.0 861.5 941.6 864.4 945.1 C866.5 947.7 862.9 951.7 860.1 953.5 C857.3 955.3 851.9 954.3 847.5 955.6 C842.9 957.0 837.6 960.5 832.7 961.9 C827.8 963.3 823.2 964.7 818.0 964.0 C812.7 963.3 805.7 961.2 801.1 957.7 C796.5 954.2 792.7 947.5 790.5 943.0 C788.6 938.8 786.7 934.5 788.4 930.3 Z" fill="#f3fabd"/>
<path d="M870.7 926.1 C873.5 921.2 880.9 916.9 885.4 913.4 C889.8 910.1 892.7 906.1 898.1 905.0 C905.1 903.6 919.5 902.9 927.6 905.0 C935.6 907.1 943.8 912.7 946.6 917.7 C949.4 922.6 947.7 930.7 944.5 934.5 C941.3 938.4 933.2 938.7 927.6 940.8 C922.0 943.0 915.7 944.7 910.7 947.2 C905.8 949.6 903.3 954.0 898.1 955.6 C892.5 957.4 881.9 959.8 877.0 957.7 C872.1 955.6 869.6 948.2 868.6 943.0 C867.5 937.7 867.9 931.0 870.7 926.1 Z" fill="#f3fabd"/>
<path d="M923.4 985.1 C926.9 982.3 935.0 979.5 940.3 976.7 C945.5 973.9 950.1 968.6 955.0 968.3 C960.0 967.9 965.2 974.6 969.8 974.6 C974.4 974.6 978.2 969.7 982.4 968.3 C986.7 966.9 990.9 964.7 995.1 966.2 C999.3 967.6 1006.3 972.8 1007.8 976.7 C1009.2 980.6 1004.9 984.8 1003.5 989.4 C1002.1 993.9 999.7 999.2 999.3 1004.1 C999.0 1009.0 1000.7 1015.0 1001.4 1018.9 C1002.0 1022.0 1006.2 1025.7 1003.5 1027.3 C999.0 1030.1 984.0 1033.1 974.0 1035.7 C964.0 1038.4 950.6 1040.7 943.4 1043.1 C938.4 1044.8 935.5 1048.4 930.8 1050.5 C926.0 1052.6 916.9 1058.9 915.0 1055.8 C913.0 1052.6 918.8 1039.1 919.2 1031.5 C919.5 1024.0 917.1 1016.8 917.1 1010.4 C917.1 1004.3 918.1 997.8 919.2 993.6 C920.0 990.3 920.7 987.3 923.4 985.1 Z" fill="#f3fabd"/>
<path d="M777.9 1031.5 C781.8 1026.3 793.7 1038.2 801.1 1040.0 C808.5 1041.7 814.6 1042.7 822.2 1042.1 C830.3 1041.4 843.3 1038.9 849.6 1035.7 C854.9 1033.1 856.3 1027.0 860.1 1023.1 C864.0 1019.2 867.9 1014.0 872.8 1012.5 C877.7 1011.1 884.7 1013.6 889.7 1014.7 C894.4 1015.7 898.1 1019.6 902.3 1018.9 C906.5 1018.2 912.2 1014.7 915.0 1010.4 C917.8 1006.2 917.8 997.8 919.2 993.6 C920.3 990.3 923.4 981.7 923.4 985.1 C923.4 991.5 920.6 1019.8 919.2 1031.5 C918.1 1040.3 919.9 1051.4 915.0 1055.8 C910.0 1060.2 897.7 1057.5 889.7 1057.9 C881.6 1058.2 874.5 1057.9 866.5 1057.9 C858.4 1057.9 850.2 1057.3 841.2 1057.9 C831.0 1058.6 815.8 1059.8 805.3 1062.1 C795.1 1064.3 782.5 1076.7 777.9 1071.6 C773.3 1066.5 774.0 1036.8 777.9 1031.5 Z" fill="#f3fabd"/>
<path d="M990.9 934.5 C991.6 931.0 998.6 928.5 1003.5 926.1 C1008.5 923.6 1014.8 921.5 1020.4 919.8 C1026.0 918.0 1031.7 915.2 1037.3 915.5 C1042.9 915.9 1048.0 919.8 1054.1 921.9 C1060.5 924.0 1068.2 926.4 1075.2 928.2 C1082.3 930.0 1092.1 932.8 1096.3 932.4 C1099.1 932.2 1098.0 927.1 1100.5 926.1 C1104.1 924.7 1111.5 922.3 1117.4 924.0 C1123.7 925.7 1132.9 932.8 1138.5 936.6 C1143.4 940.0 1146.6 943.7 1151.2 947.2 C1155.7 950.7 1162.7 954.2 1165.9 957.7 C1168.6 960.8 1171.2 964.9 1170.1 968.3 C1169.1 971.6 1164.6 976.8 1159.6 977.8 C1154.3 978.8 1144.8 976.2 1138.5 974.6 C1132.2 973.0 1126.5 969.7 1121.6 968.3 C1117.2 967.0 1113.2 965.5 1109.0 966.2 C1104.8 966.9 1100.9 971.1 1096.3 972.5 C1091.8 973.9 1085.8 974.9 1081.6 974.6 C1077.5 974.3 1075.1 970.4 1071.0 970.4 C1066.4 970.4 1060.4 973.9 1054.1 974.6 C1047.8 975.3 1038.3 975.6 1033.1 974.6 C1028.7 973.7 1026.0 971.0 1022.5 968.3 C1019.0 965.5 1015.8 961.2 1012.0 957.7 C1008.1 954.2 1002.8 951.0 999.3 947.2 C995.8 943.3 990.2 938.0 990.9 934.5 Z" fill="#f3fabd"/>
<path d="M1128.0 902.9 C1132.9 901.5 1154.0 901.1 1159.6 902.9 C1163.3 904.0 1163.1 910.6 1161.7 913.4 C1160.3 916.2 1155.0 919.1 1151.2 919.8 C1147.3 920.5 1142.0 919.1 1138.5 917.7 C1135.0 916.2 1131.8 913.8 1130.1 911.3 C1128.3 908.9 1124.9 903.8 1128.0 902.9 Z" fill="#f3fabd"/>
<path d="M1081.6 989.4 C1081.3 986.3 1087.0 989.5 1090.0 989.4 C1093.9 989.2 1100.2 989.2 1104.8 988.3 C1109.3 987.4 1112.7 984.8 1117.4 984.1 C1123.0 983.2 1132.9 983.9 1138.5 983.0 C1143.2 982.3 1146.4 979.6 1151.2 978.8 C1156.4 977.9 1165.2 979.5 1170.1 977.8 C1174.9 976.0 1177.2 971.3 1180.7 968.3 C1184.2 965.3 1187.8 963.3 1191.2 959.8 C1194.7 956.3 1199.0 951.0 1201.8 947.2 C1204.4 943.6 1206.1 940.6 1208.1 936.6 C1210.2 932.4 1210.3 926.0 1214.4 921.9 C1218.6 917.7 1225.9 913.4 1233.4 911.3 C1244.6 908.2 1278.5 885.5 1281.9 902.9 C1290.0 943.7 1284.7 1113.8 1281.9 1155.9 C1281.5 1162.0 1269.9 1156.7 1265.0 1155.9 C1260.3 1155.3 1255.9 1154.9 1252.4 1151.7 C1248.9 1148.6 1246.4 1141.5 1243.9 1137.0 C1241.5 1132.5 1239.7 1128.2 1237.6 1124.3 C1235.5 1120.5 1235.2 1115.7 1231.3 1113.8 C1227.4 1111.8 1220.4 1113.7 1214.4 1112.7 C1208.1 1111.7 1199.7 1109.7 1193.3 1107.4 C1187.0 1105.2 1182.1 1102.5 1176.5 1099.0 C1170.8 1095.5 1165.2 1091.3 1159.6 1086.4 C1154.0 1081.4 1148.3 1075.5 1142.7 1069.5 C1137.1 1063.5 1131.5 1057.2 1125.8 1050.5 C1120.2 1043.8 1114.6 1036.1 1109.0 1029.4 C1103.4 1022.7 1096.7 1017.1 1092.1 1010.4 C1087.5 1003.8 1081.9 992.9 1081.6 989.4 Z" fill="#fcfed3"/>
<path d="M1170.1 914.5 C1169.8 912.0 1176.3 908.7 1180.7 907.1 C1185.9 905.2 1194.0 903.2 1201.8 902.9 C1218.6 902.2 1268.5 881.5 1281.9 902.9 C1295.3 924.3 1284.7 1011.5 1281.9 1031.5 C1281.0 1038.3 1271.0 1026.4 1265.0 1023.1 C1258.7 1019.6 1251.0 1012.5 1243.9 1010.4 C1236.9 1008.3 1229.9 1009.4 1222.9 1010.4 C1215.8 1011.5 1206.7 1017.5 1201.8 1016.8 C1197.0 1016.1 1194.0 1010.8 1193.3 1006.2 C1192.6 1001.7 1196.1 994.3 1197.5 989.4 C1198.9 984.7 1201.4 980.2 1201.8 976.7 C1202.1 973.6 1201.7 970.6 1199.7 968.3 C1197.5 965.8 1192.3 964.7 1189.1 961.9 C1185.9 959.1 1183.8 954.4 1180.7 951.4 C1177.5 948.4 1170.1 947.2 1170.1 944.0 C1170.1 940.8 1178.6 936.1 1180.7 932.4 C1182.6 929.1 1184.5 924.9 1182.8 921.9 C1181.0 918.9 1170.5 916.9 1170.1 914.5 Z" fill="#ffffff"/>
<path d="M1247.1 936.6 C1247.8 933.5 1252.9 930.3 1256.6 928.2 C1260.3 926.1 1266.3 923.3 1269.2 924.0 C1272.2 924.7 1273.8 928.9 1274.5 932.4 C1275.2 935.9 1275.4 941.7 1273.5 945.1 C1271.5 948.4 1266.4 952.1 1262.9 952.4 C1259.4 952.8 1255.0 949.8 1252.4 947.2 C1249.7 944.5 1246.4 939.8 1247.1 936.6 Z" fill="#fcfed3"/>
<path d="M777.9 1137.0 C780.0 1128.7 792.7 1132.9 801.1 1131.7 C809.5 1130.5 821.5 1129.4 828.5 1129.6 C833.9 1129.7 839.4 1130.5 843.3 1132.8 C847.1 1135.0 849.6 1140.1 851.7 1143.3 C853.6 1146.1 853.8 1149.3 855.9 1151.7 C858.0 1154.2 861.4 1155.7 864.4 1158.1 C868.2 1161.2 873.5 1166.5 879.1 1170.7 C884.7 1174.9 891.4 1178.8 898.1 1183.4 C904.8 1187.9 912.5 1193.6 919.2 1198.1 C925.9 1202.7 932.9 1206.6 938.2 1210.8 C943.2 1214.8 957.2 1222.9 950.8 1223.4 C924.1 1225.5 806.7 1237.8 777.9 1223.4 C750.1 1209.5 774.0 1152.3 777.9 1137.0 Z" fill="#d1edb3"/>
<path d="M896.0 909.2 C896.0 907.1 900.2 904.6 902.3 905.0 C904.4 905.4 908.6 909.2 908.6 911.3 C908.6 913.4 904.4 918.0 902.3 917.7 C900.2 917.3 896.0 911.3 896.0 909.2 Z" fill="#ffffff"/>
<path d="M971.9 911.3 C972.6 909.4 978.1 905.9 982.4 905.0 C987.7 903.9 999.0 903.9 1003.5 905.0 C1006.7 905.7 1012.0 909.7 1009.9 911.3 C1007.8 912.9 996.2 913.6 990.9 914.5 C986.3 915.2 981.4 917.1 978.2 916.6 C975.3 916.1 971.2 913.3 971.9 911.3 Z" fill="#ffffff"/>
<path d="M955.0 926.1 C956.8 924.2 961.7 921.9 963.5 922.9 C965.2 924.0 963.8 929.4 965.6 932.4 C967.3 935.4 972.4 938.0 974.0 940.8 C975.5 943.5 974.8 946.2 975.1 949.3 C975.4 952.8 977.0 960.2 976.1 961.9 C975.2 963.7 972.1 960.5 969.8 959.8 C967.0 959.0 963.1 957.0 959.2 956.7 C955.4 956.3 950.1 958.2 946.6 957.7 C943.2 957.2 937.8 955.3 938.2 953.5 C938.5 951.7 945.9 948.9 948.7 947.2 C951.0 945.7 954.3 945.1 955.0 943.0 C955.7 940.8 952.9 937.3 952.9 934.5 C952.9 931.7 953.3 928.0 955.0 926.1 Z" fill="#ffffff"/>
<path d="M911.8 960.9 C913.2 959.1 920.4 958.6 923.4 958.8 C925.9 958.9 931.1 960.2 929.7 961.9 C928.3 963.7 918.0 969.5 915.0 969.3 C912.0 969.1 910.4 962.6 911.8 960.9 Z" fill="#ffffff"/>
<path d="M788.4 978.8 C790.9 976.7 799.1 975.6 805.3 974.6 C811.6 973.5 820.1 972.5 826.4 972.5 C832.5 972.5 837.1 974.6 843.3 974.6 C849.6 974.6 857.3 973.0 864.4 972.5 C871.4 972.0 878.4 971.8 885.4 971.4 C892.5 971.1 902.7 970.0 906.5 970.4 C907.9 970.5 910.0 973.2 908.6 973.5 C905.1 974.4 893.2 975.3 885.4 975.6 C877.7 976.0 867.9 974.4 862.2 975.6 C857.7 976.6 856.2 981.8 851.7 983.0 C846.8 984.4 839.4 983.7 832.7 984.1 C826.0 984.4 816.9 983.2 811.6 985.1 C806.6 987.0 804.6 995.3 801.1 995.7 C797.6 996.0 792.7 990.1 790.5 987.2 C788.7 984.7 786.1 980.8 788.4 978.8 Z" fill="#ffffff"/>
<path d="M807.4 1010.4 C809.2 1008.0 817.6 1006.2 822.2 1004.1 C826.7 1002.0 830.3 998.8 834.8 997.8 C839.4 996.7 846.1 996.9 849.6 997.8 C852.5 998.5 857.0 1001.7 855.9 1003.1 C854.9 1004.5 846.4 1004.6 843.3 1006.2 C840.4 1007.7 836.2 1010.1 836.9 1012.5 C837.6 1015.0 847.1 1018.5 847.5 1021.0 C847.8 1023.4 842.5 1025.7 839.0 1027.3 C834.8 1029.2 826.4 1032.6 822.2 1032.6 C818.6 1032.6 815.5 1029.6 813.7 1027.3 C812.0 1025.0 812.7 1021.7 811.6 1018.9 C810.6 1016.1 805.7 1012.9 807.4 1010.4 Z" fill="#ffffff"/>
<path d="M1098.4 910.3 C1098.8 909.0 1104.4 906.8 1106.9 907.1 C1109.3 907.5 1113.5 911.2 1113.2 912.4 C1112.8 913.6 1107.2 914.8 1104.8 914.5 C1102.3 914.1 1098.1 911.5 1098.4 910.3 Z" fill="#ffffff"/>
<path d="M1090.0 990.4 C1090.3 989.7 1094.6 989.0 1096.3 989.4 C1098.1 989.7 1100.9 991.8 1100.5 992.5 C1100.2 993.2 1096.0 993.9 1094.2 993.6 C1092.5 993.2 1089.6 991.1 1090.0 990.4 Z" fill="#ffffff"/>
<polygon points="1268.0,903.0 1780.0,903.0 1780.0,1230.0 1268.0,1230.0" fill="#fcfed3"/>
<path d="M1267.9 1154.9 C1269.0 1149.6 1278.1 1154.4 1282.7 1152.8 C1287.2 1151.2 1290.7 1147.9 1295.3 1145.4 C1300.2 1142.8 1305.8 1139.3 1312.2 1137.0 C1318.5 1134.7 1326.9 1133.8 1333.3 1131.7 C1339.6 1129.6 1344.9 1126.2 1350.1 1124.3 C1355.3 1122.4 1360.0 1120.8 1364.9 1120.1 C1369.8 1119.4 1374.4 1119.4 1379.7 1120.1 C1384.9 1120.8 1390.9 1122.7 1396.5 1124.3 C1402.2 1125.9 1408.5 1129.6 1413.4 1129.6 C1418.3 1129.6 1422.2 1127.0 1426.1 1124.3 C1429.9 1121.7 1433.8 1117.3 1436.6 1113.8 C1439.4 1110.3 1440.8 1105.9 1442.9 1103.2 C1444.8 1100.9 1446.6 1099.3 1449.2 1098.0 C1452.1 1096.6 1458.7 1097.1 1459.8 1094.8 C1460.8 1092.5 1457.3 1087.8 1455.6 1084.2 C1453.8 1080.7 1450.7 1077.2 1449.2 1073.7 C1447.8 1070.2 1447.1 1067.0 1447.1 1063.2 C1447.1 1059.3 1447.8 1054.4 1449.2 1050.5 C1450.7 1046.6 1452.8 1043.1 1455.6 1040.0 C1458.4 1036.8 1461.9 1033.5 1466.1 1031.5 C1470.3 1029.6 1475.5 1028.8 1480.9 1028.4 C1486.9 1027.8 1494.9 1028.4 1502.0 1028.4 C1509.0 1028.4 1517.8 1027.8 1523.1 1028.4 C1527.0 1028.8 1530.8 1029.6 1533.6 1031.5 C1536.4 1033.5 1539.0 1036.4 1539.9 1040.0 C1540.8 1043.5 1538.9 1048.0 1538.9 1052.6 C1538.9 1057.5 1539.0 1064.2 1539.9 1069.5 C1540.8 1074.8 1542.7 1079.3 1544.1 1084.2 C1545.6 1089.2 1547.3 1094.1 1548.4 1099.0 C1549.4 1103.9 1550.5 1109.2 1550.5 1113.8 C1550.5 1118.3 1549.1 1122.6 1548.4 1126.4 C1547.7 1130.2 1545.6 1133.5 1546.3 1137.0 C1547.0 1140.5 1549.8 1144.9 1552.6 1147.5 C1555.4 1150.1 1560.0 1150.5 1563.1 1152.8 C1566.3 1155.1 1568.4 1159.3 1571.6 1161.2 C1574.7 1163.2 1578.2 1164.4 1582.1 1164.4 C1586.0 1164.4 1590.5 1163.0 1594.8 1161.2 C1599.0 1159.5 1602.5 1155.1 1607.4 1153.8 C1612.3 1152.6 1618.7 1154.0 1624.3 1153.8 C1629.9 1153.7 1636.2 1152.1 1641.2 1152.8 C1646.0 1153.5 1649.1 1156.5 1653.8 1158.1 C1658.7 1159.6 1664.6 1160.9 1670.7 1162.3 C1677.0 1163.7 1684.7 1165.1 1691.8 1166.5 C1698.8 1167.9 1706.5 1168.6 1712.9 1170.7 C1719.2 1172.8 1724.8 1176.3 1729.7 1179.1 C1734.5 1181.9 1738.2 1184.1 1742.4 1187.6 C1746.6 1191.1 1751.2 1196.4 1755.0 1200.2 C1758.8 1204.0 1762.8 1208.3 1765.6 1210.8 C1767.6 1212.6 1770.8 1212.9 1771.9 1215.0 C1773.0 1217.1 1774.9 1223.4 1771.9 1223.4 C1687.9 1224.8 1351.9 1234.9 1267.9 1223.4 C1243.4 1220.1 1265.4 1166.7 1267.9 1154.9 Z" fill="#f3fabd"/>
<path d="M1291.1 1222.4 C1286.1 1221.1 1297.1 1214.8 1301.6 1212.9 C1306.2 1211.0 1313.2 1210.4 1318.5 1210.8 C1323.8 1211.1 1329.7 1213.1 1333.3 1215.0 C1336.3 1216.7 1343.0 1221.8 1339.6 1222.4 C1332.6 1223.6 1297.4 1224.0 1291.1 1222.4 Z" fill="#fcfed3"/>
<path d="M1267.9 902.9 C1323.1 882.5 1545.9 900.4 1599.0 902.9 C1606.0 903.2 1590.9 912.7 1586.3 917.7 C1581.8 922.6 1576.8 928.9 1571.6 932.4 C1566.3 935.9 1560.0 937.7 1554.7 938.7 C1549.5 939.8 1545.1 937.7 1539.9 938.7 C1534.7 939.8 1529.1 942.7 1523.1 945.1 C1516.7 947.5 1509.0 951.0 1502.0 953.5 C1494.9 956.0 1487.9 957.4 1480.9 959.8 C1473.9 962.3 1466.1 965.1 1459.8 968.3 C1453.5 971.4 1447.8 975.3 1442.9 978.8 C1438.1 982.3 1434.5 986.2 1430.3 989.4 C1426.1 992.5 1422.6 995.6 1417.6 997.8 C1412.0 1000.2 1402.9 1002.0 1396.5 1004.1 C1390.4 1006.2 1384.6 1009.2 1379.7 1010.4 C1375.2 1011.5 1371.2 1012.4 1367.0 1011.5 C1362.8 1010.6 1358.9 1006.4 1354.4 1005.2 C1349.8 1003.9 1344.5 1003.9 1339.6 1004.1 C1334.7 1004.3 1328.3 1004.5 1324.8 1006.2 C1321.4 1007.9 1321.0 1011.8 1318.5 1014.7 C1315.7 1017.8 1311.8 1022.4 1308.0 1025.2 C1304.1 1028.0 1299.5 1030.3 1295.3 1031.5 C1291.1 1032.8 1287.1 1033.6 1282.7 1032.6 C1278.1 1031.5 1268.6 1031.1 1267.9 1025.2 C1265.4 1003.6 1226.6 918.1 1267.9 902.9 Z" fill="#ffffff"/>
<path d="M1267.9 928.2 C1268.5 926.1 1271.9 929.6 1273.2 931.4 C1274.4 933.1 1275.4 936.1 1275.3 938.7 C1275.1 941.4 1273.3 945.4 1272.1 947.2 C1271.1 948.6 1268.3 950.9 1267.9 949.3 C1267.2 946.1 1267.0 931.2 1267.9 928.2 Z" fill="#fcfed3"/>
<path d="M1321.7 912.4 C1321.0 911.2 1324.5 905.0 1325.9 905.0 C1327.3 905.0 1330.8 911.2 1330.1 912.4 C1329.4 913.6 1322.4 913.6 1321.7 912.4 Z" fill="#fcfed3"/>
<path d="M1771.9 941.9 C1771.3 935.6 1761.0 945.0 1755.0 947.2 C1748.7 949.5 1740.3 953.2 1733.9 955.6 C1727.9 958.0 1722.0 958.8 1717.1 961.9 C1712.1 965.1 1707.9 970.0 1704.4 974.6 C1700.9 979.2 1698.4 985.1 1696.0 989.4 C1693.8 993.2 1692.1 996.2 1689.7 999.9 C1686.8 1004.1 1683.0 1009.7 1679.1 1014.7 C1675.2 1019.6 1670.0 1024.5 1666.5 1029.4 C1662.9 1034.3 1660.1 1038.9 1658.0 1044.2 C1655.9 1049.5 1654.9 1055.4 1653.8 1061.1 C1652.7 1066.7 1651.7 1073.0 1651.7 1077.9 C1651.7 1082.5 1652.0 1086.4 1653.8 1090.6 C1655.6 1094.8 1658.7 1099.4 1662.2 1103.2 C1665.8 1107.1 1670.0 1111.0 1674.9 1113.8 C1679.8 1116.6 1685.5 1118.4 1691.8 1120.1 C1698.1 1121.9 1706.5 1123.1 1712.9 1124.3 C1718.9 1125.5 1724.4 1127.5 1729.7 1127.5 C1735.0 1127.5 1740.3 1125.7 1744.5 1124.3 C1748.5 1123.0 1751.9 1119.0 1755.0 1119.0 C1758.2 1119.0 1760.7 1122.7 1763.5 1124.3 C1766.3 1125.9 1771.7 1131.9 1771.9 1128.5 C1773.3 1098.1 1774.7 972.1 1771.9 941.9 Z" fill="#ffffff"/>
<path d="M561.6 525.7 C561.9 522.4 567.0 516.1 570.1 512.2 C573.1 508.2 576.2 504.0 580.2 502.1 C584.1 500.1 590.7 499.2 593.7 500.4 C596.6 501.5 598.2 505.4 597.9 508.8 C597.6 512.2 594.9 517.2 592.0 520.6 C589.0 524.0 584.1 527.2 580.2 529.0 C576.2 530.9 571.5 532.1 568.4 531.6 C565.3 531.0 561.3 528.9 561.6 525.7 Z" fill="#fcfed3"/>
<path d="M536.3 476.7 C536.7 474.5 537.2 471.0 539.7 470.0 C542.5 468.9 550.5 467.8 553.2 470.0 C555.9 472.2 555.7 480.0 555.7 483.5 C555.7 486.4 555.3 490.1 553.2 491.1 C551.1 492.1 545.7 490.7 543.1 489.4 C540.4 488.1 538.3 485.6 537.2 483.5 C536.0 481.4 535.9 479.0 536.3 476.7 Z" fill="#fcfed3"/>
<path d="M511.0 571.2 C512.8 568.7 518.9 571.5 522.8 572.9 C526.7 574.3 531.2 577.4 534.6 579.7 C537.9 581.8 542.5 584.2 543.1 586.4 C543.6 588.7 539.9 590.8 538.0 593.2 C535.7 596.0 532.1 600.5 529.6 603.3 C527.3 605.8 525.3 609.7 522.8 610.0 C520.3 610.3 516.0 608.1 514.4 605.0 C512.6 601.3 512.4 593.7 511.8 588.1 C511.3 582.5 509.2 573.8 511.0 571.2 Z" fill="#fcfed3"/>
<path d="M543.1 586.4 C544.5 584.4 552.3 585.0 554.9 586.4 C557.4 587.8 558.5 591.7 558.2 594.8 C558.0 597.9 555.1 604.4 553.2 605.0 C551.2 605.5 548.1 601.2 546.4 598.2 C544.7 595.1 541.7 588.4 543.1 586.4 Z" fill="#fcfed3"/>
<path d="M566.7 571.2 C566.7 567.6 570.1 562.8 573.4 559.4 C576.8 556.0 581.6 553.2 586.9 551.0 C592.3 548.7 602.1 544.8 605.5 545.9 C608.9 547.0 607.2 553.5 607.2 557.7 C607.2 561.9 606.6 566.7 605.5 571.2 C604.4 575.7 602.4 581.2 600.4 584.7 C598.6 587.9 596.5 591.7 593.7 592.3 C590.9 592.9 586.9 589.9 583.5 588.1 C580.2 586.3 576.2 584.2 573.4 581.3 C570.6 578.5 566.7 574.9 566.7 571.2 Z" fill="#fcfed3"/>
<path d="M737.8 293.8 C746.1 291.7 780.6 291.9 788.5 293.8 C792.7 294.8 786.3 301.2 784.7 305.2 C783.0 309.2 780.2 314.1 778.3 317.9 C776.5 321.5 775.4 325.3 773.3 328.0 C771.1 330.8 768.2 333.3 765.7 334.3 C763.1 335.4 760.5 335.6 758.1 334.3 C755.1 332.9 750.7 328.4 747.9 325.5 C745.2 322.6 743.2 319.8 741.6 316.6 C740.0 313.4 739.0 310.2 738.4 306.5 C737.8 302.7 733.4 294.9 737.8 293.8 Z" fill="#ffffff"/>
<path d="M753.9 881.8 C774.8 872.9 856.3 879.9 879.4 881.8 C885.5 882.3 890.3 889.2 892.0 893.2 C893.7 897.2 892.7 902.9 889.5 905.9 C886.3 908.8 876.2 907.1 873.0 910.9 C869.9 914.7 871.9 922.4 870.5 928.7 C869.0 935.4 865.8 948.7 864.2 951.5 C862.8 953.8 862.9 944.4 860.4 945.2 C856.6 946.2 846.6 954.9 841.4 957.8 C837.1 960.2 833.5 962.1 828.7 962.9 C823.4 963.7 815.0 964.4 809.7 962.9 C804.4 961.4 800.4 957.0 797.0 954.0 C793.8 951.3 790.8 949.1 789.4 945.2 C787.9 940.9 789.0 933.1 788.1 928.7 C787.4 924.9 786.5 920.2 784.3 918.6 C782.2 916.9 777.6 916.9 775.5 918.6 C773.4 920.2 772.1 924.8 771.7 928.7 C771.0 934.2 773.8 948.3 771.7 951.5 C769.6 954.7 762.0 950.4 759.0 947.7 C756.0 944.9 754.3 939.9 753.9 935.0 C753.1 924.0 736.3 889.3 753.9 881.8 Z" fill="#f3fabd"/>
<path d="M895.8 838.7 C908.7 836.4 959.3 833.2 971.9 838.7 C982.7 843.5 973.5 863.0 971.2 871.7 C969.1 879.7 960.6 883.3 957.9 890.7 C955.3 898.1 957.5 908.0 955.4 916.0 C953.3 924.0 949.5 933.5 945.2 938.8 C941.3 943.8 934.7 945.6 930.0 947.7 C925.7 949.7 921.6 949.6 917.4 951.5 C913.1 953.4 908.9 957.8 904.7 959.1 C900.5 960.4 896.3 959.1 892.0 959.1 C887.8 959.1 883.6 959.9 879.4 959.1 C875.1 958.2 868.2 958.7 866.7 954.0 C865.2 949.4 866.5 935.4 870.5 931.2 C874.5 927.0 887.2 931.2 890.8 928.7 C894.4 926.2 892.2 919.8 892.0 916.0 C891.8 912.3 889.3 909.6 889.5 905.9 C889.7 902.1 892.9 897.9 893.3 893.2 C893.7 888.6 891.9 883.5 892.0 878.0 C892.2 871.3 893.9 859.2 894.6 852.7 C895.1 847.7 890.9 839.6 895.8 838.7 Z" fill="#f3fabd"/>
<path d="M877.5 838.7 C879.5 835.4 888.4 836.4 890.8 838.7 C893.1 841.1 891.2 847.6 891.4 852.7 C891.6 859.2 891.7 871.3 892.0 878.0 C892.3 883.5 893.7 888.6 893.3 893.2 C892.9 897.9 889.7 902.1 889.5 905.9 C889.3 909.6 891.8 912.3 892.0 916.0 C892.2 919.8 893.9 926.3 890.8 928.7 C887.6 931.1 876.4 931.6 873.0 930.6 C870.1 929.7 869.4 925.2 870.5 922.4 C871.6 919.5 876.6 916.7 879.4 913.5 C882.1 910.3 885.5 907.1 887.0 903.3 C888.4 899.5 889.1 894.9 888.2 890.7 C887.4 886.5 883.4 882.9 881.9 878.0 C880.3 872.7 879.5 865.6 878.7 859.0 C878.0 852.5 875.5 842.1 877.5 838.7 Z" fill="#fcfed3"/>
<path d="M777.4 932.5 C777.4 930.8 778.8 927.4 779.5 927.4 C780.3 927.4 781.8 930.8 781.8 932.5 C781.8 934.2 780.3 937.6 779.5 937.6 C778.8 937.6 777.4 934.2 777.4 932.5 Z" fill="#ffffff"/>
<path d="M896.0 909.2 C896.0 907.1 900.2 904.6 902.3 905.0 C904.4 905.4 908.6 909.2 908.6 911.3 C908.6 913.4 904.4 918.0 902.3 917.7 C900.2 917.3 896.0 911.3 896.0 909.2 Z" fill="#ffffff"/>
<path d="M955.0 926.1 C956.8 924.2 961.7 921.9 963.5 922.9 C965.2 924.0 963.8 929.4 965.6 932.4 C967.3 935.4 972.4 938.0 974.0 940.8 C975.5 943.5 974.8 946.2 975.1 949.3 C975.4 952.8 977.0 960.2 976.1 961.9 C975.2 963.7 972.1 960.5 969.8 959.8 C967.0 959.0 963.1 957.0 959.2 956.7 C955.4 956.3 950.1 958.2 946.6 957.7 C943.2 957.2 937.8 955.3 938.2 953.5 C938.5 951.7 945.9 948.9 948.7 947.2 C951.0 945.7 954.3 945.1 955.0 943.0 C955.7 940.8 952.9 937.3 952.9 934.5 C952.9 931.7 953.3 928.0 955.0 926.1 Z" fill="#ffffff"/>
<path d="M911.8 960.9 C913.2 959.1 920.4 958.6 923.4 958.8 C925.9 958.9 931.1 960.2 929.7 961.9 C928.3 963.7 918.0 969.5 915.0 969.3 C912.0 969.1 910.4 962.6 911.8 960.9 Z" fill="#ffffff"/>
<path d="M760.3 1010.4 C762.1 1005.0 769.3 1004.8 775.0 1004.1 C781.0 1003.4 793.3 999.1 796.1 1006.2 C799.6 1015.0 799.6 1048.4 796.1 1056.8 C793.2 1063.8 780.7 1059.3 775.0 1056.8 C769.4 1054.4 764.5 1048.7 762.4 1042.1 C759.9 1034.3 758.2 1016.8 760.3 1010.4 Z" fill="#fcfed3"/>
<path d="M787.4 879.7 C787.4 876.9 788.6 872.3 790.5 869.1 C792.5 866.0 796.9 860.7 799.0 860.7 C801.0 860.7 802.6 866.3 802.8 869.1 C803.0 872.0 801.9 875.0 800.0 877.6 C798.0 880.3 792.7 885.2 790.5 885.6 C788.4 885.9 787.4 882.1 787.4 879.7 Z" fill="#d1edb3"/>
<g stroke="#000" stroke-width="2.1" fill="none" stroke-linejoin="round" stroke-linecap="round">
<polyline points="421.8,682.5 435.5,677.2 435.5,670.9 450.3,664.6 457.7,651.9 458.7,646.7 469.2,646.7 471.4,640.3 475.6,630.8 473.5,627.7 466.1,622.4 461.9,612.9 465.0,603.4 464.0,595.0"/>
<polyline points="364.9,580.2 365.9,588.7 367.0,595.0 367.0,595.0 367.6,600.3"/>
<path d="M293.2 497.6 C294.2 497.9 297.6 499.3 299.5 499.7 C301.4 500.0 303.1 498.8 304.8 499.7 C306.7 500.6 309.0 503.3 311.1 505.4 C313.2 507.5 315.7 511.0 317.4 512.3 C318.7 513.3 320.4 512.3 321.6 513.2 C323.4 514.4 326.0 518.2 328.0 519.5 C329.6 520.6 332.0 519.9 333.2 521.2 C334.5 522.5 333.9 525.6 335.3 527.5 C337.3 530.0 342.2 533.7 344.8 535.9 C347.1 537.9 349.4 539.5 351.2 541.2 C352.9 542.9 354.0 545.3 355.4 546.5 C356.7 547.6 358.8 547.1 359.6 548.6 C360.6 550.4 360.9 554.0 361.3 557.0 C361.7 560.2 361.7 563.9 362.1 567.6 C362.5 571.3 362.8 576.7 363.8 579.2 C364.5 580.9 366.6 581.5 368.0 582.3 C369.4 583.2 371.2 583.1 372.2 584.5 C373.3 585.9 373.8 589.0 374.4 590.8 C374.8 592.3 374.3 593.9 375.4 595.0 C376.8 596.4 380.5 598.2 382.8 599.2 C385.0 600.2 387.5 599.9 389.1 601.3 C390.7 602.7 391.8 605.2 392.3 607.7 C392.8 610.1 391.3 613.2 392.3 616.1 C393.3 619.1 396.5 622.9 398.6 625.6 C400.6 628.1 402.8 629.8 404.9 631.9 C407.0 634.0 410.0 636.1 411.3 638.2 C412.4 640.2 411.8 643.0 412.3 644.6 C412.7 645.9 414.4 646.4 414.4 647.7 C414.5 650.0 412.6 655.3 412.9 658.3 C413.3 661.2 415.2 663.4 416.5 665.6 C417.8 667.9 420.0 669.3 420.7 672.0 C421.6 675.0 421.3 679.9 421.8 683.6 C422.3 687.3 423.2 690.3 423.9 694.1 C424.6 698.0 425.3 702.5 426.0 706.8 C426.7 711.0 427.8 714.9 428.1 719.4 C428.5 724.0 428.3 730.3 428.1 734.2 C428.0 737.2 428.3 740.2 427.1 742.6 C425.8 745.1 422.5 746.8 420.7 748.9 C419.0 751.0 417.6 752.8 416.5 755.3 C415.5 757.7 415.7 761.6 414.4 763.7 C413.2 765.8 409.5 766.5 409.1 767.9 C408.8 769.3 412.1 770.4 412.3 772.1 C412.5 773.9 409.9 776.5 410.2 778.5 C410.6 780.4 413.9 782.3 414.4 783.7 C414.8 784.9 413.0 785.8 413.4 786.9 C414.1 788.8 417.4 792.5 418.6 795.3 C419.9 798.1 420.0 801.0 420.7 803.8 C421.4 806.6 422.3 809.4 422.9 812.2 C423.4 815.0 424.0 817.8 423.9 820.6 C423.8 823.5 423.1 828.0 422.4 829.1 C421.7 830.1 420.5 827.9 419.7 827.0 C418.7 825.9 417.6 824.3 416.5 822.8 C415.3 821.0 413.2 818.5 412.3 816.4 C411.5 814.4 411.9 810.7 411.3 810.5 C410.6 810.3 409.0 813.5 408.5 815.4 C408.0 817.2 407.5 819.9 408.1 821.7 C408.7 823.5 412.3 824.5 412.3 825.9 C412.3 827.3 409.3 828.7 408.1 830.1 C406.9 831.5 406.2 834.0 404.9 834.4 C403.7 834.7 401.7 833.7 400.7 832.2 C399.7 830.7 398.4 825.9 398.6 824.9 C398.8 823.8 400.7 825.3 401.8 825.9 C403.3 826.8 405.6 829.3 408.1 830.1 C410.6 831.0 413.7 830.1 416.5 831.2 C419.3 832.2 422.5 834.9 425.0 836.5 C427.3 837.9 429.9 838.7 431.3 840.7 C432.7 842.6 432.9 845.4 433.4 848.1 C433.9 850.7 433.8 854.0 434.5 856.5 C435.2 858.9 436.6 860.7 437.6 862.8 C438.7 864.9 440.1 866.7 440.8 869.1 C441.5 871.6 441.8 875.5 441.8 877.6 C441.8 879.1 441.5 881.4 440.8 881.8 C440.1 882.2 438.5 880.7 437.6 879.7 C436.5 878.3 434.5 875.3 433.8 873.4 C433.2 871.6 433.1 868.1 433.4 868.1 C433.7 868.1 434.6 871.6 435.5 873.4 C437.1 876.4 441.1 882.5 442.9 886.0 C444.3 888.9 445.2 892.2 446.1 894.5 C446.8 896.4 448.0 898.0 448.2 899.7 C448.3 901.5 446.8 903.1 447.1 905.0 C447.5 906.9 449.7 910.3 450.3 911.3"/>
<path d="M392.3 803.8 C393.2 802.0 396.0 800.1 397.5 799.6 C399.0 799.1 401.4 799.6 401.8 800.6 C402.1 801.7 399.9 803.9 399.7 805.9 C399.3 808.5 399.9 813.5 399.7 816.4 C399.4 818.9 399.3 822.8 398.0 823.2 C396.6 823.5 392.6 820.7 391.6 818.5 C390.7 816.4 392.2 812.6 392.3 810.1 C392.4 807.8 391.4 805.5 392.3 803.8 Z"/>
<path d="M301.6 602.4 C302.8 602.0 308.1 602.9 310.0 604.5 C312.0 606.1 312.8 609.6 313.2 611.9 C313.5 614.2 311.1 616.4 312.1 618.2 C313.2 620.0 319.0 621.0 319.5 622.4 C320.1 623.8 315.0 625.1 315.3 626.6 C315.7 628.2 320.2 631.9 321.6 631.9 C323.0 631.9 322.5 627.2 323.7 626.6 C325.0 626.1 327.5 627.4 329.0 628.7 C330.6 630.1 331.8 634.2 333.2 635.1 C334.6 635.9 336.1 633.2 337.4 634.0 C338.9 634.9 341.2 638.2 341.7 640.3 C342.1 642.4 339.6 645.1 340.2 646.7 C340.8 648.2 344.5 648.2 345.3 649.8 C346.0 651.5 345.2 655.5 344.4 656.6 C343.6 657.6 341.7 657.0 340.6 656.2 C339.3 655.2 338.0 651.9 336.4 650.9 C334.8 649.9 332.2 651.1 331.1 650.3 C330.1 649.4 331.3 646.6 330.1 645.6 C328.8 644.7 325.8 644.6 323.7 644.6 C321.6 644.6 319.5 646.3 317.4 645.6 C315.3 644.9 313.0 642.1 311.1 640.3 C309.2 638.6 307.6 637.0 305.8 635.1 C304.1 633.1 301.8 630.8 300.5 628.7 C299.3 626.7 298.2 624.5 298.0 622.4 C297.8 620.3 298.4 617.3 299.5 616.1 C300.6 614.9 303.4 616.1 304.8 615.0 C306.2 614.0 308.3 611.2 307.9 609.8 C307.6 608.4 303.7 607.8 302.7 606.6 C301.6 605.4 300.4 602.7 301.6 602.4 Z"/>
<path d="M300.5 619.3 C301.6 620.1 305.1 622.6 306.9 624.5 C308.6 626.5 309.3 629.3 311.1 630.8 C312.8 632.4 315.5 632.8 317.4 634.0 C319.3 635.2 320.8 637.3 322.7 638.2 C324.6 639.2 328.0 639.5 329.0 639.7"/>
<path d="M299.5 625.6 C300.4 626.3 303.0 628.1 304.8 629.8 C306.5 631.6 308.1 634.5 310.0 636.1 C312.0 637.8 314.4 638.8 316.4 639.7 C318.2 640.6 320.8 641.5 321.6 641.8"/>
<polyline points="462.9,602.4 466.1,590.8 468.2,580.2 475.6,576.0 479.8,569.7 471.4,564.4 469.2,561.3 479.8,550.7 490.3,542.3 500.9,538.1 513.5,540.2 524.1,546.5 532.5,554.9 539.9,560.2 553.6,559.6 559.9,560.2 561.0,565.5 566.3,565.5 572.6,558.1 578.9,559.1 585.2,560.2 591.6,553.9 602.1,553.9 616.9,551.8 627.4,551.1 644.3,552.8 656.9,549.0 720.2,549.0 728.6,551.1 749.7,562.3 753.9,564.4 790.0,567.6 868.6,575.6 910.7,570.1 920.2,570.7 944.5,601.3 950.8,609.8 969.8,611.4 976.1,609.8 1005.6,595.0 1008.8,591.8 1013.0,586.6 1027.8,546.5 1101.6,458.3 1211.3,404.1 1223.9,399.9 1280.0,392.5 1334.3,386.2 1417.6,373.6 1523.1,359.2 1584.2,351.4"/>
<polyline points="1584.2,351.4 1636.9,333.9 1759.2,293.4 1767.7,291.3"/>
<polyline points="1584.2,351.4 1614.2,415.7 1679.1,566.5 1686.5,568.0 1703.4,601.3 1724.4,648.8"/>
<path d="M293.2 995.7 C294.7 996.2 299.7 998.0 302.7 998.8 C305.6 999.7 308.5 1000.1 311.1 1001.0 C313.7 1001.8 316.9 1002.2 318.5 1004.1 C320.1 1006.0 318.7 1010.0 320.6 1012.5 C322.9 1015.7 329.7 1020.5 332.2 1023.1 C333.7 1024.7 333.2 1027.8 335.3 1028.4 C337.4 1028.9 342.2 1025.2 344.8 1026.3 C347.5 1027.3 349.0 1032.8 351.2 1034.7 C353.0 1036.4 356.0 1035.8 357.5 1037.9 C359.1 1040.1 359.4 1045.2 360.6 1048.4 C361.9 1051.6 363.8 1053.6 364.9 1056.8 C366.1 1060.7 367.1 1067.4 368.0 1071.6 C368.8 1075.4 368.4 1079.9 370.1 1082.1 C371.9 1084.4 375.9 1085.0 378.6 1085.3 C381.2 1085.7 384.2 1085.1 386.0 1084.2 C387.6 1083.4 388.1 1079.5 389.1 1080.0 C390.2 1080.6 390.6 1085.1 392.3 1087.4 C394.0 1089.9 397.5 1092.5 399.7 1094.8 C401.7 1097.0 402.8 1099.5 404.9 1101.1 C407.0 1102.7 410.4 1102.2 412.3 1104.3 C414.2 1106.4 415.4 1110.2 416.5 1113.8 C417.8 1117.6 417.9 1125.2 419.7 1127.5 C421.3 1129.6 424.8 1126.6 427.1 1127.5 C429.4 1128.4 431.3 1131.2 433.4 1132.8 C435.5 1134.3 437.6 1137.1 439.7 1137.0 C441.8 1136.8 444.6 1133.8 446.1 1131.7 C447.5 1129.6 446.4 1124.3 448.2 1124.3 C449.9 1124.3 454.5 1129.2 456.6 1131.7 C458.6 1134.0 459.6 1136.4 460.8 1139.1 C462.0 1141.7 462.4 1144.7 464.0 1147.5 C465.7 1150.7 468.7 1154.5 471.4 1158.1 C474.0 1161.6 477.0 1165.6 479.8 1168.6 C482.6 1171.5 486.3 1173.2 488.2 1176.0 C490.2 1178.8 490.2 1182.1 491.4 1185.5 C492.6 1188.8 494.1 1192.2 495.6 1196.0 C497.2 1199.9 500.0 1204.1 500.9 1208.7 C501.8 1213.2 500.9 1221.0 500.9 1223.4"/>
<polyline points="464.0,1147.5 433.4,1159.1 428.1,1161.2 421.8,1172.8 421.8,1183.4 408.1,1190.7 389.1,1174.9 377.5,1170.7 370.1,1179.1 359.6,1196.0 338.5,1221.3"/>
<path d="M293.2 1090.6 C296.2 1095.8 305.6 1115.2 311.1 1122.2 C315.1 1127.4 320.9 1129.9 325.8 1132.8 C330.8 1135.6 337.1 1136.6 340.6 1139.1 C343.7 1141.3 344.8 1144.4 346.9 1147.5 C349.7 1151.7 353.6 1159.1 357.5 1164.4 C361.3 1169.7 368.0 1176.7 370.1 1179.1"/>
<path d="M409.1 983.0 C409.9 980.7 414.4 975.5 416.5 974.6 C418.6 973.7 420.7 976.0 421.8 977.8 C422.9 979.5 423.5 982.5 423.3 985.1 C423.1 987.8 421.9 992.2 420.7 993.6 C419.8 994.8 417.1 994.4 416.5 993.6 C416.0 992.7 418.3 989.2 417.6 988.3 C416.9 987.4 413.7 989.2 412.3 988.3 C410.9 987.4 408.5 985.1 409.1 983.0 Z"/>
<path d="M407.7 1026.3 C407.0 1025.2 410.1 1019.2 412.3 1016.8 C414.5 1014.3 419.1 1011.7 420.7 1011.5 C422.4 1011.3 423.0 1014.2 422.4 1015.7 C421.7 1017.6 419.0 1021.3 416.5 1023.1 C414.1 1024.9 408.4 1027.3 407.7 1026.3 Z"/>
<path d="M341.7 1027.3 C342.0 1026.4 345.5 1025.6 346.9 1026.3 C348.3 1027.0 349.9 1029.8 350.1 1031.5 C350.3 1033.3 348.0 1035.4 348.0 1036.8 C348.0 1038.2 350.5 1039.8 350.1 1040.0 C349.7 1040.1 346.8 1039.3 345.9 1037.9 C345.0 1036.4 345.5 1033.3 344.8 1031.5 C344.1 1029.8 341.3 1028.2 341.7 1027.3 Z"/>
<path d="M497.7 1152.2 C497.9 1151.2 501.8 1150.9 503.0 1151.3 C504.2 1151.8 505.3 1153.9 505.1 1154.9 C504.9 1155.8 503.2 1157.5 501.9 1157.0 C500.7 1156.5 497.5 1153.1 497.7 1152.2 Z"/>
<path d="M683.3 1135.9 C684.2 1135.1 688.7 1134.3 689.6 1134.9 C690.5 1135.4 689.4 1138.3 688.6 1139.1 C687.7 1139.9 685.2 1140.0 684.3 1139.5 C683.5 1139.0 682.4 1136.7 683.3 1135.9 Z"/>
<path d="M698.1 1137.0 C698.4 1136.3 702.8 1135.4 703.3 1135.9 C703.9 1136.4 702.1 1140.0 701.2 1140.1 C700.3 1140.3 697.7 1137.7 698.1 1137.0 Z"/>
<path d="M592.0 1155.5 C592.9 1154.9 597.7 1154.5 598.9 1154.9 C600.0 1155.3 600.5 1157.5 599.6 1158.1 C598.7 1158.7 594.9 1158.9 593.7 1158.5 C592.5 1158.1 591.1 1156.1 592.0 1155.5 Z"/>
<polyline points="446.1,903.9 451.3,915.5 448.2,926.1 443.9,917.7 442.9,920.8 448.2,928.2 452.4,940.8 458.7,964.0 461.9,974.6 469.2,989.4 476.6,997.8 478.7,1010.4 484.0,1023.1 485.1,1035.7 479.8,1044.2 478.7,1063.2 476.6,1074.8 480.8,1084.2 488.2,1095.8 493.5,1104.3 500.9,1113.8 507.2,1124.3 509.3,1137.0 507.2,1149.6 511.4,1150.7 523.0,1141.2 532.5,1144.4 543.1,1147.5 562.0,1154.9 566.3,1161.2 578.9,1160.2 591.6,1155.9 602.1,1157.0 612.6,1155.9 626.4,1151.7 631.6,1146.5 644.3,1135.9 652.7,1133.2 663.3,1135.9 666.4,1142.2 677.0,1139.1 684.3,1144.4 690.7,1141.2 686.5,1134.9 694.9,1131.7 703.3,1132.8 709.7,1128.5 711.8,1122.2 718.1,1113.8 728.6,1108.5 749.7,1103.2 760.3,1094.8 764.5,1086.4 775.0,1077.9 783.5,1069.5 790.0,1066.3 786.3,1067.4 805.3,1062.1 818.0,1060.0 841.2,1058.5 857.0,1055.1 860.1,1056.8 866.5,1058.3 889.7,1058.3 906.5,1055.1 915.0,1056.4 930.8,1050.5 943.4,1043.1 974.0,1036.2 1003.5,1027.7 1012.0,1022.5 1024.6,1010.9 1037.3,998.8 1058.4,991.9 1063.6,988.7 1071.0,980.9 1082.6,976.7 1097.4,980.3 1104.8,984.7 1104.8,987.9 1123.7,982.4 1136.4,982.4 1140.6,985.1 1151.2,978.0 1168.0,978.0 1174.3,974.2 1182.8,965.7 1189.1,962.4 1192.3,953.9 1199.7,947.6 1208.1,942.5 1208.1,935.2 1214.4,923.6 1220.7,918.1 1231.3,916.0 1233.4,912.4 1250.3,905.0 1280.5,890.2 1301.6,884.3 1324.8,877.6 1336.4,876.5 1339.6,880.7 1352.2,876.5 1356.5,877.6 1371.2,868.1 1377.5,867.0 1390.2,856.5 1402.9,851.2 1417.6,850.2 1440.8,842.8 1466.1,838.6 1493.5,831.2 1503.0,827.0 1506.2,828.0 1529.4,816.4 1545.2,815.4 1544.1,809.0 1548.4,804.8 1565.2,798.5 1569.5,799.6 1571.6,794.3 1590.5,786.9 1599.0,783.7 1615.8,779.5 1618.0,774.2 1615.8,767.9 1614.8,751.1 1609.5,744.7 1609.5,740.5 1606.8,732.1 1609.5,725.7 1614.8,716.3 1614.8,711.0 1624.3,696.2 1632.7,688.8 1647.5,678.3 1660.1,670.9 1681.2,664.6 1706.5,653.0 1712.9,650.9 1724.4,648.8 1740.3,642.4 1757.1,637.2 1771.9,636.1"/>
<path d="M1594.8 1208.7 C1595.5 1207.7 1598.6 1205.5 1601.1 1205.5 C1603.5 1205.5 1606.7 1208.0 1609.5 1208.7 C1612.3 1209.4 1614.9 1209.4 1618.0 1209.7 C1621.1 1210.1 1625.3 1210.1 1628.5 1210.8 C1631.7 1211.5 1635.9 1213.0 1636.9 1213.9 C1637.8 1214.8 1636.1 1216.6 1634.8 1216.7 C1633.1 1216.9 1629.2 1215.1 1626.4 1215.0 C1623.6 1214.9 1620.4 1216.4 1618.0 1216.1 C1615.5 1215.7 1614.1 1213.6 1611.6 1212.9 C1609.2 1212.2 1605.7 1212.1 1603.2 1211.8 C1600.9 1211.6 1598.3 1211.7 1596.9 1211.2 C1595.8 1210.8 1594.1 1209.6 1594.8 1208.7 Z"/>
<path d="M1711.8 1216.1 C1712.5 1215.2 1715.1 1213.9 1717.1 1213.9 C1719.0 1213.9 1722.2 1215.0 1723.4 1216.1 C1724.6 1217.1 1725.5 1219.4 1724.4 1220.3 C1723.4 1221.1 1719.0 1221.5 1717.1 1221.3 C1715.4 1221.2 1713.7 1220.1 1712.9 1219.2 C1712.0 1218.4 1711.1 1216.9 1711.8 1216.1 Z"/>
<path d="M1771.9 1152.8 C1770.7 1153.1 1765.9 1153.0 1764.5 1154.9 C1763.1 1156.8 1764.3 1162.3 1763.5 1164.4 C1762.7 1166.1 1761.0 1166.9 1759.2 1167.5 C1757.5 1168.2 1753.6 1167.5 1752.9 1168.2 C1752.2 1168.9 1753.9 1170.8 1755.0 1171.8 C1756.8 1173.2 1760.7 1175.6 1763.5 1177.0 C1766.3 1178.4 1770.5 1179.7 1771.9 1180.2"/>
</g>
<g fill="#000">
<polygon points="299.0,426.3 265.5,401.1 272.9,397.4 236.8,384.2 259.6,415.1 261.1,407.0 294.6,432.1"/>
<polygon points="299.0,524.0 265.5,498.8 272.9,495.1 236.8,481.9 259.6,512.8 261.1,504.7 294.6,529.8"/>
<polygon points="299.0,622.1 265.5,596.9 272.9,593.2 236.8,580.0 259.6,610.9 261.1,602.8 294.6,627.9"/>
<polygon points="299.0,720.6 265.5,695.4 272.9,691.7 236.8,678.5 259.6,709.4 261.1,701.3 294.6,726.4"/>
<polygon points="299.0,819.5 265.5,794.3 272.9,790.6 236.8,777.4 259.6,808.3 261.1,800.2 294.6,825.3"/>
<polygon points="299.0,918.8 265.5,893.6 272.9,889.9 236.8,876.7 259.6,907.6 261.1,899.5 294.6,924.6"/>
<polygon points="299.0,1018.4 265.5,993.2 272.9,989.5 236.8,976.3 259.6,1007.2 261.1,999.1 294.6,1024.2"/>
<polygon points="299.0,1118.3 265.5,1093.1 272.9,1089.4 236.8,1076.2 259.6,1107.1 261.1,1099.0 294.6,1124.1"/>
<polygon points="402.4,334.3 426.5,304.2 429.9,311.7 444.3,276.1 412.7,297.9 420.7,299.6 396.6,329.7"/>
<polygon points="505.9,331.8 504.5,309.4 512.1,312.6 498.7,276.6 490.0,314.0 497.2,309.9 498.6,332.2"/>
<polygon points="603.7,334.9 606.6,336.2 601.0,340.6 633.7,345.5 609.1,323.4 609.3,330.5 606.4,329.1"/>
<polygon points="706.5,328.6 663.3,345.2 664.1,337.0 633.7,360.5 672.0,357.6 665.9,352.0 709.1,335.4"/>
<polygon points="808.8,328.8 784.0,343.0 783.6,334.7 757.1,362.6 794.5,353.9 787.7,349.3 812.4,335.2"/>
<polygon points="909.7,332.3 910.8,345.1 903.2,342.1 917.5,377.8 925.2,340.2 918.2,344.5 917.0,331.7"/>
<polygon points="1012.5,331.5 1010.1,349.1 1003.3,344.4 1009.2,382.4 1025.1,347.4 1017.4,350.1 1019.8,332.5"/>
<polygon points="1115.2,331.6 1113.9,342.8 1107.0,338.2 1113.6,376.1 1128.9,340.9 1121.2,343.7 1122.5,332.4"/>
<polygon points="1218.3,330.4 1208.1,351.7 1203.1,345.1 1197.1,383.1 1223.0,354.7 1214.8,354.8 1225.0,333.6"/>
<polygon points="1320.8,332.7 1324.7,354.3 1316.8,352.0 1334.3,386.2 1338.6,348.0 1332.0,353.0 1328.1,331.3"/>
<polygon points="1423.6,331.4 1420.1,354.0 1413.4,349.2 1418.7,387.3 1435.2,352.6 1427.4,355.1 1430.8,332.6"/>
<polygon points="1526.3,331.8 1525.6,343.4 1518.5,339.3 1527.3,376.7 1540.5,340.6 1532.9,343.9 1533.6,332.2"/>
<polygon points="1629.1,331.2 1617.8,382.6 1611.4,377.4 1614.2,415.7 1632.9,382.2 1625.0,384.2 1636.3,332.8"/>
<polygon points="1732.1,333.5 1739.0,349.0 1730.8,348.6 1755.7,377.8 1751.0,339.7 1745.7,346.0 1738.9,330.5"/>
<polygon points="396.9,430.8 398.5,433.4 391.6,434.0 415.5,455.4 407.4,424.4 403.7,430.2 402.1,427.6"/>
<polygon points="502.7,426.5 500.1,426.1 503.6,421.2 475.6,424.6 500.9,437.2 499.1,431.4 501.8,431.9"/>
<polygon points="602.9,432.2 621.6,445.7 614.3,449.5 650.6,462.1 627.2,431.6 625.9,439.7 607.2,426.2"/>
<polygon points="704.1,428.8 702.2,448.9 695.2,444.5 702.7,482.2 717.2,446.6 709.5,449.6 711.5,429.6"/>
<polygon points="807.1,430.4 816.7,459.7 808.6,458.5 830.6,490.0 829.6,451.6 823.7,457.4 814.1,428.0"/>
<polygon points="909.9,428.0 889.9,486.2 884.2,480.3 882.7,518.7 905.1,487.5 896.9,488.6 916.8,430.4"/>
<polygon points="1013.0,427.3 994.0,459.2 989.6,452.3 980.3,489.6 1008.6,463.6 1000.4,463.0 1019.3,431.1"/>
<polygon points="1116.2,426.7 1109.5,434.1 1106.5,426.4 1090.0,461.1 1122.9,441.2 1115.0,439.0 1121.6,431.7"/>
<polygon points="1220.1,428.9 1219.8,430.5 1217.0,428.3 1218.6,444.8 1226.3,430.1 1222.9,431.1 1223.2,429.5"/>
<polygon points="1321.0,430.6 1335.6,467.5 1327.4,466.8 1351.2,497.0 1348.0,458.7 1342.5,464.8 1327.9,427.8"/>
<polygon points="1430.4,431.0 1433.1,426.0 1437.9,432.7 1445.7,395.1 1418.4,422.2 1426.7,422.5 1424.0,427.4"/>
<polygon points="1526.3,429.1 1526.2,434.2 1518.9,430.3 1529.0,467.4 1541.0,430.9 1533.5,434.4 1533.6,429.3"/>
<polygon points="1631.3,426.2 1628.3,427.6 1628.4,420.2 1602.6,443.6 1637.1,438.2 1631.2,433.7 1634.2,432.2"/>
<polygon points="1738.5,431.3 1746.3,420.3 1750.2,427.5 1762.4,391.1 1732.2,414.8 1740.3,416.0 1732.5,427.1"/>
<polygon points="399.5,523.2 364.2,523.3 367.9,516.0 331.1,527.1 367.9,538.0 364.2,530.7 399.5,530.6"/>
<polygon points="501.1,523.4 374.6,566.1 375.7,558.0 344.4,580.2 382.8,578.9 377.0,573.1 503.4,530.4"/>
<polygon points="602.3,529.3 630.6,561.5 622.6,563.6 655.2,584.0 639.2,549.1 636.1,556.7 607.8,524.5"/>
<polygon points="706.4,530.3 760.0,552.3 753.8,557.7 792.0,561.5 762.2,537.3 762.8,545.5 709.2,523.5"/>
<polygon points="807.0,526.0 794.4,573.6 788.2,568.2 789.5,606.6 809.6,573.8 801.5,575.5 814.1,527.8"/>
<polygon points="909.7,527.1 910.8,551.1 903.3,547.8 916.0,584.0 925.3,546.7 918.1,550.7 917.0,526.7"/>
<polygon points="1012.7,525.6 1005.9,542.8 1000.4,536.7 997.2,575.0 1020.9,544.8 1012.7,545.5 1019.5,528.2"/>
<polygon points="1115.4,527.9 1116.6,532.2 1108.5,530.8 1129.6,562.9 1129.7,524.5 1123.7,530.1 1122.4,525.9"/>
<polygon points="1225.3,526.9 1225.2,484.7 1232.6,488.4 1221.4,451.6 1210.5,488.4 1217.8,484.7 1218.0,526.9"/>
<polygon points="1328.1,527.4 1337.3,456.4 1344.1,461.0 1337.9,423.1 1322.2,458.2 1330.0,455.5 1320.8,526.4"/>
<polygon points="1430.6,528.2 1450.6,477.0 1456.1,483.1 1459.2,444.8 1435.5,475.1 1443.7,474.3 1423.8,525.6"/>
<polygon points="1533.6,527.4 1541.8,467.6 1548.6,472.3 1542.7,434.3 1526.8,469.3 1534.5,466.6 1526.3,526.4"/>
<polygon points="1635.3,529.5 1678.5,487.5 1681.0,495.3 1699.6,461.7 1665.5,479.5 1673.3,482.2 1630.2,524.3"/>
<polygon points="1738.6,528.9 1775.7,471.2 1779.9,478.2 1790.5,441.3 1761.3,466.3 1769.5,467.2 1732.4,524.9"/>
<polygon points="399.3,621.3 391.3,621.9 394.5,614.3 358.5,627.7 395.9,636.3 391.8,629.2 399.7,628.7"/>
<polygon points="500.8,621.6 343.3,688.9 343.8,680.7 314.3,705.3 352.5,701.0 346.2,695.7 503.7,628.4"/>
<polygon points="604.1,621.4 573.1,629.7 574.7,621.7 542.0,641.8 580.4,643.0 575.0,636.8 606.0,628.6"/>
<polygon points="706.3,628.3 745.1,646.5 738.7,651.6 776.7,657.2 748.0,631.6 748.3,639.8 709.4,621.7"/>
<polygon points="809.1,628.4 873.7,656.7 867.4,662.0 905.5,666.7 876.2,641.8 876.7,650.0 812.1,621.6"/>
<polygon points="910.3,622.9 896.2,643.6 892.2,636.4 880.6,673.0 910.5,648.8 902.3,647.7 916.4,627.1"/>
<polygon points="1012.6,623.9 1010.2,631.8 1004.2,626.2 1004.2,664.6 1025.4,632.5 1017.3,633.9 1019.6,626.1"/>
<polygon points="1121.9,622.9 1079.5,559.9 1087.7,558.9 1058.0,534.5 1069.4,571.2 1073.4,564.0 1115.8,627.1"/>
<polygon points="1225.3,625.0 1225.4,582.8 1232.8,586.5 1221.8,549.7 1210.7,586.5 1218.1,582.8 1218.0,625.0"/>
<polygon points="1328.1,624.8 1324.6,567.3 1332.2,570.6 1318.9,534.5 1310.1,571.9 1317.2,567.8 1320.8,625.2"/>
<polygon points="1430.8,625.6 1434.5,605.1 1441.1,610.0 1436.6,571.8 1419.3,606.1 1427.2,603.8 1423.6,624.4"/>
<polygon points="1529.7,622.7 1527.5,623.0 1529.3,618.2 1507.2,627.3 1530.7,631.8 1527.9,627.5 1530.2,627.3"/>
<polygon points="1636.2,626.2 1645.2,601.0 1650.9,607.0 1652.8,568.6 1630.1,599.6 1638.2,598.6 1629.3,623.8"/>
<polygon points="1738.9,626.4 1755.1,588.0 1760.4,594.2 1764.5,556.0 1740.1,585.7 1748.3,585.1 1732.1,623.6"/>
<polygon points="401.1,720.2 364.7,702.3 371.3,697.3 333.4,691.0 361.6,717.1 361.5,708.9 397.9,726.8"/>
<polygon points="501.8,719.8 425.1,729.1 427.9,721.3 392.7,736.7 430.6,743.3 426.0,736.4 502.7,727.2"/>
<polygon points="608.7,723.0 604.7,691.7 612.4,694.4 596.8,659.3 590.5,697.2 597.4,692.6 601.4,724.0"/>
<polygon points="708.0,725.7 710.3,725.5 708.4,730.2 730.3,721.5 707.2,716.8 709.9,721.1 707.6,721.3"/>
<polygon points="806.9,723.3 805.1,765.3 797.9,761.3 807.4,798.5 820.0,762.2 812.5,765.6 814.3,723.7"/>
<polygon points="914.9,725.9 917.3,724.3 917.9,730.6 937.1,708.2 908.8,716.4 914.2,719.6 911.8,721.1"/>
<polygon points="1015.0,720.0 983.7,730.1 985.0,721.9 953.3,743.7 991.7,742.9 986.0,737.1 1017.2,727.0"/>
<polygon points="1118.3,721.3 1116.1,721.9 1117.1,716.9 1097.0,729.5 1120.7,730.1 1117.3,726.3 1119.5,725.7"/>
<polygon points="1225.3,723.5 1225.4,718.8 1232.7,722.5 1221.8,685.7 1210.6,722.5 1218.0,718.8 1218.0,723.5"/>
<polygon points="1321.8,721.0 1315.9,727.1 1313.1,719.4 1295.7,753.6 1329.1,734.6 1321.2,732.2 1327.1,726.0"/>
<polygon points="1430.8,724.3 1436.4,698.2 1442.8,703.3 1439.8,665.0 1421.3,698.7 1429.2,696.6 1423.6,722.7"/>
<polygon points="1531.3,724.9 1532.7,723.5 1534.0,727.6 1543.7,709.9 1525.9,719.4 1530.0,720.8 1528.6,722.1"/>
<polygon points="1636.1,725.0 1648.7,697.3 1653.9,703.7 1659.1,665.6 1633.8,694.5 1642.0,694.2 1629.4,722.0"/>
<polygon points="1737.8,725.4 1739.7,723.1 1742.4,729.2 1754.4,700.4 1728.6,717.8 1735.1,719.3 1733.2,721.6"/>
<polygon points="400.0,818.8 385.9,816.8 390.6,810.0 352.6,816.0 387.6,831.9 384.9,824.1 399.0,826.0"/>
<polygon points="500.6,819.1 488.0,825.8 487.8,817.6 460.4,844.5 498.1,837.1 491.4,832.3 504.0,825.7"/>
<polygon points="601.6,821.2 596.9,834.5 591.2,828.6 589.5,867.0 612.0,835.9 603.9,836.9 608.5,823.6"/>
<polygon points="705.7,825.4 739.4,848.7 732.2,852.7 768.7,864.5 744.7,834.5 743.6,842.6 709.9,819.4"/>
<polygon points="808.5,825.5 845.7,850.3 838.6,854.4 875.3,865.6 850.8,836.0 849.8,844.2 812.6,819.3"/>
<polygon points="916.8,821.1 901.4,779.4 909.6,780.3 886.5,749.6 888.9,787.9 894.5,781.9 909.9,823.7"/>
<polygon points="1019.7,823.1 1023.9,800.1 1030.5,805.1 1026.3,766.9 1008.8,801.1 1016.7,798.8 1012.5,821.7"/>
<polygon points="1122.1,824.1 1144.3,783.0 1149.1,789.7 1156.8,752.1 1129.6,779.3 1137.8,779.5 1115.7,820.7"/>
<polygon points="1225.2,821.4 1215.7,787.2 1223.7,788.8 1203.2,756.3 1202.5,794.7 1208.6,789.2 1218.1,823.4"/>
<polygon points="1326.4,819.3 1312.8,810.4 1319.9,806.2 1283.1,795.3 1307.8,824.7 1308.8,816.5 1322.4,825.5"/>
<polygon points="1427.4,824.1 1429.1,824.0 1427.7,827.6 1444.6,820.6 1426.7,817.2 1428.8,820.5 1427.0,820.7"/>
<polygon points="1527.5,820.1 1525.3,822.5 1522.7,815.6 1507.2,846.6 1537.2,829.2 1530.1,827.1 1532.4,824.7"/>
<polygon points="1635.8,824.5 1654.1,798.3 1658.0,805.5 1670.0,769.0 1639.9,792.9 1648.0,794.1 1629.7,820.3"/>
<polygon points="1739.2,822.1 1738.3,809.2 1745.9,812.3 1732.3,776.4 1723.8,813.9 1730.9,809.7 1731.8,822.7"/>
<polygon points="403.1,920.9 392.8,876.3 400.8,878.3 381.7,844.9 379.3,883.2 385.6,878.0 395.9,922.5"/>
<polygon points="501.4,921.2 500.9,922.1 499.7,920.2 497.3,930.4 504.9,923.2 502.6,923.1 503.1,922.2"/>
<polygon points="603.7,918.3 491.6,960.6 492.4,952.4 461.9,975.7 500.2,973.0 494.2,967.5 606.3,925.1"/>
<polygon points="705.9,924.8 744.0,948.7 736.9,952.9 774.0,963.1 748.7,934.2 747.9,942.4 709.8,918.6"/>
<polygon points="813.0,924.5 852.5,889.6 854.6,897.5 874.9,864.9 840.0,881.0 847.6,884.1 808.1,918.9"/>
<polygon points="917.0,921.9 918.4,895.7 925.5,899.7 916.4,862.4 903.5,898.6 911.0,895.3 909.7,921.5"/>
<polygon points="1012.8,923.3 1021.6,941.2 1013.3,941.2 1039.4,969.4 1033.2,931.5 1028.2,938.0 1019.4,920.1"/>
<polygon points="1117.5,925.1 1121.2,926.6 1115.0,932.0 1153.3,935.5 1123.3,911.6 1123.9,919.8 1120.3,918.3"/>
<polygon points="1220.2,921.8 1220.3,923.3 1217.2,922.0 1222.8,936.7 1226.2,921.4 1223.3,923.1 1223.2,921.6"/>
<polygon points="1324.5,920.2 1323.0,920.2 1324.5,917.3 1309.6,921.3 1324.3,926.1 1322.9,923.1 1324.4,923.2"/>
<polygon points="1425.4,921.4 1425.2,923.2 1421.9,920.9 1424.6,939.3 1432.5,922.5 1428.7,923.7 1429.0,922.0"/>
<polygon points="1530.6,920.0 1528.9,919.3 1532.0,916.5 1512.5,915.0 1528.0,926.9 1527.6,922.8 1529.3,923.4"/>
<polygon points="1635.7,919.8 1633.7,916.8 1641.6,915.9 1613.3,892.3 1623.9,927.5 1627.9,920.7 1629.8,923.6"/>
<polygon points="1738.7,921.0 1738.0,917.9 1745.0,919.7 1728.7,890.2 1726.1,923.7 1731.7,919.2 1732.4,922.4"/>
<polygon points="402.8,1019.6 352.6,921.2 360.8,921.2 334.3,893.4 341.2,931.2 346.1,924.6 396.2,1023.0"/>
<polygon points="505.9,1021.3 504.1,1024.5 500.4,1024.5 498.6,1021.3 500.4,1018.1 504.1,1018.1"/>
<polygon points="601.6,1020.0 588.7,1052.6 583.2,1046.5 580.0,1084.8 603.8,1054.6 595.6,1055.3 608.5,1022.6"/>
<polygon points="704.2,1020.4 682.4,1108.7 676.1,1103.3 678.0,1141.7 697.6,1108.6 689.5,1110.4 711.4,1022.2"/>
<polygon points="811.0,1019.3 809.1,1018.9 812.0,1015.4 791.0,1016.6 809.2,1027.2 808.2,1022.8 810.1,1023.3"/>
<polygon points="910.0,1019.9 893.7,1059.1 888.3,1052.9 884.4,1091.1 908.7,1061.3 900.5,1061.9 916.7,1022.7"/>
<polygon points="1012.5,1020.7 1009.5,1039.4 1002.8,1034.6 1007.8,1072.7 1024.6,1038.1 1016.7,1040.6 1019.8,1021.9"/>
<polygon points="1115.2,1021.1 1113.9,1043.7 1106.8,1039.6 1115.7,1077.0 1128.8,1040.9 1121.3,1044.1 1122.6,1021.5"/>
<polygon points="1218.9,1019.4 1217.0,1022.2 1213.4,1015.6 1202.8,1048.9 1229.9,1027.0 1222.5,1025.9 1224.4,1023.2"/>
<polygon points="1323.0,1018.4 1320.1,1019.8 1320.3,1012.6 1295.3,1035.2 1328.6,1030.0 1322.9,1025.6 1325.8,1024.2"/>
<polygon points="1427.3,1017.6 1417.7,1017.3 1421.7,1010.1 1384.5,1019.8 1420.9,1032.1 1417.5,1024.6 1427.1,1025.0"/>
<polygon points="1531.3,1017.9 1509.8,1009.3 1516.0,1003.8 1477.7,1000.4 1507.8,1024.3 1507.1,1016.1 1528.6,1024.7"/>
<polygon points="1635.1,1018.4 1631.2,1015.3 1638.7,1011.9 1603.2,997.2 1624.7,1029.0 1626.5,1021.0 1630.4,1024.2"/>
<polygon points="1737.5,1021.3 1737.5,1019.4 1741.3,1021.4 1736.0,1001.9 1729.7,1021.2 1733.6,1019.3 1733.6,1021.3"/>
<polygon points="403.2,1121.4 403.4,1116.2 410.6,1120.2 401.1,1083.0 388.5,1119.3 396.0,1115.9 395.8,1121.0"/>
<polygon points="504.4,1118.2 417.1,1054.9 424.4,1051.1 388.1,1038.4 411.4,1068.9 412.8,1060.8 500.1,1124.2"/>
<polygon points="603.4,1117.9 562.6,1138.4 562.6,1130.1 534.6,1156.5 572.4,1149.9 565.9,1145.0 606.7,1124.5"/>
<polygon points="704.2,1120.7 697.3,1166.4 690.6,1161.7 696.0,1199.7 712.4,1165.0 704.6,1167.5 711.4,1121.7"/>
<polygon points="808.7,1118.0 741.7,1157.1 741.1,1148.8 714.9,1176.9 752.3,1167.9 745.4,1163.4 812.4,1124.4"/>
<polygon points="910.5,1118.9 869.9,1169.5 866.5,1162.0 852.1,1197.6 883.7,1175.8 875.7,1174.1 916.2,1123.5"/>
<polygon points="1013.3,1118.9 980.0,1159.1 976.7,1151.6 961.8,1187.0 993.7,1165.6 985.7,1163.8 1019.0,1123.5"/>
<polygon points="1116.2,1118.7 1087.1,1150.2 1084.2,1142.6 1067.4,1177.1 1100.5,1157.5 1092.5,1155.2 1121.6,1123.7"/>
<polygon points="1219.7,1118.1 1197.2,1132.4 1196.3,1124.2 1171.2,1153.3 1208.2,1142.9 1201.1,1138.6 1223.6,1124.3"/>
<polygon points="1325.1,1117.6 1304.4,1113.9 1309.3,1107.3 1271.1,1111.8 1305.4,1129.1 1303.1,1121.2 1323.8,1124.8"/>
<polygon points="1429.2,1118.1 1409.3,1104.9 1416.5,1100.8 1379.7,1089.6 1404.2,1119.2 1405.2,1111.0 1425.2,1124.3"/>
<polygon points="1532.2,1118.3 1506.7,1098.1 1514.1,1094.6 1478.4,1080.5 1500.4,1112.0 1502.1,1103.9 1527.7,1124.1"/>
<polygon points="1636.3,1120.4 1634.8,1113.2 1642.8,1115.3 1624.3,1081.6 1621.2,1119.9 1627.6,1114.8 1629.1,1122.0"/>
<polygon points="1737.7,1122.1 1738.6,1120.0 1742.0,1124.0 1744.9,1099.5 1729.0,1118.4 1734.3,1118.1 1733.3,1120.3"/>
<polygon points="402.0,1218.8 308.0,1132.3 315.7,1129.4 281.1,1112.6 300.7,1145.6 303.0,1137.7 397.0,1224.2"/>
<polygon points="503.6,1218.1 458.2,1200.7 464.3,1195.1 426.0,1192.3 456.4,1215.8 455.6,1207.6 501.0,1224.9"/>
<polygon points="601.4,1220.8 600.3,1226.8 593.8,1221.8 598.0,1260.0 615.5,1225.8 607.6,1228.1 608.7,1222.2"/>
<polygon points="704.2,1221.0 700.7,1246.7 693.9,1242.1 700.0,1280.0 715.8,1245.0 708.0,1247.7 711.5,1222.0"/>
<polygon points="806.9,1221.1 803.5,1256.7 796.5,1252.3 804.0,1290.0 818.5,1254.4 810.8,1257.4 814.2,1221.9"/>
<polygon points="909.7,1221.1 905.4,1256.7 898.5,1252.1 905.0,1290.0 920.4,1254.8 912.7,1257.6 917.0,1221.9"/>
<polygon points="1012.5,1221.2 1009.3,1256.7 1002.3,1252.4 1010.0,1290.0 1024.3,1254.3 1016.6,1257.3 1019.8,1221.8"/>
<polygon points="1115.4,1220.4 1106.7,1247.4 1100.8,1241.6 1100.0,1280.0 1121.8,1248.4 1113.7,1249.6 1122.4,1222.6"/>
<polygon points="1220.8,1217.9 1191.9,1225.2 1193.7,1217.1 1160.7,1236.8 1199.1,1238.5 1193.7,1232.3 1222.6,1225.1"/>
<polygon points="1323.9,1217.9 1312.2,1219.6 1314.8,1211.7 1280.0,1228.0 1318.0,1233.6 1313.3,1226.8 1325.0,1225.1"/>
<polygon points="1429.8,1218.9 1404.4,1194.4 1412.1,1191.6 1378.0,1174.0 1396.8,1207.5 1399.3,1199.7 1424.6,1224.1"/>
<polygon points="1533.5,1220.5 1515.1,1156.7 1523.2,1158.2 1502.4,1125.9 1502.0,1164.3 1508.0,1158.7 1526.4,1222.5"/>
<polygon points="1636.4,1220.9 1627.5,1168.1 1635.4,1170.5 1618.4,1136.0 1613.6,1174.1 1620.2,1169.3 1629.1,1222.1"/>
<polygon points="1739.1,1220.9 1732.3,1179.1 1740.2,1181.6 1723.4,1147.0 1718.4,1185.1 1725.1,1180.3 1731.9,1222.1"/>
</g>
<g stroke="#808080" stroke-opacity="0.14" stroke-width="2.08" fill="none">
<line x1="320.9" y1="293.5" x2="320.9" y2="1222.0"/>
<line x1="510.9" y1="293.5" x2="510.9" y2="1222.0"/>
<line x1="700.9" y1="293.5" x2="700.9" y2="1222.0"/>
<line x1="890.9" y1="293.5" x2="890.9" y2="1222.0"/>
<line x1="1080.9" y1="293.5" x2="1080.9" y2="1222.0"/>
<line x1="1270.9" y1="293.5" x2="1270.9" y2="1222.0"/>
<line x1="1460.9" y1="293.5" x2="1460.9" y2="1222.0"/>
<line x1="1650.9" y1="293.5" x2="1650.9" y2="1222.0"/>
<line x1="296.5" y1="350.8" x2="1767.5" y2="350.8"/>
<line x1="296.5" y1="477.4" x2="1767.5" y2="477.4"/>
<line x1="296.5" y1="603.9" x2="1767.5" y2="603.9"/>
<line x1="296.5" y1="730.5" x2="1767.5" y2="730.5"/>
<line x1="296.5" y1="857.0" x2="1767.5" y2="857.0"/>
<line x1="296.5" y1="983.5" x2="1767.5" y2="983.5"/>
<line x1="296.5" y1="1110.1" x2="1767.5" y2="1110.1"/>
</g>
</g>
<rect x="296.50" y="293.50" width="1471.00" height="928.50" fill="none" stroke="#000" stroke-width="3.33"/>
<rect x="1858.8" y="1177.7" width="58.0" height="157.5" fill="#fcfed3"/>
<rect x="1858.8" y="1020.6" width="58.0" height="157.5" fill="#f3fabd"/>
<rect x="1858.8" y="863.6" width="58.0" height="157.5" fill="#d1edb3"/>
<rect x="1858.8" y="706.6" width="58.0" height="157.5" fill="#76cabc"/>
<rect x="1858.8" y="549.6" width="58.0" height="157.5" fill="#2ea3c2"/>
<rect x="1858.8" y="392.5" width="58.0" height="157.5" fill="#2262aa"/>
<rect x="1858.8" y="235.5" width="58.0" height="157.5" fill="#1c2d81"/>
<polygon points="1858.8,236.1 1858.8,235.5 1887.8,180.3 1916.8,235.5 1916.8,236.1" fill="#081d58"/>
<path d="M1858.8 1334.7 L1858.8 235.5 L1887.8 180.3 L1916.8 235.5 L1916.8 1334.7 Z" fill="none" stroke="#000" stroke-width="3.33" stroke-linejoin="miter"/>
<g stroke="#000" stroke-width="3.33">
<line x1="1918.2" y1="1334.7" x2="1933.1" y2="1334.7"/>
<line x1="1918.2" y1="1177.7" x2="1933.1" y2="1177.7"/>
<line x1="1918.2" y1="1020.6" x2="1933.1" y2="1020.6"/>
<line x1="1918.2" y1="863.6" x2="1933.1" y2="863.6"/>
<line x1="1918.2" y1="706.6" x2="1933.1" y2="706.6"/>
<line x1="1918.2" y1="549.6" x2="1933.1" y2="549.6"/>
<line x1="1918.2" y1="392.5" x2="1933.1" y2="392.5"/>
<line x1="1918.2" y1="235.5" x2="1933.1" y2="235.5"/>
</g>
<g font-size="41.67px">
<text x="1946.4" y="1349.7">5</text>
<text x="1946.4" y="1192.7">10</text>
<text x="1946.4" y="1035.6">20</text>
<text x="1946.4" y="878.6">40</text>
<text x="1946.4" y="721.6">60</text>
<text x="1946.4" y="564.6">80</text>
<text x="1946.4" y="407.5">100</text>
<text x="1946.4" y="250.5">120</text>
<text x="276.0" y="363.9" text-anchor="end">19°N</text>
<text x="276.0" y="490.5" text-anchor="end">18°N</text>
<text x="276.0" y="617.0" text-anchor="end">17°N</text>
<text x="276.0" y="743.6" text-anchor="end">16°N</text>
<text x="276.0" y="870.1" text-anchor="end">15°N</text>
<text x="276.0" y="996.6" text-anchor="end">14°N</text>
<text x="276.0" y="1123.2" text-anchor="end">13°N</text>
<text x="320.4" y="1275.9" text-anchor="middle">42°E</text>
<text x="510.4" y="1275.9" text-anchor="middle">43.5°E</text>
<text x="700.4" y="1275.9" text-anchor="middle">45°E</text>
<text x="890.4" y="1275.9" text-anchor="middle">46.5°E</text>
<text x="1080.4" y="1275.9" text-anchor="middle">48°E</text>
<text x="1270.4" y="1275.9" text-anchor="middle">49.5°E</text>
<text x="1460.4" y="1275.9" text-anchor="middle">51°E</text>
<text x="1650.4" y="1275.9" text-anchor="middle">52.5°E</text>
</g>
<g font-size="50px" text-anchor="middle">
<text x="1032" y="210.4">WS-10m(kmph) @ 20251016_03</text>
<text x="1032" y="268">Simulation Time: 20251015_12</text>
</g>
</svg></body></html>
